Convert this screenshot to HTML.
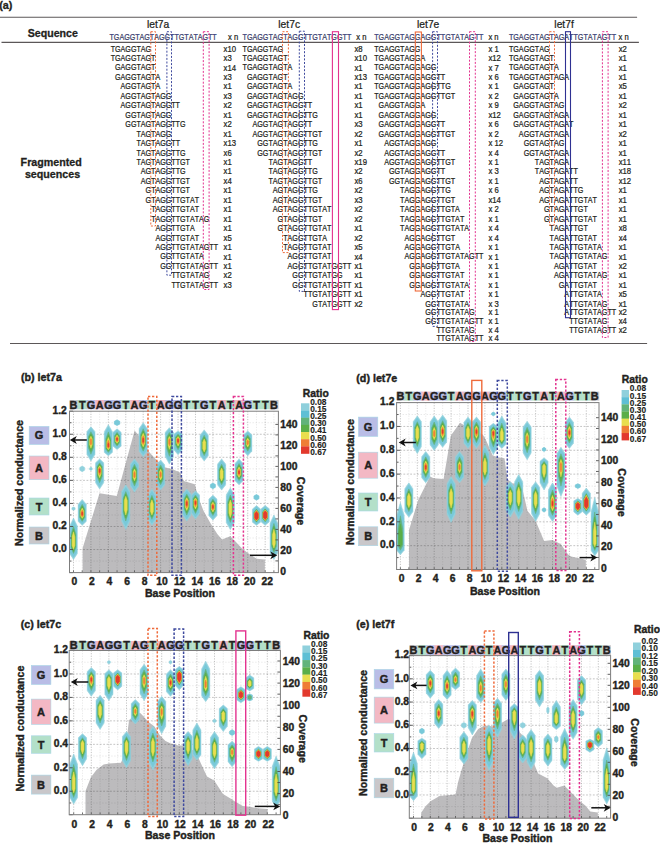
<!DOCTYPE html>
<html><head><meta charset="utf-8"><style>
html,body{margin:0;padding:0;background:#fff;width:660px;height:843px;overflow:hidden}
svg{display:block;font-family:"Liberation Sans",sans-serif;font-kerning:none}
.tb text{stroke:#231f20;stroke-width:0.24px} text[font-weight]{stroke:#231f20;stroke-width:0.4px} .tb text[font-weight]{stroke:#231f20;stroke-width:0.3px} text.cbl{stroke-width:0.15px}
</style></head><body>
<svg width="660" height="843" viewBox="0 0 660 843">
<g class="tb">
<text x="-0.80" y="9.30" font-size="10.8" font-weight="bold" fill="#231f20">(a)</text>
<line x1="0.00" y1="17.30" x2="637.10" y2="17.30" stroke="#5b5758" stroke-width="1.1"/>
<line x1="1.50" y1="42.40" x2="638.90" y2="42.40" stroke="#5b5758" stroke-width="1.1"/>
<line x1="10.00" y1="343.50" x2="647.10" y2="343.50" stroke="#5b5758" stroke-width="1.2"/>
<text x="27.80" y="37.30" font-size="10.6" font-weight="bold" fill="#231f20">Sequence</text>
<text x="51.20" y="165.80" font-size="10.7" font-weight="bold" text-anchor="middle" fill="#231f20">Fragmented</text>
<text x="52.50" y="178.00" font-size="10.7" font-weight="bold" text-anchor="middle" fill="#231f20">sequences</text>
<text x="158.10" y="28.30" font-size="10.3" text-anchor="middle" fill="#231f20">let7a</text>
<g transform="translate(109.50,0) scale(0.8023,1)">
<text x="0.00" y="39.60" font-size="8.9" fill="#4a52a3">TGAGGTAGTAGGTTGTATAGTT</text>
<text x="1.50" y="51.60" font-size="8.9" fill="#231f20">TGAGGTAG</text>
<text x="1.50" y="61.05" font-size="8.9" fill="#231f20">TGAGGTAGT</text>
<text x="6.93" y="70.50" font-size="8.9" fill="#231f20">GAGGTAGT</text>
<text x="6.93" y="79.95" font-size="8.9" fill="#231f20">GAGGTAGTA</text>
<text x="13.85" y="89.40" font-size="8.9" fill="#231f20">AGGTAGTA</text>
<text x="13.85" y="98.85" font-size="8.9" fill="#231f20">AGGTAGTAGG</text>
<text x="13.85" y="108.30" font-size="8.9" fill="#231f20">AGGTAGTAGGTT</text>
<text x="19.79" y="117.75" font-size="8.9" fill="#231f20">GGTAGTAGG</text>
<text x="19.79" y="127.20" font-size="8.9" fill="#231f20">GGTAGTAGGTTG</text>
<text x="33.64" y="136.65" font-size="8.9" fill="#231f20">TAGTAGG</text>
<text x="33.64" y="146.10" font-size="8.9" fill="#231f20">TAGTAGGTT</text>
<text x="33.64" y="155.55" font-size="8.9" fill="#231f20">TAGTAGGTTG</text>
<text x="33.64" y="165.00" font-size="8.9" fill="#231f20">TAGTAGGTTGT</text>
<text x="39.07" y="174.45" font-size="8.9" fill="#231f20">AGTAGGTTG</text>
<text x="39.07" y="183.90" font-size="8.9" fill="#231f20">AGTAGGTTGT</text>
<text x="45.01" y="193.35" font-size="8.9" fill="#231f20">GTAGGTTGT</text>
<text x="45.01" y="202.80" font-size="8.9" fill="#231f20">GTAGGTTGTAT</text>
<text x="51.93" y="212.25" font-size="8.9" fill="#231f20">TAGGTTGTAT</text>
<text x="51.93" y="221.70" font-size="8.9" fill="#231f20">TAGGTTGTATAG</text>
<text x="57.37" y="231.15" font-size="8.9" fill="#231f20">AGGTTGTA</text>
<text x="57.37" y="240.60" font-size="8.9" fill="#231f20">AGGTTGTAT</text>
<text x="57.37" y="250.05" font-size="8.9" fill="#231f20">AGGTTGTATAGTT</text>
<text x="63.30" y="259.50" font-size="8.9" fill="#231f20">GGTTGTATA</text>
<text x="63.30" y="268.95" font-size="8.9" fill="#231f20">GGTTGTATAGTT</text>
<text x="77.15" y="278.40" font-size="8.9" fill="#231f20">TTGTATAG</text>
<text x="77.15" y="287.85" font-size="8.9" fill="#231f20">TTGTATAGTT</text>
</g>
<text transform="translate(228.00,39.6) scale(0.86,1)" font-size="8.9" fill="#231f20">x n</text>
<text transform="translate(223.60,51.60) scale(0.87,1)" font-size="8.9" fill="#231f20" xml:space="preserve">x10</text>
<text transform="translate(223.60,61.05) scale(0.87,1)" font-size="8.9" fill="#231f20" xml:space="preserve">x3</text>
<text transform="translate(223.60,70.50) scale(0.87,1)" font-size="8.9" fill="#231f20" xml:space="preserve">x14</text>
<text transform="translate(223.60,79.95) scale(0.87,1)" font-size="8.9" fill="#231f20" xml:space="preserve">x3</text>
<text transform="translate(223.60,89.40) scale(0.87,1)" font-size="8.9" fill="#231f20" xml:space="preserve">x1</text>
<text transform="translate(223.60,98.85) scale(0.87,1)" font-size="8.9" fill="#231f20" xml:space="preserve">x3</text>
<text transform="translate(223.60,108.30) scale(0.87,1)" font-size="8.9" fill="#231f20" xml:space="preserve">x2</text>
<text transform="translate(223.60,117.75) scale(0.87,1)" font-size="8.9" fill="#231f20" xml:space="preserve">x1</text>
<text transform="translate(223.60,127.20) scale(0.87,1)" font-size="8.9" fill="#231f20" xml:space="preserve">x2</text>
<text transform="translate(223.60,136.65) scale(0.87,1)" font-size="8.9" fill="#231f20" xml:space="preserve">x1</text>
<text transform="translate(223.60,146.10) scale(0.87,1)" font-size="8.9" fill="#231f20" xml:space="preserve">x13</text>
<text transform="translate(223.60,155.55) scale(0.87,1)" font-size="8.9" fill="#231f20" xml:space="preserve">x6</text>
<text transform="translate(223.60,165.00) scale(0.87,1)" font-size="8.9" fill="#231f20" xml:space="preserve">x1</text>
<text transform="translate(223.60,174.45) scale(0.87,1)" font-size="8.9" fill="#231f20" xml:space="preserve">x1</text>
<text transform="translate(223.60,183.90) scale(0.87,1)" font-size="8.9" fill="#231f20" xml:space="preserve">x4</text>
<text transform="translate(223.60,193.35) scale(0.87,1)" font-size="8.9" fill="#231f20" xml:space="preserve">x1</text>
<text transform="translate(223.60,202.80) scale(0.87,1)" font-size="8.9" fill="#231f20" xml:space="preserve">x1</text>
<text transform="translate(223.60,212.25) scale(0.87,1)" font-size="8.9" fill="#231f20" xml:space="preserve">x1</text>
<text transform="translate(223.60,221.70) scale(0.87,1)" font-size="8.9" fill="#231f20" xml:space="preserve">x1</text>
<text transform="translate(223.60,231.15) scale(0.87,1)" font-size="8.9" fill="#231f20" xml:space="preserve">x1</text>
<text transform="translate(223.60,240.60) scale(0.87,1)" font-size="8.9" fill="#231f20" xml:space="preserve">x5</text>
<text transform="translate(223.60,250.05) scale(0.87,1)" font-size="8.9" fill="#231f20" xml:space="preserve">x1</text>
<text transform="translate(223.60,259.50) scale(0.87,1)" font-size="8.9" fill="#231f20" xml:space="preserve">x1</text>
<text transform="translate(223.60,268.95) scale(0.87,1)" font-size="8.9" fill="#231f20" xml:space="preserve">x1</text>
<text transform="translate(223.60,278.40) scale(0.87,1)" font-size="8.9" fill="#231f20" xml:space="preserve">x2</text>
<text transform="translate(223.60,287.85) scale(0.87,1)" font-size="8.9" fill="#231f20" xml:space="preserve">x3</text>
<text x="289.20" y="28.30" font-size="10.3" text-anchor="middle" fill="#231f20">let7c</text>
<g transform="translate(242.50,0) scale(0.8068,1)">
<text x="0.00" y="39.60" font-size="8.9" fill="#4a52a3">TGAGGTAGTAGGTTGTATGGTT</text>
<text x="0.00" y="51.60" font-size="8.9" fill="#231f20">TGAGGTAG</text>
<text x="0.00" y="61.05" font-size="8.9" fill="#231f20">TGAGGTAGT</text>
<text x="0.00" y="70.50" font-size="8.9" fill="#231f20">TGAGGTAGTA</text>
<text x="5.44" y="79.95" font-size="8.9" fill="#231f20">GAGGTAGT</text>
<text x="5.44" y="89.40" font-size="8.9" fill="#231f20">GAGGTAGTA</text>
<text x="5.44" y="98.85" font-size="8.9" fill="#231f20">GAGGTAGTAGG</text>
<text x="5.44" y="108.30" font-size="8.9" fill="#231f20">GAGGTAGTAGGTT</text>
<text x="5.44" y="117.75" font-size="8.9" fill="#231f20">GAGGTAGTAGGTTG</text>
<text x="12.36" y="127.20" font-size="8.9" fill="#231f20">AGGTAGTAGGTT</text>
<text x="12.36" y="136.65" font-size="8.9" fill="#231f20">AGGTAGTAGGTTGT</text>
<text x="18.30" y="146.10" font-size="8.9" fill="#231f20">GGTAGTAGGTTG</text>
<text x="18.30" y="155.55" font-size="8.9" fill="#231f20">GGTAGTAGGTTGT</text>
<text x="32.14" y="165.00" font-size="8.9" fill="#231f20">TAGTAGGTT</text>
<text x="32.14" y="174.45" font-size="8.9" fill="#231f20">TAGTAGGTTG</text>
<text x="32.14" y="183.90" font-size="8.9" fill="#231f20">TAGTAGGTTGT</text>
<text x="37.58" y="193.35" font-size="8.9" fill="#231f20">AGTAGGTTG</text>
<text x="37.58" y="202.80" font-size="8.9" fill="#231f20">AGTAGGTTGT</text>
<text x="37.58" y="212.25" font-size="8.9" fill="#231f20">AGTAGGTTGTAT</text>
<text x="43.51" y="221.70" font-size="8.9" fill="#231f20">GTAGGTTGT</text>
<text x="43.51" y="231.15" font-size="8.9" fill="#231f20">GTAGGTTGTAT</text>
<text x="50.44" y="240.60" font-size="8.9" fill="#231f20">TAGGTTGTA</text>
<text x="50.44" y="250.05" font-size="8.9" fill="#231f20">TAGGTTGTAT</text>
<text x="55.87" y="259.50" font-size="8.9" fill="#231f20">AGGTTGTAT</text>
<text x="55.87" y="268.95" font-size="8.9" fill="#231f20">AGGTTGTATGGTT</text>
<text x="61.81" y="278.40" font-size="8.9" fill="#231f20">GGTTGTATGG</text>
<text x="61.81" y="287.85" font-size="8.9" fill="#231f20">GGTTGTATGGTT</text>
<text x="75.65" y="297.30" font-size="8.9" fill="#231f20">TTGTATGGTT</text>
<text x="86.53" y="306.75" font-size="8.9" fill="#231f20">GTATGGTT</text>
</g>
<text transform="translate(356.20,39.6) scale(0.86,1)" font-size="8.9" fill="#231f20">x n</text>
<text transform="translate(354.50,51.60) scale(0.87,1)" font-size="8.9" fill="#231f20" xml:space="preserve">x8</text>
<text transform="translate(354.50,61.05) scale(0.87,1)" font-size="8.9" fill="#231f20" xml:space="preserve">x10</text>
<text transform="translate(354.50,70.50) scale(0.87,1)" font-size="8.9" fill="#231f20" xml:space="preserve">x1</text>
<text transform="translate(354.50,79.95) scale(0.87,1)" font-size="8.9" fill="#231f20" xml:space="preserve">x13</text>
<text transform="translate(354.50,89.40) scale(0.87,1)" font-size="8.9" fill="#231f20" xml:space="preserve">x1</text>
<text transform="translate(354.50,98.85) scale(0.87,1)" font-size="8.9" fill="#231f20" xml:space="preserve">x1</text>
<text transform="translate(354.50,108.30) scale(0.87,1)" font-size="8.9" fill="#231f20" xml:space="preserve">x1</text>
<text transform="translate(354.50,117.75) scale(0.87,1)" font-size="8.9" fill="#231f20" xml:space="preserve">x1</text>
<text transform="translate(354.50,127.20) scale(0.87,1)" font-size="8.9" fill="#231f20" xml:space="preserve">x3</text>
<text transform="translate(354.50,136.65) scale(0.87,1)" font-size="8.9" fill="#231f20" xml:space="preserve">x2</text>
<text transform="translate(354.50,146.10) scale(0.87,1)" font-size="8.9" fill="#231f20" xml:space="preserve">x1</text>
<text transform="translate(354.50,155.55) scale(0.87,1)" font-size="8.9" fill="#231f20" xml:space="preserve">x2</text>
<text transform="translate(354.50,165.00) scale(0.87,1)" font-size="8.9" fill="#231f20" xml:space="preserve">x19</text>
<text transform="translate(354.50,174.45) scale(0.87,1)" font-size="8.9" fill="#231f20" xml:space="preserve">x2</text>
<text transform="translate(354.50,183.90) scale(0.87,1)" font-size="8.9" fill="#231f20" xml:space="preserve">x6</text>
<text transform="translate(354.50,193.35) scale(0.87,1)" font-size="8.9" fill="#231f20" xml:space="preserve">x2</text>
<text transform="translate(354.50,202.80) scale(0.87,1)" font-size="8.9" fill="#231f20" xml:space="preserve">x3</text>
<text transform="translate(354.50,212.25) scale(0.87,1)" font-size="8.9" fill="#231f20" xml:space="preserve">x2</text>
<text transform="translate(354.50,221.70) scale(0.87,1)" font-size="8.9" fill="#231f20" xml:space="preserve">x2</text>
<text transform="translate(354.50,231.15) scale(0.87,1)" font-size="8.9" fill="#231f20" xml:space="preserve">x1</text>
<text transform="translate(354.50,240.60) scale(0.87,1)" font-size="8.9" fill="#231f20" xml:space="preserve">x2</text>
<text transform="translate(354.50,250.05) scale(0.87,1)" font-size="8.9" fill="#231f20" xml:space="preserve">x5</text>
<text transform="translate(354.50,259.50) scale(0.87,1)" font-size="8.9" fill="#231f20" xml:space="preserve">x4</text>
<text transform="translate(354.50,268.95) scale(0.87,1)" font-size="8.9" fill="#231f20" xml:space="preserve">x1</text>
<text transform="translate(354.50,278.40) scale(0.87,1)" font-size="8.9" fill="#231f20" xml:space="preserve">x1</text>
<text transform="translate(354.50,287.85) scale(0.87,1)" font-size="8.9" fill="#231f20" xml:space="preserve">x1</text>
<text transform="translate(354.50,297.30) scale(0.87,1)" font-size="8.9" fill="#231f20" xml:space="preserve">x1</text>
<text transform="translate(354.50,306.75) scale(0.87,1)" font-size="8.9" fill="#231f20" xml:space="preserve">x2</text>
<text x="428.20" y="28.30" font-size="10.3" text-anchor="middle" fill="#231f20">let7e</text>
<g transform="translate(374.20,0) scale(0.8068,1)">
<text x="0.00" y="39.60" font-size="8.9" fill="#4a52a3">TGAGGTAGGAGGTTGTATAGTT</text>
<text x="0.00" y="51.60" font-size="8.9" fill="#231f20">TGAGGTAGG</text>
<text x="0.00" y="61.05" font-size="8.9" fill="#231f20">TGAGGTAGGA</text>
<text x="0.00" y="70.50" font-size="8.9" fill="#231f20">TGAGGTAGGAGG</text>
<text x="0.00" y="79.95" font-size="8.9" fill="#231f20">TGAGGTAGGAGGTT</text>
<text x="0.00" y="89.40" font-size="8.9" fill="#231f20">TGAGGTAGGAGGTTG</text>
<text x="0.00" y="98.85" font-size="8.9" fill="#231f20">TGAGGTAGGAGGTTGT</text>
<text x="5.44" y="108.30" font-size="8.9" fill="#231f20">GAGGTAGGA</text>
<text x="5.44" y="117.75" font-size="8.9" fill="#231f20">GAGGTAGGAGG</text>
<text x="5.44" y="127.20" font-size="8.9" fill="#231f20">GAGGTAGGAGGTT</text>
<text x="5.44" y="136.65" font-size="8.9" fill="#231f20">GAGGTAGGAGGTTGT</text>
<text x="12.36" y="146.10" font-size="8.9" fill="#231f20">AGGTAGGAGG</text>
<text x="12.36" y="155.55" font-size="8.9" fill="#231f20">AGGTAGGAGGTT</text>
<text x="12.36" y="165.00" font-size="8.9" fill="#231f20">AGGTAGGAGGTTGT</text>
<text x="18.30" y="174.45" font-size="8.9" fill="#231f20">GGTAGGAGGTT</text>
<text x="18.30" y="183.90" font-size="8.9" fill="#231f20">GGTAGGAGGTTGT</text>
<text x="32.14" y="193.35" font-size="8.9" fill="#231f20">TAGGAGGTTG</text>
<text x="32.14" y="202.80" font-size="8.9" fill="#231f20">TAGGAGGTTGT</text>
<text x="32.14" y="212.25" font-size="8.9" fill="#231f20">TAGGAGGTTGTA</text>
<text x="32.14" y="221.70" font-size="8.9" fill="#231f20">TAGGAGGTTGTAT</text>
<text x="32.14" y="231.15" font-size="8.9" fill="#231f20">TAGGAGGTTGTATA</text>
<text x="37.58" y="240.60" font-size="8.9" fill="#231f20">AGGAGGTTGT</text>
<text x="37.58" y="250.05" font-size="8.9" fill="#231f20">AGGAGGTTGTA</text>
<text x="37.58" y="259.50" font-size="8.9" fill="#231f20">AGGAGGTTGTATAGTT</text>
<text x="43.51" y="268.95" font-size="8.9" fill="#231f20">GGAGGTTGTA</text>
<text x="43.51" y="278.40" font-size="8.9" fill="#231f20">GGAGGTTGTAT</text>
<text x="43.51" y="287.85" font-size="8.9" fill="#231f20">GGAGGTTGTATA</text>
<text x="57.36" y="297.30" font-size="8.9" fill="#231f20">AGGTTGTAT</text>
<text x="63.30" y="306.75" font-size="8.9" fill="#231f20">GGTTGTATA</text>
<text x="63.30" y="314.70" font-size="8.9" fill="#231f20">GGTTGTATAG</text>
<text x="63.30" y="324.30" font-size="8.9" fill="#231f20">GGTTGTATAGTT</text>
<text x="77.14" y="333.20" font-size="8.9" fill="#231f20">TTGTATAG</text>
<text x="77.14" y="340.90" font-size="8.9" fill="#231f20">TTGTATAGTT</text>
</g>
<text transform="translate(488.40,39.6) scale(0.86,1)" font-size="8.9" fill="#231f20">x n</text>
<text transform="translate(488.40,51.60) scale(0.87,1)" font-size="8.9" fill="#231f20" xml:space="preserve">x 1</text>
<text transform="translate(488.40,61.05) scale(0.87,1)" font-size="8.9" fill="#231f20" xml:space="preserve">x12</text>
<text transform="translate(488.40,70.50) scale(0.87,1)" font-size="8.9" fill="#231f20" xml:space="preserve">x 7</text>
<text transform="translate(488.40,79.95) scale(0.87,1)" font-size="8.9" fill="#231f20" xml:space="preserve">x 6</text>
<text transform="translate(488.40,89.40) scale(0.87,1)" font-size="8.9" fill="#231f20" xml:space="preserve">x 1</text>
<text transform="translate(488.40,98.85) scale(0.87,1)" font-size="8.9" fill="#231f20" xml:space="preserve">x 2</text>
<text transform="translate(488.40,108.30) scale(0.87,1)" font-size="8.9" fill="#231f20" xml:space="preserve">x 9</text>
<text transform="translate(488.40,117.75) scale(0.87,1)" font-size="8.9" fill="#231f20" xml:space="preserve">x12</text>
<text transform="translate(488.40,127.20) scale(0.87,1)" font-size="8.9" fill="#231f20" xml:space="preserve">x 6</text>
<text transform="translate(488.40,136.65) scale(0.87,1)" font-size="8.9" fill="#231f20" xml:space="preserve">x 2</text>
<text transform="translate(488.40,146.10) scale(0.87,1)" font-size="8.9" fill="#231f20" xml:space="preserve">x 12</text>
<text transform="translate(488.40,155.55) scale(0.87,1)" font-size="8.9" fill="#231f20" xml:space="preserve">x 4</text>
<text transform="translate(488.40,165.00) scale(0.87,1)" font-size="8.9" fill="#231f20" xml:space="preserve">x 1</text>
<text transform="translate(488.40,174.45) scale(0.87,1)" font-size="8.9" fill="#231f20" xml:space="preserve">x 3</text>
<text transform="translate(488.40,183.90) scale(0.87,1)" font-size="8.9" fill="#231f20" xml:space="preserve">x 1</text>
<text transform="translate(488.40,193.35) scale(0.87,1)" font-size="8.9" fill="#231f20" xml:space="preserve">x 6</text>
<text transform="translate(488.40,202.80) scale(0.87,1)" font-size="8.9" fill="#231f20" xml:space="preserve">x14</text>
<text transform="translate(488.40,212.25) scale(0.87,1)" font-size="8.9" fill="#231f20" xml:space="preserve">x 2</text>
<text transform="translate(488.40,221.70) scale(0.87,1)" font-size="8.9" fill="#231f20" xml:space="preserve">x 1</text>
<text transform="translate(488.40,231.15) scale(0.87,1)" font-size="8.9" fill="#231f20" xml:space="preserve">x 4</text>
<text transform="translate(488.40,240.60) scale(0.87,1)" font-size="8.9" fill="#231f20" xml:space="preserve">x 4</text>
<text transform="translate(488.40,250.05) scale(0.87,1)" font-size="8.9" fill="#231f20" xml:space="preserve">x 1</text>
<text transform="translate(488.40,259.50) scale(0.87,1)" font-size="8.9" fill="#231f20" xml:space="preserve">x 1</text>
<text transform="translate(488.40,268.95) scale(0.87,1)" font-size="8.9" fill="#231f20" xml:space="preserve">x 1</text>
<text transform="translate(488.40,278.40) scale(0.87,1)" font-size="8.9" fill="#231f20" xml:space="preserve">x 1</text>
<text transform="translate(488.40,287.85) scale(0.87,1)" font-size="8.9" fill="#231f20" xml:space="preserve">x 1</text>
<text transform="translate(488.40,297.30) scale(0.87,1)" font-size="8.9" fill="#231f20" xml:space="preserve">x 1</text>
<text transform="translate(488.40,306.75) scale(0.87,1)" font-size="8.9" fill="#231f20" xml:space="preserve">x 3</text>
<text transform="translate(488.40,314.70) scale(0.87,1)" font-size="8.9" fill="#231f20" xml:space="preserve">x 1</text>
<text transform="translate(488.40,324.30) scale(0.87,1)" font-size="8.9" fill="#231f20" xml:space="preserve">x 1</text>
<text transform="translate(488.40,333.20) scale(0.87,1)" font-size="8.9" fill="#231f20" xml:space="preserve">x 4</text>
<text transform="translate(488.40,340.90) scale(0.87,1)" font-size="8.9" fill="#231f20" xml:space="preserve">x 4</text>
<text x="564.10" y="28.30" font-size="10.3" text-anchor="middle" fill="#231f20">let7f</text>
<g transform="translate(508.90,0) scale(0.8067,1)">
<text x="0.00" y="39.60" font-size="8.9" fill="#4a52a3">TGAGGTAGTAGATTGTATAGTT</text>
<text x="0.00" y="51.60" font-size="8.9" fill="#231f20">TGAGGTAG</text>
<text x="0.00" y="61.05" font-size="8.9" fill="#231f20">TGAGGTAGT</text>
<text x="0.00" y="70.50" font-size="8.9" fill="#231f20">TGAGGTAGTA</text>
<text x="0.00" y="79.95" font-size="8.9" fill="#231f20">TGAGGTAGTAGA</text>
<text x="5.44" y="89.40" font-size="8.9" fill="#231f20">GAGGTAGT</text>
<text x="5.44" y="98.85" font-size="8.9" fill="#231f20">GAGGTAGTA</text>
<text x="5.44" y="108.30" font-size="8.9" fill="#231f20">GAGGTAGTAG</text>
<text x="5.44" y="117.75" font-size="8.9" fill="#231f20">GAGGTAGTAGA</text>
<text x="5.44" y="127.20" font-size="8.9" fill="#231f20">GAGGTAGTAGAT</text>
<text x="12.36" y="136.65" font-size="8.9" fill="#231f20">AGGTAGTAGA</text>
<text x="18.30" y="146.10" font-size="8.9" fill="#231f20">GGTAGTAG</text>
<text x="18.30" y="155.55" font-size="8.9" fill="#231f20">GGTAGTAGA</text>
<text x="32.14" y="165.00" font-size="8.9" fill="#231f20">TAGTAGA</text>
<text x="32.14" y="174.45" font-size="8.9" fill="#231f20">TAGTAGATT</text>
<text x="37.58" y="183.90" font-size="8.9" fill="#231f20">AGTAGATT</text>
<text x="37.58" y="193.35" font-size="8.9" fill="#231f20">AGTAGATTG</text>
<text x="37.58" y="202.80" font-size="8.9" fill="#231f20">AGTAGATTGTAT</text>
<text x="43.51" y="212.25" font-size="8.9" fill="#231f20">GTAGATTGT</text>
<text x="43.51" y="221.70" font-size="8.9" fill="#231f20">GTAGATTGTAT</text>
<text x="50.44" y="231.15" font-size="8.9" fill="#231f20">TAGATTGT</text>
<text x="50.44" y="240.60" font-size="8.9" fill="#231f20">TAGATTGTAT</text>
<text x="50.44" y="250.05" font-size="8.9" fill="#231f20">TAGATTGTATA</text>
<text x="50.44" y="259.50" font-size="8.9" fill="#231f20">TAGATTGTATAG</text>
<text x="55.87" y="268.95" font-size="8.9" fill="#231f20">AGATTGTAT</text>
<text x="55.87" y="278.40" font-size="8.9" fill="#231f20">AGATTGTATAG</text>
<text x="61.81" y="287.85" font-size="8.9" fill="#231f20">GATTGTAT</text>
<text x="68.73" y="297.30" font-size="8.9" fill="#231f20">ATTGTATA</text>
<text x="68.73" y="306.75" font-size="8.9" fill="#231f20">ATTGTATAG</text>
<text x="68.73" y="314.70" font-size="8.9" fill="#231f20">ATTGTATAGTT</text>
<text x="74.67" y="324.30" font-size="8.9" fill="#231f20">TTGTATAG</text>
<text x="74.67" y="333.20" font-size="8.9" fill="#231f20">TTGTATAGTT</text>
</g>
<text transform="translate(618.60,39.6) scale(0.86,1)" font-size="8.9" fill="#231f20">x n</text>
<text transform="translate(618.70,51.60) scale(0.87,1)" font-size="8.9" fill="#231f20" xml:space="preserve">x2</text>
<text transform="translate(618.70,61.05) scale(0.87,1)" font-size="8.9" fill="#231f20" xml:space="preserve">x1</text>
<text transform="translate(618.70,70.50) scale(0.87,1)" font-size="8.9" fill="#231f20" xml:space="preserve">x1</text>
<text transform="translate(618.70,79.95) scale(0.87,1)" font-size="8.9" fill="#231f20" xml:space="preserve">x1</text>
<text transform="translate(618.70,89.40) scale(0.87,1)" font-size="8.9" fill="#231f20" xml:space="preserve">x5</text>
<text transform="translate(618.70,98.85) scale(0.87,1)" font-size="8.9" fill="#231f20" xml:space="preserve">x1</text>
<text transform="translate(618.70,108.30) scale(0.87,1)" font-size="8.9" fill="#231f20" xml:space="preserve">x2</text>
<text transform="translate(618.70,117.75) scale(0.87,1)" font-size="8.9" fill="#231f20" xml:space="preserve">x1</text>
<text transform="translate(618.70,127.20) scale(0.87,1)" font-size="8.9" fill="#231f20" xml:space="preserve">x1</text>
<text transform="translate(618.70,136.65) scale(0.87,1)" font-size="8.9" fill="#231f20" xml:space="preserve">x2</text>
<text transform="translate(618.70,146.10) scale(0.87,1)" font-size="8.9" fill="#231f20" xml:space="preserve">x1</text>
<text transform="translate(618.70,155.55) scale(0.87,1)" font-size="8.9" fill="#231f20" xml:space="preserve">x1</text>
<text transform="translate(618.70,165.00) scale(0.87,1)" font-size="8.9" fill="#231f20" xml:space="preserve">x11</text>
<text transform="translate(618.70,174.45) scale(0.87,1)" font-size="8.9" fill="#231f20" xml:space="preserve">x18</text>
<text transform="translate(618.70,183.90) scale(0.87,1)" font-size="8.9" fill="#231f20" xml:space="preserve">x12</text>
<text transform="translate(618.70,193.35) scale(0.87,1)" font-size="8.9" fill="#231f20" xml:space="preserve">x1</text>
<text transform="translate(618.70,202.80) scale(0.87,1)" font-size="8.9" fill="#231f20" xml:space="preserve">x1</text>
<text transform="translate(618.70,212.25) scale(0.87,1)" font-size="8.9" fill="#231f20" xml:space="preserve">x1</text>
<text transform="translate(618.70,221.70) scale(0.87,1)" font-size="8.9" fill="#231f20" xml:space="preserve">x1</text>
<text transform="translate(618.70,231.15) scale(0.87,1)" font-size="8.9" fill="#231f20" xml:space="preserve">x8</text>
<text transform="translate(618.70,240.60) scale(0.87,1)" font-size="8.9" fill="#231f20" xml:space="preserve">x4</text>
<text transform="translate(618.70,250.05) scale(0.87,1)" font-size="8.9" fill="#231f20" xml:space="preserve">x1</text>
<text transform="translate(618.70,259.50) scale(0.87,1)" font-size="8.9" fill="#231f20" xml:space="preserve">x1</text>
<text transform="translate(618.70,268.95) scale(0.87,1)" font-size="8.9" fill="#231f20" xml:space="preserve">x2</text>
<text transform="translate(618.70,278.40) scale(0.87,1)" font-size="8.9" fill="#231f20" xml:space="preserve">x1</text>
<text transform="translate(618.70,287.85) scale(0.87,1)" font-size="8.9" fill="#231f20" xml:space="preserve">x1</text>
<text transform="translate(618.70,297.30) scale(0.87,1)" font-size="8.9" fill="#231f20" xml:space="preserve">x5</text>
<text transform="translate(618.70,306.75) scale(0.87,1)" font-size="8.9" fill="#231f20" xml:space="preserve">x1</text>
<text transform="translate(618.70,314.70) scale(0.87,1)" font-size="8.9" fill="#231f20" xml:space="preserve">x2</text>
<text transform="translate(618.70,324.30) scale(0.87,1)" font-size="8.9" fill="#231f20" xml:space="preserve">x4</text>
<text transform="translate(618.70,333.20) scale(0.87,1)" font-size="8.9" fill="#231f20" xml:space="preserve">x2</text>
</g>
<rect x="150.80" y="31.70" width="4.70" height="194.30" fill="none" stroke="#ef6a3a" stroke-width="1" stroke-dasharray="2,1.6"/>
<rect x="166.90" y="31.70" width="4.60" height="243.50" fill="none" stroke="#3f4a9e" stroke-width="1" stroke-dasharray="2,1.6"/>
<rect x="203.30" y="31.70" width="5.80" height="257.80" fill="none" stroke="#e3338f" stroke-width="1" stroke-dasharray="2,1.6"/>
<rect x="282.50" y="31.70" width="5.90" height="220.90" fill="none" stroke="#ef6a3a" stroke-width="1" stroke-dasharray="2,1.6"/>
<rect x="299.30" y="31.20" width="5.20" height="260.20" fill="none" stroke="#3f4a9e" stroke-width="1" stroke-dasharray="2,1.6"/>
<rect x="332.40" y="31.70" width="6.10" height="277.90" fill="none" stroke="#e3338f" stroke-width="1.1"/>
<rect x="415.30" y="32.00" width="6.10" height="259.00" fill="none" stroke="#ef6a3a" stroke-width="1.1"/>
<rect x="432.60" y="31.70" width="4.90" height="294.70" fill="none" stroke="#3f4a9e" stroke-width="1" stroke-dasharray="2,1.6"/>
<rect x="469.50" y="31.70" width="5.80" height="309.80" fill="none" stroke="#e3338f" stroke-width="1" stroke-dasharray="2,1.6"/>
<rect x="549.50" y="31.70" width="5.00" height="193.30" fill="none" stroke="#ef6a3a" stroke-width="1" stroke-dasharray="2,1.6"/>
<rect x="565.50" y="31.70" width="5.00" height="286.00" fill="none" stroke="#2e3192" stroke-width="1.1"/>
<rect x="602.40" y="31.70" width="5.70" height="305.80" fill="none" stroke="#e3338f" stroke-width="1" stroke-dasharray="2,1.6"/>
<text x="20.90" y="380.90" font-size="10.7" font-weight="bold" fill="#231f20">(b) let7a</text>
<rect x="69.50" y="400.00" width="8.66" height="9.30" fill="#c9c7ca"/>
<rect x="77.86" y="400.00" width="9.01" height="9.30" fill="#b3e0c9"/>
<rect x="86.57" y="400.00" width="9.01" height="9.30" fill="#b9bde6"/>
<rect x="95.28" y="400.00" width="9.01" height="9.30" fill="#f3b8c4"/>
<rect x="104.00" y="400.00" width="9.01" height="9.30" fill="#b9bde6"/>
<rect x="112.71" y="400.00" width="9.01" height="9.30" fill="#b9bde6"/>
<rect x="121.42" y="400.00" width="9.01" height="9.30" fill="#b3e0c9"/>
<rect x="130.13" y="400.00" width="9.01" height="9.30" fill="#f3b8c4"/>
<rect x="138.85" y="400.00" width="9.01" height="9.30" fill="#b9bde6"/>
<rect x="147.56" y="400.00" width="9.01" height="9.30" fill="#b3e0c9"/>
<rect x="156.27" y="400.00" width="9.01" height="9.30" fill="#f3b8c4"/>
<rect x="164.99" y="400.00" width="9.01" height="9.30" fill="#b9bde6"/>
<rect x="173.70" y="400.00" width="9.01" height="9.30" fill="#b9bde6"/>
<rect x="182.41" y="400.00" width="9.01" height="9.30" fill="#b3e0c9"/>
<rect x="191.13" y="400.00" width="9.01" height="9.30" fill="#b3e0c9"/>
<rect x="199.84" y="400.00" width="9.01" height="9.30" fill="#b9bde6"/>
<rect x="208.55" y="400.00" width="9.01" height="9.30" fill="#b3e0c9"/>
<rect x="217.26" y="400.00" width="9.01" height="9.30" fill="#f3b8c4"/>
<rect x="225.98" y="400.00" width="9.01" height="9.30" fill="#b3e0c9"/>
<rect x="234.69" y="400.00" width="9.01" height="9.30" fill="#f3b8c4"/>
<rect x="243.40" y="400.00" width="9.01" height="9.30" fill="#b9bde6"/>
<rect x="252.12" y="400.00" width="9.01" height="9.30" fill="#b3e0c9"/>
<rect x="260.83" y="400.00" width="9.01" height="9.30" fill="#b3e0c9"/>
<rect x="269.54" y="400.00" width="9.01" height="9.30" fill="#c9c7ca"/>
<text transform="translate(73.50,408.50) scale(0.97,1)" font-size="11.2" font-weight="bold" text-anchor="middle" fill="#231f20">B</text>
<text transform="translate(82.21,408.50) scale(0.97,1)" font-size="11.2" font-weight="bold" text-anchor="middle" fill="#231f20">T</text>
<text transform="translate(90.93,408.50) scale(0.97,1)" font-size="11.2" font-weight="bold" text-anchor="middle" fill="#231f20">G</text>
<text transform="translate(99.64,408.50) scale(0.97,1)" font-size="11.2" font-weight="bold" text-anchor="middle" fill="#231f20">A</text>
<text transform="translate(108.35,408.50) scale(0.97,1)" font-size="11.2" font-weight="bold" text-anchor="middle" fill="#231f20">G</text>
<text transform="translate(117.06,408.50) scale(0.97,1)" font-size="11.2" font-weight="bold" text-anchor="middle" fill="#231f20">G</text>
<text transform="translate(125.78,408.50) scale(0.97,1)" font-size="11.2" font-weight="bold" text-anchor="middle" fill="#231f20">T</text>
<text transform="translate(134.49,408.50) scale(0.97,1)" font-size="11.2" font-weight="bold" text-anchor="middle" fill="#231f20">A</text>
<text transform="translate(143.20,408.50) scale(0.97,1)" font-size="11.2" font-weight="bold" text-anchor="middle" fill="#231f20">G</text>
<text transform="translate(151.92,408.50) scale(0.97,1)" font-size="11.2" font-weight="bold" text-anchor="middle" fill="#231f20">T</text>
<text transform="translate(160.63,408.50) scale(0.97,1)" font-size="11.2" font-weight="bold" text-anchor="middle" fill="#231f20">A</text>
<text transform="translate(169.34,408.50) scale(0.97,1)" font-size="11.2" font-weight="bold" text-anchor="middle" fill="#231f20">G</text>
<text transform="translate(178.06,408.50) scale(0.97,1)" font-size="11.2" font-weight="bold" text-anchor="middle" fill="#231f20">G</text>
<text transform="translate(186.77,408.50) scale(0.97,1)" font-size="11.2" font-weight="bold" text-anchor="middle" fill="#231f20">T</text>
<text transform="translate(195.48,408.50) scale(0.97,1)" font-size="11.2" font-weight="bold" text-anchor="middle" fill="#231f20">T</text>
<text transform="translate(204.19,408.50) scale(0.97,1)" font-size="11.2" font-weight="bold" text-anchor="middle" fill="#231f20">G</text>
<text transform="translate(212.91,408.50) scale(0.97,1)" font-size="11.2" font-weight="bold" text-anchor="middle" fill="#231f20">T</text>
<text transform="translate(221.62,408.50) scale(0.97,1)" font-size="11.2" font-weight="bold" text-anchor="middle" fill="#231f20">A</text>
<text transform="translate(230.33,408.50) scale(0.97,1)" font-size="11.2" font-weight="bold" text-anchor="middle" fill="#231f20">T</text>
<text transform="translate(239.05,408.50) scale(0.97,1)" font-size="11.2" font-weight="bold" text-anchor="middle" fill="#231f20">A</text>
<text transform="translate(247.76,408.50) scale(0.97,1)" font-size="11.2" font-weight="bold" text-anchor="middle" fill="#231f20">G</text>
<text transform="translate(256.47,408.50) scale(0.97,1)" font-size="11.2" font-weight="bold" text-anchor="middle" fill="#231f20">T</text>
<text transform="translate(265.19,408.50) scale(0.97,1)" font-size="11.2" font-weight="bold" text-anchor="middle" fill="#231f20">T</text>
<text transform="translate(273.90,408.50) scale(0.97,1)" font-size="11.2" font-weight="bold" text-anchor="middle" fill="#231f20">B</text>
<polygon points="82.60,572.60 82.60,548.20 99.50,493.20 116.80,496.00 134.60,430.50 140.00,437.00 148.20,451.00 157.00,460.50 164.60,467.30 172.80,469.30 180.30,472.80 183.70,481.00 194.80,484.30 198.20,497.30 203.60,511.00 210.50,523.20 217.30,534.10 222.00,539.60 230.20,536.20 235.00,541.00 242.50,549.10 250.00,554.60 256.80,558.70 264.80,559.40 264.80,572.60" fill="#bcbbbd"/>
<line x1="73.50" y1="411.20" x2="73.50" y2="572.60" stroke="rgba(50,50,50,0.42)" stroke-width="0.7" stroke-dasharray="1.2,1.4"/>
<line x1="82.21" y1="411.20" x2="82.21" y2="572.60" stroke="rgba(60,60,60,0.16)" stroke-width="0.7" stroke-dasharray="1.2,1.4"/>
<line x1="90.93" y1="411.20" x2="90.93" y2="572.60" stroke="rgba(50,50,50,0.42)" stroke-width="0.7" stroke-dasharray="1.2,1.4"/>
<line x1="99.64" y1="411.20" x2="99.64" y2="572.60" stroke="rgba(60,60,60,0.16)" stroke-width="0.7" stroke-dasharray="1.2,1.4"/>
<line x1="108.35" y1="411.20" x2="108.35" y2="572.60" stroke="rgba(50,50,50,0.42)" stroke-width="0.7" stroke-dasharray="1.2,1.4"/>
<line x1="117.06" y1="411.20" x2="117.06" y2="572.60" stroke="rgba(60,60,60,0.16)" stroke-width="0.7" stroke-dasharray="1.2,1.4"/>
<line x1="125.78" y1="411.20" x2="125.78" y2="572.60" stroke="rgba(50,50,50,0.42)" stroke-width="0.7" stroke-dasharray="1.2,1.4"/>
<line x1="134.49" y1="411.20" x2="134.49" y2="572.60" stroke="rgba(60,60,60,0.16)" stroke-width="0.7" stroke-dasharray="1.2,1.4"/>
<line x1="143.20" y1="411.20" x2="143.20" y2="572.60" stroke="rgba(50,50,50,0.42)" stroke-width="0.7" stroke-dasharray="1.2,1.4"/>
<line x1="151.92" y1="411.20" x2="151.92" y2="572.60" stroke="rgba(60,60,60,0.16)" stroke-width="0.7" stroke-dasharray="1.2,1.4"/>
<line x1="160.63" y1="411.20" x2="160.63" y2="572.60" stroke="rgba(50,50,50,0.42)" stroke-width="0.7" stroke-dasharray="1.2,1.4"/>
<line x1="169.34" y1="411.20" x2="169.34" y2="572.60" stroke="rgba(60,60,60,0.16)" stroke-width="0.7" stroke-dasharray="1.2,1.4"/>
<line x1="178.06" y1="411.20" x2="178.06" y2="572.60" stroke="rgba(50,50,50,0.42)" stroke-width="0.7" stroke-dasharray="1.2,1.4"/>
<line x1="186.77" y1="411.20" x2="186.77" y2="572.60" stroke="rgba(60,60,60,0.16)" stroke-width="0.7" stroke-dasharray="1.2,1.4"/>
<line x1="195.48" y1="411.20" x2="195.48" y2="572.60" stroke="rgba(50,50,50,0.42)" stroke-width="0.7" stroke-dasharray="1.2,1.4"/>
<line x1="204.19" y1="411.20" x2="204.19" y2="572.60" stroke="rgba(60,60,60,0.16)" stroke-width="0.7" stroke-dasharray="1.2,1.4"/>
<line x1="212.91" y1="411.20" x2="212.91" y2="572.60" stroke="rgba(50,50,50,0.42)" stroke-width="0.7" stroke-dasharray="1.2,1.4"/>
<line x1="221.62" y1="411.20" x2="221.62" y2="572.60" stroke="rgba(60,60,60,0.16)" stroke-width="0.7" stroke-dasharray="1.2,1.4"/>
<line x1="230.33" y1="411.20" x2="230.33" y2="572.60" stroke="rgba(50,50,50,0.42)" stroke-width="0.7" stroke-dasharray="1.2,1.4"/>
<line x1="239.05" y1="411.20" x2="239.05" y2="572.60" stroke="rgba(60,60,60,0.16)" stroke-width="0.7" stroke-dasharray="1.2,1.4"/>
<line x1="247.76" y1="411.20" x2="247.76" y2="572.60" stroke="rgba(50,50,50,0.42)" stroke-width="0.7" stroke-dasharray="1.2,1.4"/>
<line x1="256.47" y1="411.20" x2="256.47" y2="572.60" stroke="rgba(60,60,60,0.16)" stroke-width="0.7" stroke-dasharray="1.2,1.4"/>
<line x1="265.19" y1="411.20" x2="265.19" y2="572.60" stroke="rgba(50,50,50,0.42)" stroke-width="0.7" stroke-dasharray="1.2,1.4"/>
<line x1="273.90" y1="411.20" x2="273.90" y2="572.60" stroke="rgba(60,60,60,0.16)" stroke-width="0.7" stroke-dasharray="1.2,1.4"/>
<line x1="69.50" y1="561.07" x2="278.40" y2="561.07" stroke="rgba(60,60,60,0.16)" stroke-width="0.7" stroke-dasharray="1.4,1.6"/>
<line x1="69.50" y1="549.54" x2="278.40" y2="549.54" stroke="rgba(50,50,50,0.42)" stroke-width="0.7" stroke-dasharray="1.8,1.6"/>
<line x1="69.50" y1="538.01" x2="278.40" y2="538.01" stroke="rgba(60,60,60,0.16)" stroke-width="0.7" stroke-dasharray="1.4,1.6"/>
<line x1="69.50" y1="526.49" x2="278.40" y2="526.49" stroke="rgba(50,50,50,0.42)" stroke-width="0.7" stroke-dasharray="1.8,1.6"/>
<line x1="69.50" y1="514.96" x2="278.40" y2="514.96" stroke="rgba(60,60,60,0.16)" stroke-width="0.7" stroke-dasharray="1.4,1.6"/>
<line x1="69.50" y1="503.43" x2="278.40" y2="503.43" stroke="rgba(50,50,50,0.42)" stroke-width="0.7" stroke-dasharray="1.8,1.6"/>
<line x1="69.50" y1="491.90" x2="278.40" y2="491.90" stroke="rgba(60,60,60,0.16)" stroke-width="0.7" stroke-dasharray="1.4,1.6"/>
<line x1="69.50" y1="480.37" x2="278.40" y2="480.37" stroke="rgba(50,50,50,0.42)" stroke-width="0.7" stroke-dasharray="1.8,1.6"/>
<line x1="69.50" y1="468.84" x2="278.40" y2="468.84" stroke="rgba(60,60,60,0.16)" stroke-width="0.7" stroke-dasharray="1.4,1.6"/>
<line x1="69.50" y1="457.31" x2="278.40" y2="457.31" stroke="rgba(50,50,50,0.42)" stroke-width="0.7" stroke-dasharray="1.8,1.6"/>
<line x1="69.50" y1="445.79" x2="278.40" y2="445.79" stroke="rgba(60,60,60,0.16)" stroke-width="0.7" stroke-dasharray="1.4,1.6"/>
<line x1="69.50" y1="434.26" x2="278.40" y2="434.26" stroke="rgba(50,50,50,0.42)" stroke-width="0.7" stroke-dasharray="1.8,1.6"/>
<line x1="69.50" y1="422.73" x2="278.40" y2="422.73" stroke="rgba(60,60,60,0.16)" stroke-width="0.7" stroke-dasharray="1.4,1.6"/>
<path d="M73.50,518.07 L77.30,525.91 L77.30,553.64 L73.50,559.46 L69.70,553.64 L69.70,525.91 Z" fill="#90d1dd" stroke="#90d1dd" stroke-width="0.5" stroke-linejoin="round"/>
<path d="M73.50,520.92 L76.69,527.82 L76.69,552.22 L73.50,557.34 L70.31,552.22 L70.31,527.82 Z" fill="#78c9d9" stroke="#78c9d9" stroke-width="0.5" stroke-linejoin="round"/>
<path d="M73.50,526.14 L75.86,533.98 L75.86,547.64 L73.50,553.46 L71.14,547.64 L71.14,533.98 Z" fill="#63b27c" stroke="#63b27c" stroke-width="0.5" stroke-linejoin="round"/>
<path d="M73.50,528.99 L75.36,535.41 L75.36,546.58 L73.50,551.34 L71.64,546.58 L71.64,535.41 Z" fill="#5aae48" stroke="#5aae48" stroke-width="0.5" stroke-linejoin="round"/>
<path d="M73.50,531.84 L74.87,536.83 L74.87,545.52 L73.50,549.23 L72.13,545.52 L72.13,536.83 Z" fill="#e8de4e" stroke="#e8de4e" stroke-width="0.5" stroke-linejoin="round"/>
<path d="M73.50,506.89 L75.10,507.81 L75.10,509.54 L73.50,510.35 L71.90,509.54 L71.90,507.81 Z" fill="#90d1dd" stroke="#90d1dd" stroke-width="0.5" stroke-linejoin="round"/>
<path d="M82.21,499.39 L86.26,504.15 L86.26,521.53 L82.21,525.33 L78.16,521.53 L78.16,504.15 Z" fill="#90d1dd" stroke="#90d1dd" stroke-width="0.5" stroke-linejoin="round"/>
<path d="M82.21,501.12 L85.61,505.31 L85.61,520.60 L82.21,523.95 L78.81,520.60 L78.81,505.31 Z" fill="#78c9d9" stroke="#78c9d9" stroke-width="0.5" stroke-linejoin="round"/>
<path d="M82.21,504.29 L84.72,509.05 L84.72,517.61 L82.21,521.41 L79.70,517.61 L79.70,509.05 Z" fill="#63b27c" stroke="#63b27c" stroke-width="0.5" stroke-linejoin="round"/>
<path d="M82.21,506.20 L84.22,510.00 L84.22,516.84 L82.21,519.89 L80.21,516.84 L80.21,510.00 Z" fill="#5aae48" stroke="#5aae48" stroke-width="0.5" stroke-linejoin="round"/>
<path d="M82.21,508.11 L83.71,510.96 L83.71,516.08 L82.21,518.36 L80.71,516.08 L80.71,510.96 Z" fill="#e8de4e" stroke="#e8de4e" stroke-width="0.5" stroke-linejoin="round"/>
<path d="M82.21,510.02 L83.21,511.91 L83.21,515.32 L82.21,516.83 L81.22,515.32 L81.22,511.91 Z" fill="#ef7d35" stroke="#ef7d35" stroke-width="0.5" stroke-linejoin="round"/>
<path d="M82.21,511.93 L82.70,512.87 L82.70,514.55 L82.21,515.30 L81.73,514.55 L81.73,512.87 Z" fill="#e2392d" stroke="#e2392d" stroke-width="0.5" stroke-linejoin="round"/>
<path d="M82.21,465.96 L84.61,467.40 L84.61,470.28 L82.21,471.73 L79.81,470.28 L79.81,467.40 Z" fill="#90d1dd" stroke="#90d1dd" stroke-width="0.5" stroke-linejoin="round"/>
<path d="M90.93,426.76 L94.98,431.56 L94.98,454.50 L90.93,461.00 L86.88,454.50 L86.88,431.56 Z" fill="#90d1dd" stroke="#90d1dd" stroke-width="0.5" stroke-linejoin="round"/>
<path d="M90.93,428.51 L94.33,432.73 L94.33,452.91 L90.93,458.64 L87.52,452.91 L87.52,432.73 Z" fill="#78c9d9" stroke="#78c9d9" stroke-width="0.5" stroke-linejoin="round"/>
<path d="M90.93,431.70 L93.44,436.50 L93.44,447.80 L90.93,454.30 L88.42,447.80 L88.42,436.50 Z" fill="#63b27c" stroke="#63b27c" stroke-width="0.5" stroke-linejoin="round"/>
<path d="M90.93,433.93 L92.83,437.61 L92.83,446.28 L90.93,451.28 L89.02,446.28 L89.02,437.61 Z" fill="#5aae48" stroke="#5aae48" stroke-width="0.5" stroke-linejoin="round"/>
<path d="M90.93,436.16 L92.22,438.72 L92.22,444.77 L90.93,448.26 L89.63,444.77 L89.63,438.72 Z" fill="#e8de4e" stroke="#e8de4e" stroke-width="0.5" stroke-linejoin="round"/>
<path d="M90.93,438.38 L91.61,439.84 L91.61,443.26 L90.93,445.23 L90.24,443.26 L90.24,439.84 Z" fill="#ef7d35" stroke="#ef7d35" stroke-width="0.5" stroke-linejoin="round"/>
<path d="M90.93,467.11 L92.23,467.98 L92.23,469.71 L90.93,470.57 L89.63,469.71 L89.63,467.98 Z" fill="#90d1dd" stroke="#90d1dd" stroke-width="0.5" stroke-linejoin="round"/>
<path d="M99.64,458.93 L103.69,462.69 L103.69,482.85 L99.64,489.02 L95.59,482.85 L95.59,462.69 Z" fill="#90d1dd" stroke="#90d1dd" stroke-width="0.5" stroke-linejoin="round"/>
<path d="M99.64,460.30 L103.04,463.61 L103.04,481.35 L99.64,486.78 L96.24,481.35 L96.24,463.61 Z" fill="#78c9d9" stroke="#78c9d9" stroke-width="0.5" stroke-linejoin="round"/>
<path d="M99.64,462.81 L102.15,466.58 L102.15,476.50 L99.64,482.67 L97.13,476.50 L97.13,466.58 Z" fill="#63b27c" stroke="#63b27c" stroke-width="0.5" stroke-linejoin="round"/>
<path d="M99.64,464.32 L101.64,467.33 L101.64,475.27 L99.64,480.19 L97.63,475.27 L97.63,467.33 Z" fill="#5aae48" stroke="#5aae48" stroke-width="0.5" stroke-linejoin="round"/>
<path d="M99.64,465.83 L101.14,468.09 L101.14,474.03 L99.64,477.72 L98.14,474.03 L98.14,468.09 Z" fill="#e8de4e" stroke="#e8de4e" stroke-width="0.5" stroke-linejoin="round"/>
<path d="M99.64,467.35 L100.63,468.84 L100.63,472.79 L99.64,475.24 L98.65,472.79 L98.65,468.84 Z" fill="#ef7d35" stroke="#ef7d35" stroke-width="0.5" stroke-linejoin="round"/>
<path d="M99.64,468.86 L100.12,469.60 L100.12,471.56 L99.64,472.77 L99.15,471.56 L99.15,469.60 Z" fill="#e2392d" stroke="#e2392d" stroke-width="0.5" stroke-linejoin="round"/>
<path d="M108.35,424.69 L112.40,431.65 L112.40,452.51 L108.35,455.82 L104.30,452.51 L104.30,431.65 Z" fill="#90d1dd" stroke="#90d1dd" stroke-width="0.5" stroke-linejoin="round"/>
<path d="M108.35,427.22 L111.75,433.35 L111.75,451.70 L108.35,454.61 L104.95,451.70 L104.95,433.35 Z" fill="#78c9d9" stroke="#78c9d9" stroke-width="0.5" stroke-linejoin="round"/>
<path d="M108.35,431.86 L110.86,438.82 L110.86,449.10 L108.35,452.41 L105.84,449.10 L105.84,438.82 Z" fill="#63b27c" stroke="#63b27c" stroke-width="0.5" stroke-linejoin="round"/>
<path d="M108.35,434.66 L110.36,440.22 L110.36,448.43 L108.35,451.08 L106.35,448.43 L106.35,440.22 Z" fill="#5aae48" stroke="#5aae48" stroke-width="0.5" stroke-linejoin="round"/>
<path d="M108.35,437.45 L109.85,441.62 L109.85,447.77 L108.35,449.75 L106.85,447.77 L106.85,441.62 Z" fill="#e8de4e" stroke="#e8de4e" stroke-width="0.5" stroke-linejoin="round"/>
<path d="M108.35,440.25 L109.34,443.02 L109.34,447.10 L108.35,448.42 L107.36,447.10 L107.36,443.02 Z" fill="#ef7d35" stroke="#ef7d35" stroke-width="0.5" stroke-linejoin="round"/>
<path d="M108.35,443.04 L108.84,444.41 L108.84,446.44 L108.35,447.09 L107.87,446.44 L107.87,444.41 Z" fill="#e2392d" stroke="#e2392d" stroke-width="0.5" stroke-linejoin="round"/>
<path d="M117.06,428.84 L121.11,432.26 L121.11,446.17 L117.06,449.59 L113.02,446.17 L113.02,432.26 Z" fill="#90d1dd" stroke="#90d1dd" stroke-width="0.5" stroke-linejoin="round"/>
<path d="M117.06,430.08 L120.47,433.10 L120.47,445.33 L117.06,448.35 L113.66,445.33 L113.66,433.10 Z" fill="#78c9d9" stroke="#78c9d9" stroke-width="0.5" stroke-linejoin="round"/>
<path d="M117.06,432.37 L119.58,435.79 L119.58,442.64 L117.06,446.06 L114.55,442.64 L114.55,435.79 Z" fill="#63b27c" stroke="#63b27c" stroke-width="0.5" stroke-linejoin="round"/>
<path d="M117.06,433.74 L119.07,436.48 L119.07,441.95 L117.06,444.69 L115.06,441.95 L115.06,436.48 Z" fill="#5aae48" stroke="#5aae48" stroke-width="0.5" stroke-linejoin="round"/>
<path d="M117.06,435.12 L118.56,437.17 L118.56,441.26 L117.06,443.31 L115.57,441.26 L115.57,437.17 Z" fill="#e8de4e" stroke="#e8de4e" stroke-width="0.5" stroke-linejoin="round"/>
<path d="M117.06,436.49 L118.06,437.85 L118.06,440.58 L117.06,441.94 L116.07,440.58 L116.07,437.85 Z" fill="#ef7d35" stroke="#ef7d35" stroke-width="0.5" stroke-linejoin="round"/>
<path d="M117.06,437.87 L117.55,438.54 L117.55,439.89 L117.06,440.56 L116.58,439.89 L116.58,438.54 Z" fill="#e2392d" stroke="#e2392d" stroke-width="0.5" stroke-linejoin="round"/>
<path d="M117.06,419.85 L119.86,421.29 L119.86,424.17 L117.06,425.61 L114.27,424.17 L114.27,421.29 Z" fill="#90d1dd" stroke="#90d1dd" stroke-width="0.5" stroke-linejoin="round"/>
<path d="M117.06,420.19 L119.42,421.46 L119.42,424.00 L117.06,425.26 L114.71,424.00 L114.71,421.46 Z" fill="#78c9d9" stroke="#78c9d9" stroke-width="0.5" stroke-linejoin="round"/>
<path d="M125.78,484.87 L129.83,491.37 L129.83,521.27 L125.78,529.48 L121.73,521.27 L121.73,491.37 Z" fill="#90d1dd" stroke="#90d1dd" stroke-width="0.5" stroke-linejoin="round"/>
<path d="M125.78,487.23 L129.18,492.96 L129.18,519.26 L125.78,526.49 L122.38,519.26 L122.38,492.96 Z" fill="#78c9d9" stroke="#78c9d9" stroke-width="0.5" stroke-linejoin="round"/>
<path d="M125.78,491.57 L128.29,498.08 L128.29,512.80 L125.78,521.02 L123.27,512.80 L123.27,498.08 Z" fill="#63b27c" stroke="#63b27c" stroke-width="0.5" stroke-linejoin="round"/>
<path d="M125.78,493.94 L127.76,499.26 L127.76,511.30 L125.78,518.03 L123.79,511.30 L123.79,499.26 Z" fill="#5aae48" stroke="#5aae48" stroke-width="0.5" stroke-linejoin="round"/>
<path d="M125.78,496.30 L127.24,500.44 L127.24,509.81 L125.78,515.04 L124.32,509.81 L124.32,500.44 Z" fill="#e8de4e" stroke="#e8de4e" stroke-width="0.5" stroke-linejoin="round"/>
<path d="M134.49,458.93 L138.54,464.06 L138.54,486.31 L134.49,492.13 L130.44,486.31 L130.44,464.06 Z" fill="#90d1dd" stroke="#90d1dd" stroke-width="0.5" stroke-linejoin="round"/>
<path d="M134.49,460.80 L137.89,465.32 L137.89,484.89 L134.49,490.01 L131.09,484.89 L131.09,465.32 Z" fill="#78c9d9" stroke="#78c9d9" stroke-width="0.5" stroke-linejoin="round"/>
<path d="M134.49,464.22 L137.00,469.36 L137.00,480.31 L134.49,486.13 L131.98,480.31 L131.98,469.36 Z" fill="#63b27c" stroke="#63b27c" stroke-width="0.5" stroke-linejoin="round"/>
<path d="M134.49,466.61 L136.39,470.55 L136.39,478.96 L134.49,483.43 L132.59,478.96 L132.59,470.55 Z" fill="#5aae48" stroke="#5aae48" stroke-width="0.5" stroke-linejoin="round"/>
<path d="M134.49,468.99 L135.79,471.74 L135.79,477.61 L134.49,480.72 L133.19,477.61 L133.19,471.74 Z" fill="#e8de4e" stroke="#e8de4e" stroke-width="0.5" stroke-linejoin="round"/>
<path d="M134.49,471.38 L135.18,472.94 L135.18,476.26 L134.49,478.02 L133.80,476.26 L133.80,472.94 Z" fill="#ef7d35" stroke="#ef7d35" stroke-width="0.5" stroke-linejoin="round"/>
<path d="M143.20,422.73 L147.25,428.51 L147.25,451.37 L143.20,456.85 L139.15,451.37 L139.15,428.51 Z" fill="#90d1dd" stroke="#90d1dd" stroke-width="0.5" stroke-linejoin="round"/>
<path d="M143.20,424.83 L146.61,429.92 L146.61,450.04 L143.20,454.86 L139.80,450.04 L139.80,429.92 Z" fill="#78c9d9" stroke="#78c9d9" stroke-width="0.5" stroke-linejoin="round"/>
<path d="M143.20,428.69 L145.72,434.47 L145.72,445.73 L143.20,451.21 L140.69,445.73 L140.69,434.47 Z" fill="#63b27c" stroke="#63b27c" stroke-width="0.5" stroke-linejoin="round"/>
<path d="M143.20,431.01 L145.21,435.63 L145.21,444.63 L143.20,449.01 L141.20,444.63 L141.20,435.63 Z" fill="#5aae48" stroke="#5aae48" stroke-width="0.5" stroke-linejoin="round"/>
<path d="M143.20,433.33 L144.70,436.79 L144.70,443.53 L143.20,446.81 L141.71,443.53 L141.71,436.79 Z" fill="#e8de4e" stroke="#e8de4e" stroke-width="0.5" stroke-linejoin="round"/>
<path d="M143.20,435.65 L144.20,437.95 L144.20,442.43 L143.20,444.61 L142.21,442.43 L142.21,437.95 Z" fill="#ef7d35" stroke="#ef7d35" stroke-width="0.5" stroke-linejoin="round"/>
<path d="M143.20,437.97 L143.69,439.11 L143.69,441.33 L143.20,442.41 L142.72,441.33 L142.72,439.11 Z" fill="#e2392d" stroke="#e2392d" stroke-width="0.5" stroke-linejoin="round"/>
<path d="M151.92,489.02 L155.97,495.18 L155.97,519.51 L151.92,525.33 L147.87,519.51 L147.87,495.18 Z" fill="#90d1dd" stroke="#90d1dd" stroke-width="0.5" stroke-linejoin="round"/>
<path d="M151.92,491.26 L155.32,496.68 L155.32,518.09 L151.92,523.22 L148.51,518.09 L148.51,496.68 Z" fill="#78c9d9" stroke="#78c9d9" stroke-width="0.5" stroke-linejoin="round"/>
<path d="M151.92,495.37 L154.43,501.53 L154.43,513.51 L151.92,519.34 L149.41,513.51 L149.41,501.53 Z" fill="#63b27c" stroke="#63b27c" stroke-width="0.5" stroke-linejoin="round"/>
<path d="M151.92,497.61 L153.90,502.65 L153.90,512.46 L151.92,517.22 L149.93,512.46 L149.93,502.65 Z" fill="#5aae48" stroke="#5aae48" stroke-width="0.5" stroke-linejoin="round"/>
<path d="M151.92,499.85 L153.37,503.77 L153.37,511.40 L151.92,515.10 L150.46,511.40 L150.46,503.77 Z" fill="#e8de4e" stroke="#e8de4e" stroke-width="0.5" stroke-linejoin="round"/>
<path d="M160.63,459.97 L164.68,464.76 L164.68,484.92 L160.63,490.06 L156.58,484.92 L156.58,464.76 Z" fill="#90d1dd" stroke="#90d1dd" stroke-width="0.5" stroke-linejoin="round"/>
<path d="M160.63,461.71 L164.03,465.93 L164.03,483.67 L160.63,488.19 L157.23,483.67 L157.23,465.93 Z" fill="#78c9d9" stroke="#78c9d9" stroke-width="0.5" stroke-linejoin="round"/>
<path d="M160.63,464.90 L163.14,469.70 L163.14,479.63 L160.63,484.76 L158.12,479.63 L158.12,469.70 Z" fill="#63b27c" stroke="#63b27c" stroke-width="0.5" stroke-linejoin="round"/>
<path d="M160.63,467.13 L162.53,470.81 L162.53,478.43 L160.63,482.38 L158.73,478.43 L158.73,470.81 Z" fill="#5aae48" stroke="#5aae48" stroke-width="0.5" stroke-linejoin="round"/>
<path d="M160.63,469.36 L161.93,471.93 L161.93,477.24 L160.63,479.99 L159.33,477.24 L159.33,471.93 Z" fill="#e8de4e" stroke="#e8de4e" stroke-width="0.5" stroke-linejoin="round"/>
<path d="M160.63,471.59 L161.32,473.04 L161.32,476.05 L160.63,477.60 L159.94,476.05 L159.94,473.04 Z" fill="#ef7d35" stroke="#ef7d35" stroke-width="0.5" stroke-linejoin="round"/>
<path d="M169.34,427.80 L173.39,432.25 L173.39,456.58 L169.34,464.12 L165.29,456.58 L165.29,432.25 Z" fill="#90d1dd" stroke="#90d1dd" stroke-width="0.5" stroke-linejoin="round"/>
<path d="M169.34,429.42 L172.74,433.34 L172.74,454.75 L169.34,461.38 L165.94,454.75 L165.94,433.34 Z" fill="#78c9d9" stroke="#78c9d9" stroke-width="0.5" stroke-linejoin="round"/>
<path d="M169.34,432.39 L171.85,436.84 L171.85,448.82 L169.34,456.36 L166.83,448.82 L166.83,436.84 Z" fill="#63b27c" stroke="#63b27c" stroke-width="0.5" stroke-linejoin="round"/>
<path d="M169.34,434.46 L171.25,437.87 L171.25,447.07 L169.34,452.86 L167.44,447.07 L167.44,437.87 Z" fill="#5aae48" stroke="#5aae48" stroke-width="0.5" stroke-linejoin="round"/>
<path d="M169.34,436.52 L170.64,438.91 L170.64,445.32 L169.34,449.35 L168.05,445.32 L168.05,438.91 Z" fill="#e8de4e" stroke="#e8de4e" stroke-width="0.5" stroke-linejoin="round"/>
<path d="M169.34,438.59 L170.03,439.94 L170.03,443.57 L169.34,445.85 L168.65,443.57 L168.65,439.94 Z" fill="#ef7d35" stroke="#ef7d35" stroke-width="0.5" stroke-linejoin="round"/>
<path d="M178.06,430.91 L182.11,434.00 L182.11,449.98 L178.06,454.78 L174.01,449.98 L174.01,434.00 Z" fill="#90d1dd" stroke="#90d1dd" stroke-width="0.5" stroke-linejoin="round"/>
<path d="M178.06,432.03 L181.46,434.75 L181.46,448.82 L178.06,453.03 L174.65,448.82 L174.65,434.75 Z" fill="#78c9d9" stroke="#78c9d9" stroke-width="0.5" stroke-linejoin="round"/>
<path d="M178.06,434.09 L180.57,437.17 L180.57,445.05 L178.06,449.84 L175.54,445.05 L175.54,437.17 Z" fill="#63b27c" stroke="#63b27c" stroke-width="0.5" stroke-linejoin="round"/>
<path d="M178.06,435.33 L180.06,437.79 L180.06,444.08 L178.06,447.91 L176.05,444.08 L176.05,437.79 Z" fill="#5aae48" stroke="#5aae48" stroke-width="0.5" stroke-linejoin="round"/>
<path d="M178.06,436.56 L179.55,438.41 L179.55,443.12 L178.06,445.99 L176.56,443.12 L176.56,438.41 Z" fill="#e8de4e" stroke="#e8de4e" stroke-width="0.5" stroke-linejoin="round"/>
<path d="M178.06,437.80 L179.05,439.03 L179.05,442.16 L178.06,444.07 L177.06,442.16 L177.06,439.03 Z" fill="#ef7d35" stroke="#ef7d35" stroke-width="0.5" stroke-linejoin="round"/>
<path d="M178.06,439.04 L178.54,439.65 L178.54,441.20 L178.06,442.14 L177.57,441.20 L177.57,439.65 Z" fill="#e2392d" stroke="#e2392d" stroke-width="0.5" stroke-linejoin="round"/>
<path d="M186.77,489.02 L190.82,493.77 L190.82,515.32 L186.77,521.18 L182.72,515.32 L182.72,493.77 Z" fill="#90d1dd" stroke="#90d1dd" stroke-width="0.5" stroke-linejoin="round"/>
<path d="M186.77,490.75 L190.17,494.93 L190.17,513.90 L186.77,519.05 L183.37,513.90 L183.37,494.93 Z" fill="#78c9d9" stroke="#78c9d9" stroke-width="0.5" stroke-linejoin="round"/>
<path d="M186.77,493.92 L189.28,498.67 L189.28,509.29 L186.77,515.15 L184.26,509.29 L184.26,498.67 Z" fill="#63b27c" stroke="#63b27c" stroke-width="0.5" stroke-linejoin="round"/>
<path d="M186.77,495.83 L188.77,499.63 L188.77,508.11 L186.77,512.79 L184.76,508.11 L184.76,499.63 Z" fill="#5aae48" stroke="#5aae48" stroke-width="0.5" stroke-linejoin="round"/>
<path d="M186.77,497.74 L188.27,500.58 L188.27,506.93 L186.77,510.44 L185.27,506.93 L185.27,500.58 Z" fill="#e8de4e" stroke="#e8de4e" stroke-width="0.5" stroke-linejoin="round"/>
<path d="M186.77,499.65 L187.76,501.54 L187.76,505.76 L186.77,508.09 L185.78,505.76 L185.78,501.54 Z" fill="#ef7d35" stroke="#ef7d35" stroke-width="0.5" stroke-linejoin="round"/>
<path d="M186.77,501.56 L187.25,502.49 L187.25,504.58 L186.77,505.74 L186.28,504.58 L186.28,502.49 Z" fill="#e2392d" stroke="#e2392d" stroke-width="0.5" stroke-linejoin="round"/>
<path d="M195.48,491.09 L199.53,494.86 L199.53,513.63 L195.48,519.11 L191.43,513.63 L191.43,494.86 Z" fill="#90d1dd" stroke="#90d1dd" stroke-width="0.5" stroke-linejoin="round"/>
<path d="M195.48,492.46 L198.88,495.78 L198.88,512.29 L195.48,517.12 L192.08,512.29 L192.08,495.78 Z" fill="#78c9d9" stroke="#78c9d9" stroke-width="0.5" stroke-linejoin="round"/>
<path d="M195.48,494.97 L197.99,498.74 L197.99,507.98 L195.48,513.46 L192.97,507.98 L192.97,498.74 Z" fill="#63b27c" stroke="#63b27c" stroke-width="0.5" stroke-linejoin="round"/>
<path d="M195.48,496.49 L197.49,499.50 L197.49,506.88 L195.48,511.26 L193.48,506.88 L193.48,499.50 Z" fill="#5aae48" stroke="#5aae48" stroke-width="0.5" stroke-linejoin="round"/>
<path d="M195.48,498.00 L196.98,500.25 L196.98,505.79 L195.48,509.06 L193.98,505.79 L193.98,500.25 Z" fill="#e8de4e" stroke="#e8de4e" stroke-width="0.5" stroke-linejoin="round"/>
<path d="M195.48,499.51 L196.47,501.01 L196.47,504.69 L195.48,506.86 L194.49,504.69 L194.49,501.01 Z" fill="#ef7d35" stroke="#ef7d35" stroke-width="0.5" stroke-linejoin="round"/>
<path d="M195.48,501.02 L195.97,501.76 L195.97,503.59 L195.48,504.66 L195.00,503.59 L195.00,501.76 Z" fill="#e2392d" stroke="#e2392d" stroke-width="0.5" stroke-linejoin="round"/>
<path d="M204.19,429.88 L208.25,435.01 L208.25,455.87 L204.19,461.00 L200.14,455.87 L200.14,435.01 Z" fill="#90d1dd" stroke="#90d1dd" stroke-width="0.5" stroke-linejoin="round"/>
<path d="M204.19,431.74 L207.60,436.26 L207.60,454.62 L204.19,459.14 L200.79,454.62 L200.79,436.26 Z" fill="#78c9d9" stroke="#78c9d9" stroke-width="0.5" stroke-linejoin="round"/>
<path d="M204.19,435.17 L206.71,440.30 L206.71,450.58 L204.19,455.71 L201.68,450.58 L201.68,440.30 Z" fill="#63b27c" stroke="#63b27c" stroke-width="0.5" stroke-linejoin="round"/>
<path d="M204.19,437.04 L206.18,441.24 L206.18,449.64 L204.19,453.84 L202.21,449.64 L202.21,441.24 Z" fill="#5aae48" stroke="#5aae48" stroke-width="0.5" stroke-linejoin="round"/>
<path d="M204.19,438.90 L205.65,442.17 L205.65,448.71 L204.19,451.98 L202.74,448.71 L202.74,442.17 Z" fill="#e8de4e" stroke="#e8de4e" stroke-width="0.5" stroke-linejoin="round"/>
<path d="M212.91,495.24 L216.96,499.01 L216.96,515.69 L212.91,520.14 L208.86,515.69 L208.86,499.01 Z" fill="#90d1dd" stroke="#90d1dd" stroke-width="0.5" stroke-linejoin="round"/>
<path d="M212.91,496.61 L216.31,499.93 L216.31,514.61 L212.91,518.53 L209.51,514.61 L209.51,499.93 Z" fill="#78c9d9" stroke="#78c9d9" stroke-width="0.5" stroke-linejoin="round"/>
<path d="M212.91,499.12 L215.42,502.89 L215.42,511.11 L212.91,515.56 L210.40,511.11 L210.40,502.89 Z" fill="#63b27c" stroke="#63b27c" stroke-width="0.5" stroke-linejoin="round"/>
<path d="M212.91,500.64 L214.91,503.65 L214.91,510.21 L212.91,513.77 L210.90,510.21 L210.90,503.65 Z" fill="#5aae48" stroke="#5aae48" stroke-width="0.5" stroke-linejoin="round"/>
<path d="M212.91,502.15 L214.41,504.40 L214.41,509.32 L212.91,511.98 L211.41,509.32 L211.41,504.40 Z" fill="#e8de4e" stroke="#e8de4e" stroke-width="0.5" stroke-linejoin="round"/>
<path d="M212.91,503.66 L213.90,505.16 L213.90,508.43 L212.91,510.20 L211.92,508.43 L211.92,505.16 Z" fill="#ef7d35" stroke="#ef7d35" stroke-width="0.5" stroke-linejoin="round"/>
<path d="M212.91,505.17 L213.39,505.91 L213.39,507.53 L212.91,508.41 L212.42,507.53 L212.42,505.91 Z" fill="#e2392d" stroke="#e2392d" stroke-width="0.5" stroke-linejoin="round"/>
<path d="M212.91,483.02 L215.51,484.46 L215.51,487.35 L212.91,488.79 L210.31,487.35 L210.31,484.46 Z" fill="#90d1dd" stroke="#90d1dd" stroke-width="0.5" stroke-linejoin="round"/>
<path d="M212.91,483.37 L215.09,484.64 L215.09,487.17 L212.91,488.44 L210.72,487.17 L210.72,484.64 Z" fill="#78c9d9" stroke="#78c9d9" stroke-width="0.5" stroke-linejoin="round"/>
<path d="M221.62,458.93 L225.67,464.06 L225.67,484.92 L221.62,490.06 L217.57,484.92 L217.57,464.06 Z" fill="#90d1dd" stroke="#90d1dd" stroke-width="0.5" stroke-linejoin="round"/>
<path d="M221.62,460.80 L225.02,465.32 L225.02,483.67 L221.62,488.19 L218.22,483.67 L218.22,465.32 Z" fill="#78c9d9" stroke="#78c9d9" stroke-width="0.5" stroke-linejoin="round"/>
<path d="M221.62,464.22 L224.13,469.36 L224.13,479.63 L221.62,484.76 L219.11,479.63 L219.11,469.36 Z" fill="#63b27c" stroke="#63b27c" stroke-width="0.5" stroke-linejoin="round"/>
<path d="M221.62,466.09 L223.61,470.29 L223.61,478.69 L221.62,482.90 L219.64,478.69 L219.64,470.29 Z" fill="#5aae48" stroke="#5aae48" stroke-width="0.5" stroke-linejoin="round"/>
<path d="M221.62,467.96 L223.08,471.22 L223.08,477.76 L221.62,481.03 L220.16,477.76 L220.16,471.22 Z" fill="#e8de4e" stroke="#e8de4e" stroke-width="0.5" stroke-linejoin="round"/>
<path d="M230.33,487.98 L234.38,494.83 L234.38,522.64 L230.33,529.48 L226.28,522.64 L226.28,494.83 Z" fill="#90d1dd" stroke="#90d1dd" stroke-width="0.5" stroke-linejoin="round"/>
<path d="M230.33,490.47 L233.74,496.50 L233.74,520.97 L230.33,526.99 L226.93,520.97 L226.93,496.50 Z" fill="#78c9d9" stroke="#78c9d9" stroke-width="0.5" stroke-linejoin="round"/>
<path d="M230.33,495.04 L232.84,501.88 L232.84,515.58 L230.33,522.43 L227.82,515.58 L227.82,501.88 Z" fill="#63b27c" stroke="#63b27c" stroke-width="0.5" stroke-linejoin="round"/>
<path d="M230.33,497.53 L232.32,503.13 L232.32,514.33 L230.33,519.94 L228.35,514.33 L228.35,503.13 Z" fill="#5aae48" stroke="#5aae48" stroke-width="0.5" stroke-linejoin="round"/>
<path d="M230.33,500.02 L231.79,504.37 L231.79,513.09 L230.33,517.45 L228.88,513.09 L228.88,504.37 Z" fill="#e8de4e" stroke="#e8de4e" stroke-width="0.5" stroke-linejoin="round"/>
<path d="M239.05,458.93 L243.10,463.38 L243.10,480.76 L239.05,484.87 L235.00,480.76 L235.00,463.38 Z" fill="#90d1dd" stroke="#90d1dd" stroke-width="0.5" stroke-linejoin="round"/>
<path d="M239.05,460.55 L242.45,464.46 L242.45,479.76 L239.05,483.37 L235.65,479.76 L235.65,464.46 Z" fill="#78c9d9" stroke="#78c9d9" stroke-width="0.5" stroke-linejoin="round"/>
<path d="M239.05,463.51 L241.56,467.97 L241.56,476.53 L239.05,480.63 L236.54,476.53 L236.54,467.97 Z" fill="#63b27c" stroke="#63b27c" stroke-width="0.5" stroke-linejoin="round"/>
<path d="M239.05,465.30 L241.05,468.86 L241.05,475.70 L239.05,478.98 L237.04,475.70 L237.04,468.86 Z" fill="#5aae48" stroke="#5aae48" stroke-width="0.5" stroke-linejoin="round"/>
<path d="M239.05,467.09 L240.55,469.75 L240.55,474.88 L239.05,477.33 L237.55,474.88 L237.55,469.75 Z" fill="#e8de4e" stroke="#e8de4e" stroke-width="0.5" stroke-linejoin="round"/>
<path d="M239.05,468.88 L240.04,470.65 L240.04,474.05 L239.05,475.69 L238.05,474.05 L238.05,470.65 Z" fill="#ef7d35" stroke="#ef7d35" stroke-width="0.5" stroke-linejoin="round"/>
<path d="M239.05,470.66 L239.53,471.54 L239.53,473.23 L239.05,474.04 L238.56,473.23 L238.56,471.54 Z" fill="#e2392d" stroke="#e2392d" stroke-width="0.5" stroke-linejoin="round"/>
<path d="M247.76,430.91 L251.81,434.68 L251.81,451.36 L247.76,455.82 L243.71,451.36 L243.71,434.68 Z" fill="#90d1dd" stroke="#90d1dd" stroke-width="0.5" stroke-linejoin="round"/>
<path d="M247.76,432.28 L251.16,435.60 L251.16,450.28 L247.76,454.20 L244.36,450.28 L244.36,435.60 Z" fill="#78c9d9" stroke="#78c9d9" stroke-width="0.5" stroke-linejoin="round"/>
<path d="M247.76,434.79 L250.27,438.56 L250.27,446.78 L247.76,451.23 L245.25,446.78 L245.25,438.56 Z" fill="#63b27c" stroke="#63b27c" stroke-width="0.5" stroke-linejoin="round"/>
<path d="M247.76,436.54 L249.66,439.44 L249.66,445.74 L247.76,449.16 L245.86,445.74 L245.86,439.44 Z" fill="#5aae48" stroke="#5aae48" stroke-width="0.5" stroke-linejoin="round"/>
<path d="M247.76,438.29 L249.06,440.31 L249.06,444.71 L247.76,447.09 L246.46,444.71 L246.46,440.31 Z" fill="#e8de4e" stroke="#e8de4e" stroke-width="0.5" stroke-linejoin="round"/>
<path d="M247.76,440.04 L248.45,441.19 L248.45,443.68 L247.76,445.02 L247.07,443.68 L247.07,441.19 Z" fill="#ef7d35" stroke="#ef7d35" stroke-width="0.5" stroke-linejoin="round"/>
<path d="M256.47,505.62 L260.52,509.04 L260.52,522.25 L256.47,525.33 L252.42,522.25 L252.42,509.04 Z" fill="#90d1dd" stroke="#90d1dd" stroke-width="0.5" stroke-linejoin="round"/>
<path d="M256.47,506.86 L259.87,509.88 L259.87,521.50 L256.47,524.21 L253.07,521.50 L253.07,509.88 Z" fill="#78c9d9" stroke="#78c9d9" stroke-width="0.5" stroke-linejoin="round"/>
<path d="M256.47,509.15 L258.98,512.57 L258.98,519.08 L256.47,522.16 L253.96,519.08 L253.96,512.57 Z" fill="#63b27c" stroke="#63b27c" stroke-width="0.5" stroke-linejoin="round"/>
<path d="M256.47,509.77 L258.78,512.88 L258.78,518.80 L256.47,521.60 L254.16,518.80 L254.16,512.88 Z" fill="#5aae48" stroke="#5aae48" stroke-width="0.5" stroke-linejoin="round"/>
<path d="M256.47,510.39 L258.58,513.19 L258.58,518.52 L256.47,521.04 L254.37,518.52 L254.37,513.19 Z" fill="#e8de4e" stroke="#e8de4e" stroke-width="0.5" stroke-linejoin="round"/>
<path d="M256.47,511.01 L258.38,513.50 L258.38,518.24 L256.47,520.48 L254.57,518.24 L254.57,513.50 Z" fill="#ef7d35" stroke="#ef7d35" stroke-width="0.5" stroke-linejoin="round"/>
<path d="M256.47,511.64 L258.17,513.82 L258.17,517.96 L256.47,519.92 L254.77,517.96 L254.77,513.82 Z" fill="#e2392d" stroke="#e2392d" stroke-width="0.5" stroke-linejoin="round"/>
<path d="M256.47,494.44 L259.07,495.88 L259.07,498.76 L256.47,500.20 L253.87,498.76 L253.87,495.88 Z" fill="#90d1dd" stroke="#90d1dd" stroke-width="0.5" stroke-linejoin="round"/>
<path d="M256.47,494.78 L258.66,496.05 L258.66,498.59 L256.47,499.85 L254.29,498.59 L254.29,496.05 Z" fill="#78c9d9" stroke="#78c9d9" stroke-width="0.5" stroke-linejoin="round"/>
<path d="M265.19,505.62 L269.24,508.70 L269.24,521.91 L265.19,525.33 L261.14,521.91 L261.14,508.70 Z" fill="#90d1dd" stroke="#90d1dd" stroke-width="0.5" stroke-linejoin="round"/>
<path d="M265.19,506.74 L268.59,509.45 L268.59,521.07 L265.19,524.09 L261.78,521.07 L261.78,509.45 Z" fill="#78c9d9" stroke="#78c9d9" stroke-width="0.5" stroke-linejoin="round"/>
<path d="M265.19,508.79 L267.70,511.88 L267.70,518.38 L265.19,521.81 L262.67,518.38 L262.67,511.88 Z" fill="#63b27c" stroke="#63b27c" stroke-width="0.5" stroke-linejoin="round"/>
<path d="M265.19,509.35 L267.49,512.16 L267.49,518.07 L265.19,521.18 L262.88,518.07 L262.88,512.16 Z" fill="#5aae48" stroke="#5aae48" stroke-width="0.5" stroke-linejoin="round"/>
<path d="M265.19,509.91 L267.29,512.44 L267.29,517.76 L265.19,520.56 L263.08,517.76 L263.08,512.44 Z" fill="#e8de4e" stroke="#e8de4e" stroke-width="0.5" stroke-linejoin="round"/>
<path d="M265.19,510.47 L267.09,512.72 L267.09,517.45 L265.19,519.94 L263.28,517.45 L263.28,512.72 Z" fill="#ef7d35" stroke="#ef7d35" stroke-width="0.5" stroke-linejoin="round"/>
<path d="M265.19,511.04 L266.89,513.00 L266.89,517.14 L265.19,519.31 L263.48,517.14 L263.48,513.00 Z" fill="#e2392d" stroke="#e2392d" stroke-width="0.5" stroke-linejoin="round"/>
<path d="M273.90,514.96 L277.70,523.14 L277.70,552.95 L273.90,559.46 L270.10,552.95 L270.10,523.14 Z" fill="#90d1dd" stroke="#90d1dd" stroke-width="0.5" stroke-linejoin="round"/>
<path d="M273.90,517.93 L277.09,525.13 L277.09,551.37 L273.90,557.09 L270.71,551.37 L270.71,525.13 Z" fill="#78c9d9" stroke="#78c9d9" stroke-width="0.5" stroke-linejoin="round"/>
<path d="M273.90,523.38 L276.25,531.56 L276.25,546.25 L273.90,552.75 L271.54,546.25 L271.54,531.56 Z" fill="#63b27c" stroke="#63b27c" stroke-width="0.5" stroke-linejoin="round"/>
<path d="M273.90,526.36 L275.76,533.05 L275.76,545.07 L273.90,550.39 L272.04,545.07 L272.04,533.05 Z" fill="#5aae48" stroke="#5aae48" stroke-width="0.5" stroke-linejoin="round"/>
<path d="M273.90,529.33 L275.27,534.54 L275.27,543.88 L273.90,548.02 L272.53,543.88 L272.53,534.54 Z" fill="#e8de4e" stroke="#e8de4e" stroke-width="0.5" stroke-linejoin="round"/>
<line x1="73.50" y1="572.60" x2="73.50" y2="570.40" stroke="#4d4d4d" stroke-width="0.8"/>
<line x1="82.21" y1="572.60" x2="82.21" y2="570.40" stroke="#4d4d4d" stroke-width="0.8"/>
<line x1="90.93" y1="572.60" x2="90.93" y2="570.40" stroke="#4d4d4d" stroke-width="0.8"/>
<line x1="99.64" y1="572.60" x2="99.64" y2="570.40" stroke="#4d4d4d" stroke-width="0.8"/>
<line x1="108.35" y1="572.60" x2="108.35" y2="570.40" stroke="#4d4d4d" stroke-width="0.8"/>
<line x1="117.06" y1="572.60" x2="117.06" y2="570.40" stroke="#4d4d4d" stroke-width="0.8"/>
<line x1="125.78" y1="572.60" x2="125.78" y2="570.40" stroke="#4d4d4d" stroke-width="0.8"/>
<line x1="134.49" y1="572.60" x2="134.49" y2="570.40" stroke="#4d4d4d" stroke-width="0.8"/>
<line x1="143.20" y1="572.60" x2="143.20" y2="570.40" stroke="#4d4d4d" stroke-width="0.8"/>
<line x1="151.92" y1="572.60" x2="151.92" y2="570.40" stroke="#4d4d4d" stroke-width="0.8"/>
<line x1="160.63" y1="572.60" x2="160.63" y2="570.40" stroke="#4d4d4d" stroke-width="0.8"/>
<line x1="169.34" y1="572.60" x2="169.34" y2="570.40" stroke="#4d4d4d" stroke-width="0.8"/>
<line x1="178.06" y1="572.60" x2="178.06" y2="570.40" stroke="#4d4d4d" stroke-width="0.8"/>
<line x1="186.77" y1="572.60" x2="186.77" y2="570.40" stroke="#4d4d4d" stroke-width="0.8"/>
<line x1="195.48" y1="572.60" x2="195.48" y2="570.40" stroke="#4d4d4d" stroke-width="0.8"/>
<line x1="204.19" y1="572.60" x2="204.19" y2="570.40" stroke="#4d4d4d" stroke-width="0.8"/>
<line x1="212.91" y1="572.60" x2="212.91" y2="570.40" stroke="#4d4d4d" stroke-width="0.8"/>
<line x1="221.62" y1="572.60" x2="221.62" y2="570.40" stroke="#4d4d4d" stroke-width="0.8"/>
<line x1="230.33" y1="572.60" x2="230.33" y2="570.40" stroke="#4d4d4d" stroke-width="0.8"/>
<line x1="239.05" y1="572.60" x2="239.05" y2="570.40" stroke="#4d4d4d" stroke-width="0.8"/>
<line x1="247.76" y1="572.60" x2="247.76" y2="570.40" stroke="#4d4d4d" stroke-width="0.8"/>
<line x1="256.47" y1="572.60" x2="256.47" y2="570.40" stroke="#4d4d4d" stroke-width="0.8"/>
<line x1="265.19" y1="572.60" x2="265.19" y2="570.40" stroke="#4d4d4d" stroke-width="0.8"/>
<line x1="273.90" y1="572.60" x2="273.90" y2="570.40" stroke="#4d4d4d" stroke-width="0.8"/>
<line x1="69.50" y1="572.60" x2="73.00" y2="572.60" stroke="#4d4d4d" stroke-width="0.9"/>
<line x1="69.50" y1="561.07" x2="71.50" y2="561.07" stroke="#4d4d4d" stroke-width="0.9"/>
<line x1="69.50" y1="549.54" x2="73.00" y2="549.54" stroke="#4d4d4d" stroke-width="0.9"/>
<line x1="69.50" y1="538.01" x2="71.50" y2="538.01" stroke="#4d4d4d" stroke-width="0.9"/>
<line x1="69.50" y1="526.49" x2="73.00" y2="526.49" stroke="#4d4d4d" stroke-width="0.9"/>
<line x1="69.50" y1="514.96" x2="71.50" y2="514.96" stroke="#4d4d4d" stroke-width="0.9"/>
<line x1="69.50" y1="503.43" x2="73.00" y2="503.43" stroke="#4d4d4d" stroke-width="0.9"/>
<line x1="69.50" y1="491.90" x2="71.50" y2="491.90" stroke="#4d4d4d" stroke-width="0.9"/>
<line x1="69.50" y1="480.37" x2="73.00" y2="480.37" stroke="#4d4d4d" stroke-width="0.9"/>
<line x1="69.50" y1="468.84" x2="71.50" y2="468.84" stroke="#4d4d4d" stroke-width="0.9"/>
<line x1="69.50" y1="457.31" x2="73.00" y2="457.31" stroke="#4d4d4d" stroke-width="0.9"/>
<line x1="69.50" y1="445.79" x2="71.50" y2="445.79" stroke="#4d4d4d" stroke-width="0.9"/>
<line x1="69.50" y1="434.26" x2="73.00" y2="434.26" stroke="#4d4d4d" stroke-width="0.9"/>
<line x1="69.50" y1="422.73" x2="71.50" y2="422.73" stroke="#4d4d4d" stroke-width="0.9"/>
<line x1="69.50" y1="411.20" x2="73.00" y2="411.20" stroke="#4d4d4d" stroke-width="0.9"/>
<line x1="278.40" y1="424.40" x2="275.40" y2="424.40" stroke="#4d4d4d" stroke-width="0.9"/>
<line x1="278.40" y1="445.40" x2="275.40" y2="445.40" stroke="#4d4d4d" stroke-width="0.9"/>
<line x1="278.40" y1="466.40" x2="275.40" y2="466.40" stroke="#4d4d4d" stroke-width="0.9"/>
<line x1="278.40" y1="487.40" x2="275.40" y2="487.40" stroke="#4d4d4d" stroke-width="0.9"/>
<line x1="278.40" y1="508.40" x2="275.40" y2="508.40" stroke="#4d4d4d" stroke-width="0.9"/>
<line x1="278.40" y1="529.40" x2="275.40" y2="529.40" stroke="#4d4d4d" stroke-width="0.9"/>
<line x1="278.40" y1="550.40" x2="275.40" y2="550.40" stroke="#4d4d4d" stroke-width="0.9"/>
<line x1="278.40" y1="434.90" x2="275.40" y2="434.90" stroke="#4d4d4d" stroke-width="0.9"/>
<line x1="278.40" y1="455.90" x2="275.40" y2="455.90" stroke="#4d4d4d" stroke-width="0.9"/>
<line x1="278.40" y1="476.90" x2="275.40" y2="476.90" stroke="#4d4d4d" stroke-width="0.9"/>
<line x1="278.40" y1="497.90" x2="275.40" y2="497.90" stroke="#4d4d4d" stroke-width="0.9"/>
<line x1="278.40" y1="518.90" x2="275.40" y2="518.90" stroke="#4d4d4d" stroke-width="0.9"/>
<line x1="278.40" y1="539.90" x2="275.40" y2="539.90" stroke="#4d4d4d" stroke-width="0.9"/>
<line x1="278.40" y1="560.90" x2="275.40" y2="560.90" stroke="#4d4d4d" stroke-width="0.9"/>
<rect x="69.50" y="411.20" width="208.90" height="161.40" fill="none" stroke="#7d7d7d" stroke-width="1.0"/>
<rect x="148.00" y="396.50" width="8.80" height="178.80" fill="none" stroke="#ef6a3a" stroke-width="1.5" stroke-dasharray="2.3,1.7"/>
<rect x="172.00" y="396.50" width="9.40" height="178.80" fill="none" stroke="#3f4a9e" stroke-width="1.5" stroke-dasharray="2.3,1.7"/>
<rect x="233.40" y="396.40" width="10.00" height="178.90" fill="none" stroke="#e3338f" stroke-width="1.5" stroke-dasharray="2.3,1.7"/>
<text x="66.80" y="552.34" font-size="10.3" font-weight="bold" text-anchor="end" fill="#231f20">0.0</text>
<text x="66.80" y="529.29" font-size="10.3" font-weight="bold" text-anchor="end" fill="#231f20">0.2</text>
<text x="66.80" y="506.23" font-size="10.3" font-weight="bold" text-anchor="end" fill="#231f20">0.4</text>
<text x="66.80" y="483.17" font-size="10.3" font-weight="bold" text-anchor="end" fill="#231f20">0.6</text>
<text x="66.80" y="460.11" font-size="10.3" font-weight="bold" text-anchor="end" fill="#231f20">0.8</text>
<text x="66.80" y="437.06" font-size="10.3" font-weight="bold" text-anchor="end" fill="#231f20">1.0</text>
<text x="66.80" y="414.00" font-size="10.3" font-weight="bold" text-anchor="end" fill="#231f20">1.2</text>
<rect x="29.20" y="426.40" width="19.80" height="18.10" fill="#b9bde6" stroke="#a9d6e6" stroke-width="0.6"/>
<text x="39.10" y="439.45" font-size="11" font-weight="bold" text-anchor="middle" fill="#231f20">G</text>
<rect x="29.20" y="456.00" width="19.80" height="23.70" fill="#f3b8c4" stroke="#a9d6e6" stroke-width="0.6"/>
<text x="39.10" y="471.85" font-size="11" font-weight="bold" text-anchor="middle" fill="#231f20">A</text>
<rect x="29.20" y="498.00" width="19.80" height="17.00" fill="#b3e0c9" stroke="#a9d6e6" stroke-width="0.6"/>
<text x="39.10" y="510.50" font-size="11" font-weight="bold" text-anchor="middle" fill="#231f20">T</text>
<rect x="29.20" y="527.00" width="19.80" height="17.00" fill="#c9c7ca" stroke="#a9d6e6" stroke-width="0.6"/>
<text x="39.10" y="539.50" font-size="11" font-weight="bold" text-anchor="middle" fill="#231f20">B</text>
<text transform="translate(22.80,483.00) rotate(-90)" font-size="10.65" font-weight="bold" text-anchor="middle" fill="#231f20">Normalized conductance</text>
<text x="280.30" y="428.10" font-size="10.3" font-weight="bold" fill="#231f20">140</text>
<text x="280.30" y="449.10" font-size="10.3" font-weight="bold" fill="#231f20">120</text>
<text x="280.30" y="470.10" font-size="10.3" font-weight="bold" fill="#231f20">100</text>
<text x="280.30" y="491.10" font-size="10.3" font-weight="bold" fill="#231f20">80</text>
<text x="280.30" y="512.10" font-size="10.3" font-weight="bold" fill="#231f20">60</text>
<text x="280.30" y="533.10" font-size="10.3" font-weight="bold" fill="#231f20">40</text>
<text x="280.30" y="554.10" font-size="10.3" font-weight="bold" fill="#231f20">20</text>
<text x="280.30" y="575.10" font-size="10.3" font-weight="bold" fill="#231f20">0</text>
<text transform="translate(296.60,501.00) rotate(90)" font-size="10.6" font-weight="bold" text-anchor="middle" fill="#231f20">Coverage</text>
<text x="74.40" y="584.60" font-size="10.3" font-weight="bold" text-anchor="middle" fill="#231f20">0</text>
<text x="91.94" y="584.60" font-size="10.3" font-weight="bold" text-anchor="middle" fill="#231f20">2</text>
<text x="109.48" y="584.60" font-size="10.3" font-weight="bold" text-anchor="middle" fill="#231f20">4</text>
<text x="127.02" y="584.60" font-size="10.3" font-weight="bold" text-anchor="middle" fill="#231f20">6</text>
<text x="144.56" y="584.60" font-size="10.3" font-weight="bold" text-anchor="middle" fill="#231f20">8</text>
<text x="162.10" y="584.60" font-size="10.3" font-weight="bold" text-anchor="middle" fill="#231f20">10</text>
<text x="179.64" y="584.60" font-size="10.3" font-weight="bold" text-anchor="middle" fill="#231f20">12</text>
<text x="197.18" y="584.60" font-size="10.3" font-weight="bold" text-anchor="middle" fill="#231f20">14</text>
<text x="214.72" y="584.60" font-size="10.3" font-weight="bold" text-anchor="middle" fill="#231f20">16</text>
<text x="232.26" y="584.60" font-size="10.3" font-weight="bold" text-anchor="middle" fill="#231f20">18</text>
<text x="249.80" y="584.60" font-size="10.3" font-weight="bold" text-anchor="middle" fill="#231f20">20</text>
<text x="267.34" y="584.60" font-size="10.3" font-weight="bold" text-anchor="middle" fill="#231f20">22</text>
<text x="180.00" y="597.30" font-size="10.6" font-weight="bold" text-anchor="middle" fill="#231f20">Base Position</text>
<text x="302.80" y="396.60" font-size="10.4" font-weight="bold" fill="#231f20">Ratio</text>
<rect x="301.00" y="403.30" width="8.40" height="7.39" fill="#8fd0dc"/>
<rect x="301.00" y="410.49" width="8.40" height="7.39" fill="#5ebfd5"/>
<rect x="301.00" y="417.67" width="8.40" height="7.39" fill="#62b37a"/>
<rect x="301.00" y="424.86" width="8.40" height="7.39" fill="#5aae48"/>
<rect x="301.00" y="432.04" width="8.40" height="7.39" fill="#e8de4e"/>
<rect x="301.00" y="439.23" width="8.40" height="7.39" fill="#ef7d35"/>
<rect x="301.00" y="446.41" width="8.40" height="7.39" fill="#e2392d"/>
<text transform="translate(310.20,404.70) scale(0.96,1)" font-size="8.7" font-weight="bold" fill="#231f20" class="cbl">0.08</text>
<text transform="translate(310.20,411.89) scale(0.96,1)" font-size="8.7" font-weight="bold" fill="#231f20" class="cbl">0.15</text>
<text transform="translate(310.20,419.07) scale(0.96,1)" font-size="8.7" font-weight="bold" fill="#231f20" class="cbl">0.25</text>
<text transform="translate(310.20,426.26) scale(0.96,1)" font-size="8.7" font-weight="bold" fill="#231f20" class="cbl">0.30</text>
<text transform="translate(310.20,433.44) scale(0.96,1)" font-size="8.7" font-weight="bold" fill="#231f20" class="cbl">0.41</text>
<text transform="translate(310.20,440.63) scale(0.96,1)" font-size="8.7" font-weight="bold" fill="#231f20" class="cbl">0.50</text>
<text transform="translate(310.20,447.81) scale(0.96,1)" font-size="8.7" font-weight="bold" fill="#231f20" class="cbl">0.60</text>
<text transform="translate(310.20,455.00) scale(0.96,1)" font-size="8.7" font-weight="bold" fill="#231f20" class="cbl">0.67</text>
<line x1="73.80" y1="440.00" x2="86.80" y2="440.00" stroke="#111" stroke-width="1.5"/>
<path d="M69.80,440.00 L76.80,436.10 L74.80,440.00 L76.80,443.90 Z" fill="#111"/>
<line x1="250.00" y1="555.30" x2="273.30" y2="555.30" stroke="#111" stroke-width="1.5"/>
<path d="M277.30,555.30 L270.30,551.40 L272.30,555.30 L270.30,559.20 Z" fill="#111"/>
<text x="20.80" y="628.00" font-size="10.7" font-weight="bold" fill="#231f20">(c) let7c</text>
<rect x="69.30" y="641.00" width="9.10" height="9.20" fill="#c9c7ca"/>
<rect x="78.10" y="641.00" width="9.10" height="9.20" fill="#b3e0c9"/>
<rect x="86.90" y="641.00" width="9.10" height="9.20" fill="#b9bde6"/>
<rect x="95.70" y="641.00" width="9.10" height="9.20" fill="#f3b8c4"/>
<rect x="104.50" y="641.00" width="9.10" height="9.20" fill="#b9bde6"/>
<rect x="113.30" y="641.00" width="9.10" height="9.20" fill="#b9bde6"/>
<rect x="122.10" y="641.00" width="9.10" height="9.20" fill="#b3e0c9"/>
<rect x="130.90" y="641.00" width="9.10" height="9.20" fill="#f3b8c4"/>
<rect x="139.70" y="641.00" width="9.10" height="9.20" fill="#b9bde6"/>
<rect x="148.50" y="641.00" width="9.10" height="9.20" fill="#b3e0c9"/>
<rect x="157.30" y="641.00" width="9.10" height="9.20" fill="#f3b8c4"/>
<rect x="166.10" y="641.00" width="9.10" height="9.20" fill="#b9bde6"/>
<rect x="174.90" y="641.00" width="9.10" height="9.20" fill="#b9bde6"/>
<rect x="183.70" y="641.00" width="9.10" height="9.20" fill="#b3e0c9"/>
<rect x="192.50" y="641.00" width="9.10" height="9.20" fill="#b3e0c9"/>
<rect x="201.30" y="641.00" width="9.10" height="9.20" fill="#b9bde6"/>
<rect x="210.10" y="641.00" width="9.10" height="9.20" fill="#b3e0c9"/>
<rect x="218.90" y="641.00" width="9.10" height="9.20" fill="#f3b8c4"/>
<rect x="227.70" y="641.00" width="9.10" height="9.20" fill="#b3e0c9"/>
<rect x="236.50" y="641.00" width="9.10" height="9.20" fill="#b9bde6"/>
<rect x="245.30" y="641.00" width="9.10" height="9.20" fill="#b9bde6"/>
<rect x="254.10" y="641.00" width="9.10" height="9.20" fill="#b3e0c9"/>
<rect x="262.90" y="641.00" width="9.10" height="9.20" fill="#b3e0c9"/>
<rect x="271.70" y="641.00" width="9.00" height="9.20" fill="#c9c7ca"/>
<text transform="translate(73.70,649.40) scale(0.97,1)" font-size="11.2" font-weight="bold" text-anchor="middle" fill="#231f20">B</text>
<text transform="translate(82.50,649.40) scale(0.97,1)" font-size="11.2" font-weight="bold" text-anchor="middle" fill="#231f20">T</text>
<text transform="translate(91.30,649.40) scale(0.97,1)" font-size="11.2" font-weight="bold" text-anchor="middle" fill="#231f20">G</text>
<text transform="translate(100.10,649.40) scale(0.97,1)" font-size="11.2" font-weight="bold" text-anchor="middle" fill="#231f20">A</text>
<text transform="translate(108.90,649.40) scale(0.97,1)" font-size="11.2" font-weight="bold" text-anchor="middle" fill="#231f20">G</text>
<text transform="translate(117.70,649.40) scale(0.97,1)" font-size="11.2" font-weight="bold" text-anchor="middle" fill="#231f20">G</text>
<text transform="translate(126.50,649.40) scale(0.97,1)" font-size="11.2" font-weight="bold" text-anchor="middle" fill="#231f20">T</text>
<text transform="translate(135.30,649.40) scale(0.97,1)" font-size="11.2" font-weight="bold" text-anchor="middle" fill="#231f20">A</text>
<text transform="translate(144.10,649.40) scale(0.97,1)" font-size="11.2" font-weight="bold" text-anchor="middle" fill="#231f20">G</text>
<text transform="translate(152.90,649.40) scale(0.97,1)" font-size="11.2" font-weight="bold" text-anchor="middle" fill="#231f20">T</text>
<text transform="translate(161.70,649.40) scale(0.97,1)" font-size="11.2" font-weight="bold" text-anchor="middle" fill="#231f20">A</text>
<text transform="translate(170.50,649.40) scale(0.97,1)" font-size="11.2" font-weight="bold" text-anchor="middle" fill="#231f20">G</text>
<text transform="translate(179.30,649.40) scale(0.97,1)" font-size="11.2" font-weight="bold" text-anchor="middle" fill="#231f20">G</text>
<text transform="translate(188.10,649.40) scale(0.97,1)" font-size="11.2" font-weight="bold" text-anchor="middle" fill="#231f20">T</text>
<text transform="translate(196.90,649.40) scale(0.97,1)" font-size="11.2" font-weight="bold" text-anchor="middle" fill="#231f20">T</text>
<text transform="translate(205.70,649.40) scale(0.97,1)" font-size="11.2" font-weight="bold" text-anchor="middle" fill="#231f20">G</text>
<text transform="translate(214.50,649.40) scale(0.97,1)" font-size="11.2" font-weight="bold" text-anchor="middle" fill="#231f20">T</text>
<text transform="translate(223.30,649.40) scale(0.97,1)" font-size="11.2" font-weight="bold" text-anchor="middle" fill="#231f20">A</text>
<text transform="translate(232.10,649.40) scale(0.97,1)" font-size="11.2" font-weight="bold" text-anchor="middle" fill="#231f20">T</text>
<text transform="translate(240.90,649.40) scale(0.97,1)" font-size="11.2" font-weight="bold" text-anchor="middle" fill="#231f20">G</text>
<text transform="translate(249.70,649.40) scale(0.97,1)" font-size="11.2" font-weight="bold" text-anchor="middle" fill="#231f20">G</text>
<text transform="translate(258.50,649.40) scale(0.97,1)" font-size="11.2" font-weight="bold" text-anchor="middle" fill="#231f20">T</text>
<text transform="translate(267.30,649.40) scale(0.97,1)" font-size="11.2" font-weight="bold" text-anchor="middle" fill="#231f20">T</text>
<text transform="translate(276.10,649.40) scale(0.97,1)" font-size="11.2" font-weight="bold" text-anchor="middle" fill="#231f20">B</text>
<polygon points="85.50,814.70 85.50,790.90 90.90,777.30 96.40,770.00 103.60,764.50 109.10,763.60 120.90,762.70 124.50,755.00 129.10,720.00 134.50,715.50 140.00,712.70 142.70,715.50 148.20,721.80 154.50,726.40 160.00,735.50 165.50,740.90 170.90,743.60 178.20,745.50 183.20,745.50 195.90,751.80 200.70,763.00 207.00,776.50 214.20,780.50 223.00,794.00 230.90,798.70 235.70,802.00 242.80,805.90 250.00,806.70 258.00,808.30 267.50,809.00 267.50,814.70" fill="#bcbbbd"/>
<line x1="73.70" y1="650.50" x2="73.70" y2="814.70" stroke="rgba(50,50,50,0.42)" stroke-width="0.7" stroke-dasharray="1.2,1.4"/>
<line x1="82.50" y1="650.50" x2="82.50" y2="814.70" stroke="rgba(60,60,60,0.16)" stroke-width="0.7" stroke-dasharray="1.2,1.4"/>
<line x1="91.30" y1="650.50" x2="91.30" y2="814.70" stroke="rgba(50,50,50,0.42)" stroke-width="0.7" stroke-dasharray="1.2,1.4"/>
<line x1="100.10" y1="650.50" x2="100.10" y2="814.70" stroke="rgba(60,60,60,0.16)" stroke-width="0.7" stroke-dasharray="1.2,1.4"/>
<line x1="108.90" y1="650.50" x2="108.90" y2="814.70" stroke="rgba(50,50,50,0.42)" stroke-width="0.7" stroke-dasharray="1.2,1.4"/>
<line x1="117.70" y1="650.50" x2="117.70" y2="814.70" stroke="rgba(60,60,60,0.16)" stroke-width="0.7" stroke-dasharray="1.2,1.4"/>
<line x1="126.50" y1="650.50" x2="126.50" y2="814.70" stroke="rgba(50,50,50,0.42)" stroke-width="0.7" stroke-dasharray="1.2,1.4"/>
<line x1="135.30" y1="650.50" x2="135.30" y2="814.70" stroke="rgba(60,60,60,0.16)" stroke-width="0.7" stroke-dasharray="1.2,1.4"/>
<line x1="144.10" y1="650.50" x2="144.10" y2="814.70" stroke="rgba(50,50,50,0.42)" stroke-width="0.7" stroke-dasharray="1.2,1.4"/>
<line x1="152.90" y1="650.50" x2="152.90" y2="814.70" stroke="rgba(60,60,60,0.16)" stroke-width="0.7" stroke-dasharray="1.2,1.4"/>
<line x1="161.70" y1="650.50" x2="161.70" y2="814.70" stroke="rgba(50,50,50,0.42)" stroke-width="0.7" stroke-dasharray="1.2,1.4"/>
<line x1="170.50" y1="650.50" x2="170.50" y2="814.70" stroke="rgba(60,60,60,0.16)" stroke-width="0.7" stroke-dasharray="1.2,1.4"/>
<line x1="179.30" y1="650.50" x2="179.30" y2="814.70" stroke="rgba(50,50,50,0.42)" stroke-width="0.7" stroke-dasharray="1.2,1.4"/>
<line x1="188.10" y1="650.50" x2="188.10" y2="814.70" stroke="rgba(60,60,60,0.16)" stroke-width="0.7" stroke-dasharray="1.2,1.4"/>
<line x1="196.90" y1="650.50" x2="196.90" y2="814.70" stroke="rgba(50,50,50,0.42)" stroke-width="0.7" stroke-dasharray="1.2,1.4"/>
<line x1="205.70" y1="650.50" x2="205.70" y2="814.70" stroke="rgba(60,60,60,0.16)" stroke-width="0.7" stroke-dasharray="1.2,1.4"/>
<line x1="214.50" y1="650.50" x2="214.50" y2="814.70" stroke="rgba(50,50,50,0.42)" stroke-width="0.7" stroke-dasharray="1.2,1.4"/>
<line x1="223.30" y1="650.50" x2="223.30" y2="814.70" stroke="rgba(60,60,60,0.16)" stroke-width="0.7" stroke-dasharray="1.2,1.4"/>
<line x1="232.10" y1="650.50" x2="232.10" y2="814.70" stroke="rgba(50,50,50,0.42)" stroke-width="0.7" stroke-dasharray="1.2,1.4"/>
<line x1="240.90" y1="650.50" x2="240.90" y2="814.70" stroke="rgba(60,60,60,0.16)" stroke-width="0.7" stroke-dasharray="1.2,1.4"/>
<line x1="249.70" y1="650.50" x2="249.70" y2="814.70" stroke="rgba(50,50,50,0.42)" stroke-width="0.7" stroke-dasharray="1.2,1.4"/>
<line x1="258.50" y1="650.50" x2="258.50" y2="814.70" stroke="rgba(60,60,60,0.16)" stroke-width="0.7" stroke-dasharray="1.2,1.4"/>
<line x1="267.30" y1="650.50" x2="267.30" y2="814.70" stroke="rgba(50,50,50,0.42)" stroke-width="0.7" stroke-dasharray="1.2,1.4"/>
<line x1="276.10" y1="650.50" x2="276.10" y2="814.70" stroke="rgba(60,60,60,0.16)" stroke-width="0.7" stroke-dasharray="1.2,1.4"/>
<line x1="69.20" y1="802.97" x2="280.40" y2="802.97" stroke="rgba(60,60,60,0.16)" stroke-width="0.7" stroke-dasharray="1.4,1.6"/>
<line x1="69.20" y1="791.24" x2="280.40" y2="791.24" stroke="rgba(50,50,50,0.42)" stroke-width="0.7" stroke-dasharray="1.8,1.6"/>
<line x1="69.20" y1="779.51" x2="280.40" y2="779.51" stroke="rgba(60,60,60,0.16)" stroke-width="0.7" stroke-dasharray="1.4,1.6"/>
<line x1="69.20" y1="767.79" x2="280.40" y2="767.79" stroke="rgba(50,50,50,0.42)" stroke-width="0.7" stroke-dasharray="1.8,1.6"/>
<line x1="69.20" y1="756.06" x2="280.40" y2="756.06" stroke="rgba(60,60,60,0.16)" stroke-width="0.7" stroke-dasharray="1.4,1.6"/>
<line x1="69.20" y1="744.33" x2="280.40" y2="744.33" stroke="rgba(50,50,50,0.42)" stroke-width="0.7" stroke-dasharray="1.8,1.6"/>
<line x1="69.20" y1="732.60" x2="280.40" y2="732.60" stroke="rgba(60,60,60,0.16)" stroke-width="0.7" stroke-dasharray="1.4,1.6"/>
<line x1="69.20" y1="720.87" x2="280.40" y2="720.87" stroke="rgba(50,50,50,0.42)" stroke-width="0.7" stroke-dasharray="1.8,1.6"/>
<line x1="69.20" y1="709.14" x2="280.40" y2="709.14" stroke="rgba(60,60,60,0.16)" stroke-width="0.7" stroke-dasharray="1.4,1.6"/>
<line x1="69.20" y1="697.41" x2="280.40" y2="697.41" stroke="rgba(50,50,50,0.42)" stroke-width="0.7" stroke-dasharray="1.8,1.6"/>
<line x1="69.20" y1="685.69" x2="280.40" y2="685.69" stroke="rgba(60,60,60,0.16)" stroke-width="0.7" stroke-dasharray="1.4,1.6"/>
<line x1="69.20" y1="673.96" x2="280.40" y2="673.96" stroke="rgba(50,50,50,0.42)" stroke-width="0.7" stroke-dasharray="1.8,1.6"/>
<line x1="69.20" y1="662.23" x2="280.40" y2="662.23" stroke="rgba(60,60,60,0.16)" stroke-width="0.7" stroke-dasharray="1.4,1.6"/>
<path d="M73.70,753.95 L77.50,764.13 L77.50,797.68 L73.70,804.03 L69.90,797.68 L69.90,764.13 Z" fill="#90d1dd" stroke="#90d1dd" stroke-width="0.5" stroke-linejoin="round"/>
<path d="M73.70,757.65 L76.89,766.61 L76.89,796.13 L73.70,801.72 L70.51,796.13 L70.51,766.61 Z" fill="#78c9d9" stroke="#78c9d9" stroke-width="0.5" stroke-linejoin="round"/>
<path d="M73.70,764.43 L76.06,774.61 L76.06,791.14 L73.70,797.49 L71.34,791.14 L71.34,774.61 Z" fill="#63b27c" stroke="#63b27c" stroke-width="0.5" stroke-linejoin="round"/>
<path d="M73.70,768.14 L75.56,776.46 L75.56,789.99 L73.70,795.18 L71.84,789.99 L71.84,776.46 Z" fill="#5aae48" stroke="#5aae48" stroke-width="0.5" stroke-linejoin="round"/>
<path d="M73.70,771.84 L75.07,778.31 L75.07,788.83 L73.70,792.87 L72.33,788.83 L72.33,778.31 Z" fill="#e8de4e" stroke="#e8de4e" stroke-width="0.5" stroke-linejoin="round"/>
<path d="M82.50,733.66 L86.55,737.53 L86.55,758.98 L82.50,765.67 L78.45,758.98 L78.45,737.53 Z" fill="#90d1dd" stroke="#90d1dd" stroke-width="0.5" stroke-linejoin="round"/>
<path d="M82.50,735.06 L85.90,738.47 L85.90,757.35 L82.50,763.24 L79.10,757.35 L79.10,738.47 Z" fill="#78c9d9" stroke="#78c9d9" stroke-width="0.5" stroke-linejoin="round"/>
<path d="M82.50,737.64 L85.01,741.51 L85.01,752.08 L82.50,758.78 L79.99,752.08 L79.99,741.51 Z" fill="#63b27c" stroke="#63b27c" stroke-width="0.5" stroke-linejoin="round"/>
<path d="M82.50,739.05 L84.48,742.22 L84.48,750.86 L82.50,756.34 L80.52,750.86 L80.52,742.22 Z" fill="#5aae48" stroke="#5aae48" stroke-width="0.5" stroke-linejoin="round"/>
<path d="M82.50,740.46 L83.96,742.92 L83.96,749.65 L82.50,753.91 L81.04,749.65 L81.04,742.92 Z" fill="#e8de4e" stroke="#e8de4e" stroke-width="0.5" stroke-linejoin="round"/>
<path d="M91.30,667.51 L95.35,671.38 L95.35,690.71 L91.30,696.36 L87.25,690.71 L87.25,671.38 Z" fill="#90d1dd" stroke="#90d1dd" stroke-width="0.5" stroke-linejoin="round"/>
<path d="M91.30,668.91 L94.70,672.32 L94.70,689.33 L91.30,694.30 L87.90,689.33 L87.90,672.32 Z" fill="#78c9d9" stroke="#78c9d9" stroke-width="0.5" stroke-linejoin="round"/>
<path d="M91.30,671.49 L93.81,675.36 L93.81,684.89 L91.30,690.54 L88.79,684.89 L88.79,675.36 Z" fill="#63b27c" stroke="#63b27c" stroke-width="0.5" stroke-linejoin="round"/>
<path d="M91.30,673.05 L93.30,676.14 L93.30,683.75 L91.30,688.27 L89.30,683.75 L89.30,676.14 Z" fill="#5aae48" stroke="#5aae48" stroke-width="0.5" stroke-linejoin="round"/>
<path d="M91.30,674.60 L92.80,676.92 L92.80,682.62 L91.30,686.00 L89.80,682.62 L89.80,676.92 Z" fill="#e8de4e" stroke="#e8de4e" stroke-width="0.5" stroke-linejoin="round"/>
<path d="M91.30,676.16 L92.29,677.70 L92.29,681.48 L91.30,683.73 L90.31,681.48 L90.31,677.70 Z" fill="#ef7d35" stroke="#ef7d35" stroke-width="0.5" stroke-linejoin="round"/>
<path d="M91.30,677.71 L91.79,678.47 L91.79,680.35 L91.30,681.46 L90.81,680.35 L90.81,678.47 Z" fill="#e2392d" stroke="#e2392d" stroke-width="0.5" stroke-linejoin="round"/>
<path d="M100.10,695.30 L104.15,700.22 L104.15,723.09 L100.10,729.43 L96.05,723.09 L96.05,700.22 Z" fill="#90d1dd" stroke="#90d1dd" stroke-width="0.5" stroke-linejoin="round"/>
<path d="M100.10,697.09 L103.50,701.42 L103.50,721.54 L100.10,727.13 L96.70,721.54 L96.70,701.42 Z" fill="#78c9d9" stroke="#78c9d9" stroke-width="0.5" stroke-linejoin="round"/>
<path d="M100.10,700.37 L102.61,705.28 L102.61,716.55 L100.10,722.89 L97.59,716.55 L97.59,705.28 Z" fill="#63b27c" stroke="#63b27c" stroke-width="0.5" stroke-linejoin="round"/>
<path d="M100.10,702.15 L102.08,706.18 L102.08,715.39 L100.10,720.59 L98.12,715.39 L98.12,706.18 Z" fill="#5aae48" stroke="#5aae48" stroke-width="0.5" stroke-linejoin="round"/>
<path d="M100.10,703.94 L101.56,707.07 L101.56,714.24 L100.10,718.28 L98.64,714.24 L98.64,707.07 Z" fill="#e8de4e" stroke="#e8de4e" stroke-width="0.5" stroke-linejoin="round"/>
<path d="M108.90,669.73 L112.95,673.61 L112.95,694.27 L108.90,700.58 L104.85,694.27 L104.85,673.61 Z" fill="#90d1dd" stroke="#90d1dd" stroke-width="0.5" stroke-linejoin="round"/>
<path d="M108.90,671.14 L112.30,674.55 L112.30,692.74 L108.90,698.29 L105.50,692.74 L105.50,674.55 Z" fill="#78c9d9" stroke="#78c9d9" stroke-width="0.5" stroke-linejoin="round"/>
<path d="M108.90,673.72 L111.41,677.59 L111.41,687.77 L108.90,694.08 L106.39,687.77 L106.39,677.59 Z" fill="#63b27c" stroke="#63b27c" stroke-width="0.5" stroke-linejoin="round"/>
<path d="M108.90,675.13 L110.88,678.30 L110.88,686.63 L108.90,691.79 L106.92,686.63 L106.92,678.30 Z" fill="#5aae48" stroke="#5aae48" stroke-width="0.5" stroke-linejoin="round"/>
<path d="M108.90,676.54 L110.36,679.00 L110.36,685.48 L108.90,689.49 L107.44,685.48 L107.44,679.00 Z" fill="#e8de4e" stroke="#e8de4e" stroke-width="0.5" stroke-linejoin="round"/>
<path d="M108.90,660.47 L110.30,661.35 L110.30,663.11 L108.90,663.99 L107.50,663.11 L107.50,661.35 Z" fill="#90d1dd" stroke="#90d1dd" stroke-width="0.5" stroke-linejoin="round"/>
<path d="M117.70,669.73 L121.75,672.87 L121.75,686.39 L117.70,689.91 L113.65,686.39 L113.65,672.87 Z" fill="#90d1dd" stroke="#90d1dd" stroke-width="0.5" stroke-linejoin="round"/>
<path d="M117.70,670.87 L121.10,673.63 L121.10,685.53 L117.70,688.63 L114.30,685.53 L114.30,673.63 Z" fill="#78c9d9" stroke="#78c9d9" stroke-width="0.5" stroke-linejoin="round"/>
<path d="M117.70,672.96 L120.21,676.10 L120.21,682.76 L117.70,686.28 L115.19,682.76 L115.19,676.10 Z" fill="#63b27c" stroke="#63b27c" stroke-width="0.5" stroke-linejoin="round"/>
<path d="M117.70,673.53 L120.01,676.38 L120.01,682.44 L117.70,685.64 L115.39,682.44 L115.39,676.38 Z" fill="#5aae48" stroke="#5aae48" stroke-width="0.5" stroke-linejoin="round"/>
<path d="M117.70,674.10 L119.81,676.67 L119.81,682.12 L117.70,685.00 L115.59,682.12 L115.59,676.67 Z" fill="#e8de4e" stroke="#e8de4e" stroke-width="0.5" stroke-linejoin="round"/>
<path d="M117.70,674.67 L119.60,676.95 L119.60,681.80 L117.70,684.36 L115.80,681.80 L115.80,676.95 Z" fill="#ef7d35" stroke="#ef7d35" stroke-width="0.5" stroke-linejoin="round"/>
<path d="M117.70,675.24 L119.40,677.24 L119.40,681.48 L117.70,683.72 L116.00,681.48 L116.00,677.24 Z" fill="#e2392d" stroke="#e2392d" stroke-width="0.5" stroke-linejoin="round"/>
<path d="M126.50,731.54 L130.55,736.46 L130.55,760.74 L126.50,767.79 L122.45,760.74 L122.45,736.46 Z" fill="#90d1dd" stroke="#90d1dd" stroke-width="0.5" stroke-linejoin="round"/>
<path d="M126.50,733.33 L129.90,737.66 L129.90,759.03 L126.50,765.22 L123.10,759.03 L123.10,737.66 Z" fill="#78c9d9" stroke="#78c9d9" stroke-width="0.5" stroke-linejoin="round"/>
<path d="M126.50,736.61 L129.01,741.52 L129.01,753.48 L126.50,760.53 L123.99,753.48 L123.99,741.52 Z" fill="#63b27c" stroke="#63b27c" stroke-width="0.5" stroke-linejoin="round"/>
<path d="M126.50,738.40 L128.48,742.42 L128.48,752.20 L126.50,757.97 L124.52,752.20 L124.52,742.42 Z" fill="#5aae48" stroke="#5aae48" stroke-width="0.5" stroke-linejoin="round"/>
<path d="M126.50,740.18 L127.96,743.31 L127.96,750.92 L126.50,755.41 L125.04,750.92 L125.04,743.31 Z" fill="#e8de4e" stroke="#e8de4e" stroke-width="0.5" stroke-linejoin="round"/>
<path d="M135.30,699.53 L139.35,703.40 L139.35,719.82 L135.30,724.04 L131.25,719.82 L131.25,703.40 Z" fill="#90d1dd" stroke="#90d1dd" stroke-width="0.5" stroke-linejoin="round"/>
<path d="M135.30,700.93 L138.70,704.34 L138.70,718.79 L135.30,722.50 L131.90,718.79 L131.90,704.34 Z" fill="#78c9d9" stroke="#78c9d9" stroke-width="0.5" stroke-linejoin="round"/>
<path d="M135.30,703.51 L137.81,707.38 L137.81,715.47 L135.30,719.69 L132.79,715.47 L132.79,707.38 Z" fill="#63b27c" stroke="#63b27c" stroke-width="0.5" stroke-linejoin="round"/>
<path d="M135.30,705.31 L137.20,708.28 L137.20,714.49 L135.30,717.73 L133.40,714.49 L133.40,708.28 Z" fill="#5aae48" stroke="#5aae48" stroke-width="0.5" stroke-linejoin="round"/>
<path d="M135.30,707.11 L136.60,709.18 L136.60,713.51 L135.30,715.77 L134.00,713.51 L134.00,709.18 Z" fill="#e8de4e" stroke="#e8de4e" stroke-width="0.5" stroke-linejoin="round"/>
<path d="M135.30,708.91 L135.99,710.08 L135.99,712.53 L135.30,713.81 L134.61,712.53 L134.61,710.08 Z" fill="#ef7d35" stroke="#ef7d35" stroke-width="0.5" stroke-linejoin="round"/>
<path d="M144.10,664.34 L148.15,669.64 L148.15,693.92 L144.10,700.58 L140.05,693.92 L140.05,669.64 Z" fill="#90d1dd" stroke="#90d1dd" stroke-width="0.5" stroke-linejoin="round"/>
<path d="M144.10,666.27 L147.50,670.93 L147.50,692.30 L144.10,698.16 L140.70,692.30 L140.70,670.93 Z" fill="#78c9d9" stroke="#78c9d9" stroke-width="0.5" stroke-linejoin="round"/>
<path d="M144.10,669.80 L146.61,675.11 L146.61,687.06 L144.10,693.72 L141.59,687.06 L141.59,675.11 Z" fill="#63b27c" stroke="#63b27c" stroke-width="0.5" stroke-linejoin="round"/>
<path d="M144.10,672.27 L146.00,676.34 L146.00,685.52 L144.10,690.63 L142.20,685.52 L142.20,676.34 Z" fill="#5aae48" stroke="#5aae48" stroke-width="0.5" stroke-linejoin="round"/>
<path d="M144.10,674.73 L145.40,677.57 L145.40,683.97 L144.10,687.54 L142.80,683.97 L142.80,677.57 Z" fill="#e8de4e" stroke="#e8de4e" stroke-width="0.5" stroke-linejoin="round"/>
<path d="M144.10,677.19 L144.79,678.80 L144.79,682.43 L144.10,684.44 L143.41,682.43 L143.41,678.80 Z" fill="#ef7d35" stroke="#ef7d35" stroke-width="0.5" stroke-linejoin="round"/>
<path d="M152.90,726.15 L156.95,732.85 L156.95,762.16 L152.90,769.90 L148.85,762.16 L148.85,732.85 Z" fill="#90d1dd" stroke="#90d1dd" stroke-width="0.5" stroke-linejoin="round"/>
<path d="M152.90,728.58 L156.30,734.48 L156.30,760.27 L152.90,767.08 L149.50,760.27 L149.50,734.48 Z" fill="#78c9d9" stroke="#78c9d9" stroke-width="0.5" stroke-linejoin="round"/>
<path d="M152.90,733.05 L155.41,739.74 L155.41,754.18 L152.90,761.92 L150.39,754.18 L150.39,739.74 Z" fill="#63b27c" stroke="#63b27c" stroke-width="0.5" stroke-linejoin="round"/>
<path d="M152.90,735.48 L154.88,740.96 L154.88,752.77 L152.90,759.11 L150.92,752.77 L150.92,740.96 Z" fill="#5aae48" stroke="#5aae48" stroke-width="0.5" stroke-linejoin="round"/>
<path d="M152.90,737.92 L154.36,742.18 L154.36,751.37 L152.90,756.29 L151.44,751.37 L151.44,742.18 Z" fill="#e8de4e" stroke="#e8de4e" stroke-width="0.5" stroke-linejoin="round"/>
<path d="M161.70,696.36 L165.75,701.27 L165.75,726.26 L161.70,733.66 L157.65,726.26 L157.65,701.27 Z" fill="#90d1dd" stroke="#90d1dd" stroke-width="0.5" stroke-linejoin="round"/>
<path d="M161.70,698.15 L165.10,702.47 L165.10,724.46 L161.70,730.97 L158.30,724.46 L158.30,702.47 Z" fill="#78c9d9" stroke="#78c9d9" stroke-width="0.5" stroke-linejoin="round"/>
<path d="M161.70,701.42 L164.21,706.34 L164.21,718.65 L161.70,726.04 L159.19,718.65 L159.19,706.34 Z" fill="#63b27c" stroke="#63b27c" stroke-width="0.5" stroke-linejoin="round"/>
<path d="M161.70,703.71 L163.60,707.48 L163.60,716.93 L161.70,722.60 L159.80,716.93 L159.80,707.48 Z" fill="#5aae48" stroke="#5aae48" stroke-width="0.5" stroke-linejoin="round"/>
<path d="M161.70,705.99 L163.00,708.62 L163.00,715.21 L161.70,719.17 L160.40,715.21 L160.40,708.62 Z" fill="#e8de4e" stroke="#e8de4e" stroke-width="0.5" stroke-linejoin="round"/>
<path d="M161.70,708.27 L162.39,709.76 L162.39,713.49 L161.70,715.73 L161.01,713.49 L161.01,709.76 Z" fill="#ef7d35" stroke="#ef7d35" stroke-width="0.5" stroke-linejoin="round"/>
<path d="M170.50,669.73 L174.55,673.95 L174.55,691.79 L170.50,696.36 L166.45,691.79 L166.45,673.95 Z" fill="#90d1dd" stroke="#90d1dd" stroke-width="0.5" stroke-linejoin="round"/>
<path d="M170.50,671.27 L173.90,674.98 L173.90,690.68 L170.50,694.70 L167.10,690.68 L167.10,674.98 Z" fill="#78c9d9" stroke="#78c9d9" stroke-width="0.5" stroke-linejoin="round"/>
<path d="M170.50,674.08 L173.01,678.30 L173.01,687.09 L170.50,691.65 L167.99,687.09 L167.99,678.30 Z" fill="#63b27c" stroke="#63b27c" stroke-width="0.5" stroke-linejoin="round"/>
<path d="M170.50,675.78 L172.50,679.15 L172.50,686.17 L170.50,689.82 L168.50,686.17 L168.50,679.15 Z" fill="#5aae48" stroke="#5aae48" stroke-width="0.5" stroke-linejoin="round"/>
<path d="M170.50,677.47 L172.00,679.99 L172.00,685.25 L170.50,687.99 L169.00,685.25 L169.00,679.99 Z" fill="#e8de4e" stroke="#e8de4e" stroke-width="0.5" stroke-linejoin="round"/>
<path d="M170.50,679.16 L171.49,680.84 L171.49,684.34 L170.50,686.15 L169.51,684.34 L169.51,680.84 Z" fill="#ef7d35" stroke="#ef7d35" stroke-width="0.5" stroke-linejoin="round"/>
<path d="M170.50,680.86 L170.99,681.69 L170.99,683.42 L170.50,684.32 L170.01,683.42 L170.01,681.69 Z" fill="#e2392d" stroke="#e2392d" stroke-width="0.5" stroke-linejoin="round"/>
<path d="M170.50,660.47 L171.90,661.35 L171.90,663.11 L170.50,663.99 L169.10,663.11 L169.10,661.35 Z" fill="#90d1dd" stroke="#90d1dd" stroke-width="0.5" stroke-linejoin="round"/>
<path d="M179.30,666.45 L183.35,669.62 L183.35,685.34 L179.30,689.91 L175.25,685.34 L175.25,669.62 Z" fill="#90d1dd" stroke="#90d1dd" stroke-width="0.5" stroke-linejoin="round"/>
<path d="M179.30,667.60 L182.70,670.40 L182.70,684.23 L179.30,688.25 L175.90,684.23 L175.90,670.40 Z" fill="#78c9d9" stroke="#78c9d9" stroke-width="0.5" stroke-linejoin="round"/>
<path d="M179.30,669.72 L181.81,672.89 L181.81,680.64 L179.30,685.20 L176.79,680.64 L176.79,672.89 Z" fill="#63b27c" stroke="#63b27c" stroke-width="0.5" stroke-linejoin="round"/>
<path d="M179.30,670.30 L181.61,673.18 L181.61,680.22 L179.30,684.37 L176.99,680.22 L176.99,673.18 Z" fill="#5aae48" stroke="#5aae48" stroke-width="0.5" stroke-linejoin="round"/>
<path d="M179.30,670.87 L181.41,673.47 L181.41,679.81 L179.30,683.54 L177.19,679.81 L177.19,673.47 Z" fill="#e8de4e" stroke="#e8de4e" stroke-width="0.5" stroke-linejoin="round"/>
<path d="M179.30,671.45 L181.20,673.76 L181.20,679.39 L179.30,682.71 L177.40,679.39 L177.40,673.76 Z" fill="#ef7d35" stroke="#ef7d35" stroke-width="0.5" stroke-linejoin="round"/>
<path d="M179.30,672.03 L181.00,674.05 L181.00,678.97 L179.30,681.88 L177.60,678.97 L177.60,674.05 Z" fill="#e2392d" stroke="#e2392d" stroke-width="0.5" stroke-linejoin="round"/>
<path d="M188.10,731.54 L192.15,736.11 L192.15,758.98 L188.10,765.67 L184.05,758.98 L184.05,736.11 Z" fill="#90d1dd" stroke="#90d1dd" stroke-width="0.5" stroke-linejoin="round"/>
<path d="M188.10,733.21 L191.50,737.22 L191.50,757.35 L188.10,763.24 L184.70,757.35 L184.70,737.22 Z" fill="#78c9d9" stroke="#78c9d9" stroke-width="0.5" stroke-linejoin="round"/>
<path d="M188.10,736.25 L190.61,740.82 L190.61,752.08 L188.10,758.78 L185.59,752.08 L185.59,740.82 Z" fill="#63b27c" stroke="#63b27c" stroke-width="0.5" stroke-linejoin="round"/>
<path d="M188.10,737.91 L190.08,741.65 L190.08,750.86 L188.10,756.34 L186.12,750.86 L186.12,741.65 Z" fill="#5aae48" stroke="#5aae48" stroke-width="0.5" stroke-linejoin="round"/>
<path d="M188.10,739.57 L189.56,742.48 L189.56,749.65 L188.10,753.91 L186.64,749.65 L186.64,742.48 Z" fill="#e8de4e" stroke="#e8de4e" stroke-width="0.5" stroke-linejoin="round"/>
<path d="M196.90,722.98 L200.95,730.03 L200.95,755.02 L196.90,760.28 L192.85,755.02 L192.85,730.03 Z" fill="#90d1dd" stroke="#90d1dd" stroke-width="0.5" stroke-linejoin="round"/>
<path d="M196.90,725.54 L200.30,731.74 L200.30,753.73 L196.90,758.37 L193.50,753.73 L193.50,731.74 Z" fill="#78c9d9" stroke="#78c9d9" stroke-width="0.5" stroke-linejoin="round"/>
<path d="M196.90,730.24 L199.41,737.28 L199.41,749.59 L196.90,754.86 L194.39,749.59 L194.39,737.28 Z" fill="#63b27c" stroke="#63b27c" stroke-width="0.5" stroke-linejoin="round"/>
<path d="M196.90,732.80 L198.88,738.57 L198.88,748.64 L196.90,752.94 L194.92,748.64 L194.92,738.57 Z" fill="#5aae48" stroke="#5aae48" stroke-width="0.5" stroke-linejoin="round"/>
<path d="M196.90,735.36 L198.36,739.85 L198.36,747.68 L196.90,751.03 L195.44,747.68 L195.44,739.85 Z" fill="#e8de4e" stroke="#e8de4e" stroke-width="0.5" stroke-linejoin="round"/>
<path d="M205.70,661.17 L209.75,668.91 L209.75,696.02 L205.70,701.64 L201.65,696.02 L201.65,668.91 Z" fill="#90d1dd" stroke="#90d1dd" stroke-width="0.5" stroke-linejoin="round"/>
<path d="M205.70,663.99 L209.10,670.80 L209.10,694.66 L205.70,699.60 L202.30,694.66 L202.30,670.80 Z" fill="#78c9d9" stroke="#78c9d9" stroke-width="0.5" stroke-linejoin="round"/>
<path d="M205.70,669.15 L208.21,676.89 L208.21,690.24 L205.70,695.85 L203.19,690.24 L203.19,676.89 Z" fill="#63b27c" stroke="#63b27c" stroke-width="0.5" stroke-linejoin="round"/>
<path d="M205.70,672.75 L207.60,678.69 L207.60,688.94 L205.70,693.25 L203.80,688.94 L203.80,678.69 Z" fill="#5aae48" stroke="#5aae48" stroke-width="0.5" stroke-linejoin="round"/>
<path d="M205.70,676.34 L207.00,680.49 L207.00,687.63 L205.70,690.64 L204.40,687.63 L204.40,680.49 Z" fill="#e8de4e" stroke="#e8de4e" stroke-width="0.5" stroke-linejoin="round"/>
<path d="M205.70,679.94 L206.39,682.28 L206.39,686.33 L205.70,688.03 L205.01,686.33 L205.01,682.28 Z" fill="#ef7d35" stroke="#ef7d35" stroke-width="0.5" stroke-linejoin="round"/>
<path d="M214.50,731.54 L218.55,737.50 L218.55,762.49 L214.50,768.84 L210.45,762.49 L210.45,737.50 Z" fill="#90d1dd" stroke="#90d1dd" stroke-width="0.5" stroke-linejoin="round"/>
<path d="M214.50,733.71 L217.90,738.96 L217.90,760.95 L214.50,766.53 L211.10,760.95 L211.10,738.96 Z" fill="#78c9d9" stroke="#78c9d9" stroke-width="0.5" stroke-linejoin="round"/>
<path d="M214.50,737.69 L217.01,743.65 L217.01,755.95 L214.50,762.30 L211.99,755.95 L211.99,743.65 Z" fill="#63b27c" stroke="#63b27c" stroke-width="0.5" stroke-linejoin="round"/>
<path d="M214.50,739.85 L216.48,744.73 L216.48,754.80 L214.50,759.99 L212.52,754.80 L212.52,744.73 Z" fill="#5aae48" stroke="#5aae48" stroke-width="0.5" stroke-linejoin="round"/>
<path d="M214.50,742.02 L215.96,745.81 L215.96,753.65 L214.50,757.69 L213.04,753.65 L213.04,745.81 Z" fill="#e8de4e" stroke="#e8de4e" stroke-width="0.5" stroke-linejoin="round"/>
<path d="M214.50,719.11 L216.10,719.99 L216.10,721.75 L214.50,722.63 L212.90,721.75 L212.90,719.99 Z" fill="#90d1dd" stroke="#90d1dd" stroke-width="0.5" stroke-linejoin="round"/>
<path d="M223.30,704.92 L227.35,708.44 L227.35,726.28 L223.30,731.54 L219.25,726.28 L219.25,708.44 Z" fill="#90d1dd" stroke="#90d1dd" stroke-width="0.5" stroke-linejoin="round"/>
<path d="M223.30,706.20 L226.70,709.30 L226.70,725.00 L223.30,729.63 L219.90,725.00 L219.90,709.30 Z" fill="#78c9d9" stroke="#78c9d9" stroke-width="0.5" stroke-linejoin="round"/>
<path d="M223.30,708.55 L225.81,712.07 L225.81,720.86 L223.30,726.12 L220.79,720.86 L220.79,712.07 Z" fill="#63b27c" stroke="#63b27c" stroke-width="0.5" stroke-linejoin="round"/>
<path d="M223.30,709.83 L225.28,712.71 L225.28,719.90 L223.30,724.21 L221.32,719.90 L221.32,712.71 Z" fill="#5aae48" stroke="#5aae48" stroke-width="0.5" stroke-linejoin="round"/>
<path d="M223.30,711.11 L224.76,713.35 L224.76,718.94 L223.30,722.29 L221.84,718.94 L221.84,713.35 Z" fill="#e8de4e" stroke="#e8de4e" stroke-width="0.5" stroke-linejoin="round"/>
<path d="M232.10,741.16 L236.15,744.68 L236.15,761.81 L232.10,766.73 L228.05,761.81 L228.05,744.68 Z" fill="#90d1dd" stroke="#90d1dd" stroke-width="0.5" stroke-linejoin="round"/>
<path d="M232.10,742.44 L235.50,745.54 L235.50,760.62 L232.10,764.94 L228.70,760.62 L228.70,745.54 Z" fill="#78c9d9" stroke="#78c9d9" stroke-width="0.5" stroke-linejoin="round"/>
<path d="M232.10,744.79 L234.61,748.31 L234.61,756.75 L232.10,761.67 L229.59,756.75 L229.59,748.31 Z" fill="#63b27c" stroke="#63b27c" stroke-width="0.5" stroke-linejoin="round"/>
<path d="M232.10,746.43 L234.00,749.13 L234.00,755.61 L232.10,759.38 L230.20,755.61 L230.20,749.13 Z" fill="#5aae48" stroke="#5aae48" stroke-width="0.5" stroke-linejoin="round"/>
<path d="M232.10,748.06 L233.40,749.95 L233.40,754.47 L232.10,757.10 L230.80,754.47 L230.80,749.95 Z" fill="#e8de4e" stroke="#e8de4e" stroke-width="0.5" stroke-linejoin="round"/>
<path d="M232.10,749.70 L232.79,750.77 L232.79,753.32 L232.10,754.81 L231.41,753.32 L231.41,750.77 Z" fill="#ef7d35" stroke="#ef7d35" stroke-width="0.5" stroke-linejoin="round"/>
<path d="M232.10,729.67 L234.70,731.13 L234.70,734.07 L232.10,735.53 L229.50,734.07 L229.50,731.13 Z" fill="#90d1dd" stroke="#90d1dd" stroke-width="0.5" stroke-linejoin="round"/>
<path d="M232.10,730.02 L234.28,731.31 L234.28,733.89 L232.10,735.18 L229.92,733.89 L229.92,731.31 Z" fill="#78c9d9" stroke="#78c9d9" stroke-width="0.5" stroke-linejoin="round"/>
<path d="M240.90,686.74 L244.95,689.41 L244.95,700.10 L240.90,702.69 L236.85,700.10 L236.85,689.41 Z" fill="#90d1dd" stroke="#90d1dd" stroke-width="0.5" stroke-linejoin="round"/>
<path d="M240.90,687.71 L244.30,690.06 L244.30,699.47 L240.90,701.75 L237.50,699.47 L237.50,690.06 Z" fill="#78c9d9" stroke="#78c9d9" stroke-width="0.5" stroke-linejoin="round"/>
<path d="M240.90,689.49 L243.41,692.16 L243.41,697.43 L240.90,700.02 L238.39,697.43 L238.39,692.16 Z" fill="#63b27c" stroke="#63b27c" stroke-width="0.5" stroke-linejoin="round"/>
<path d="M240.90,689.98 L243.21,692.41 L243.21,697.19 L240.90,699.55 L238.59,697.19 L238.59,692.41 Z" fill="#5aae48" stroke="#5aae48" stroke-width="0.5" stroke-linejoin="round"/>
<path d="M240.90,690.46 L243.01,692.65 L243.01,696.96 L240.90,699.08 L238.79,696.96 L238.79,692.65 Z" fill="#e8de4e" stroke="#e8de4e" stroke-width="0.5" stroke-linejoin="round"/>
<path d="M240.90,690.95 L242.80,692.89 L242.80,696.72 L240.90,698.61 L239.00,696.72 L239.00,692.89 Z" fill="#ef7d35" stroke="#ef7d35" stroke-width="0.5" stroke-linejoin="round"/>
<path d="M240.90,691.44 L242.60,693.13 L242.60,696.48 L240.90,698.13 L239.20,696.48 L239.20,693.13 Z" fill="#e2392d" stroke="#e2392d" stroke-width="0.5" stroke-linejoin="round"/>
<path d="M249.70,675.01 L253.75,677.84 L253.75,688.53 L249.70,690.96 L245.65,688.53 L245.65,677.84 Z" fill="#90d1dd" stroke="#90d1dd" stroke-width="0.5" stroke-linejoin="round"/>
<path d="M249.70,676.04 L253.10,678.53 L253.10,687.93 L249.70,690.08 L246.30,687.93 L246.30,678.53 Z" fill="#78c9d9" stroke="#78c9d9" stroke-width="0.5" stroke-linejoin="round"/>
<path d="M249.70,677.92 L252.21,680.75 L252.21,686.01 L249.70,688.45 L247.19,686.01 L247.19,680.75 Z" fill="#63b27c" stroke="#63b27c" stroke-width="0.5" stroke-linejoin="round"/>
<path d="M249.70,678.95 L251.68,681.26 L251.68,685.57 L249.70,687.56 L247.72,685.57 L247.72,681.26 Z" fill="#5aae48" stroke="#5aae48" stroke-width="0.5" stroke-linejoin="round"/>
<path d="M249.70,679.98 L251.16,681.78 L251.16,685.13 L249.70,686.68 L248.24,685.13 L248.24,681.78 Z" fill="#e8de4e" stroke="#e8de4e" stroke-width="0.5" stroke-linejoin="round"/>
<path d="M249.70,693.90 L252.50,695.06 L252.50,699.77 L249.70,700.93 L246.90,699.77 L246.90,695.06 Z" fill="#90d1dd" stroke="#90d1dd" stroke-width="0.5" stroke-linejoin="round"/>
<path d="M249.70,694.32 L252.05,695.34 L252.05,699.49 L249.70,700.51 L247.35,699.49 L247.35,695.34 Z" fill="#78c9d9" stroke="#78c9d9" stroke-width="0.5" stroke-linejoin="round"/>
<path d="M249.70,695.09 L251.44,696.25 L251.44,698.58 L249.70,699.74 L247.96,698.58 L247.96,696.25 Z" fill="#63b27c" stroke="#63b27c" stroke-width="0.5" stroke-linejoin="round"/>
<path d="M258.50,746.44 L262.55,748.92 L262.55,758.90 L258.50,761.34 L254.45,758.90 L254.45,748.92 Z" fill="#90d1dd" stroke="#90d1dd" stroke-width="0.5" stroke-linejoin="round"/>
<path d="M258.50,747.34 L261.90,749.52 L261.90,758.30 L258.50,760.45 L255.10,758.30 L255.10,749.52 Z" fill="#78c9d9" stroke="#78c9d9" stroke-width="0.5" stroke-linejoin="round"/>
<path d="M258.50,748.99 L261.01,751.47 L261.01,756.38 L258.50,758.82 L255.99,756.38 L255.99,751.47 Z" fill="#63b27c" stroke="#63b27c" stroke-width="0.5" stroke-linejoin="round"/>
<path d="M258.50,749.44 L260.81,751.69 L260.81,756.16 L258.50,758.38 L256.19,756.16 L256.19,751.69 Z" fill="#5aae48" stroke="#5aae48" stroke-width="0.5" stroke-linejoin="round"/>
<path d="M258.50,749.89 L260.61,751.92 L260.61,755.94 L258.50,757.94 L256.39,755.94 L256.39,751.92 Z" fill="#e8de4e" stroke="#e8de4e" stroke-width="0.5" stroke-linejoin="round"/>
<path d="M258.50,750.34 L260.40,752.14 L260.40,755.72 L258.50,757.49 L256.60,755.72 L256.60,752.14 Z" fill="#ef7d35" stroke="#ef7d35" stroke-width="0.5" stroke-linejoin="round"/>
<path d="M258.50,750.79 L260.20,752.37 L260.20,755.50 L258.50,757.05 L256.80,755.50 L256.80,752.37 Z" fill="#e2392d" stroke="#e2392d" stroke-width="0.5" stroke-linejoin="round"/>
<path d="M267.30,746.44 L271.35,748.92 L271.35,758.90 L267.30,761.34 L263.25,758.90 L263.25,748.92 Z" fill="#90d1dd" stroke="#90d1dd" stroke-width="0.5" stroke-linejoin="round"/>
<path d="M267.30,747.34 L270.70,749.52 L270.70,758.30 L267.30,760.45 L263.90,758.30 L263.90,749.52 Z" fill="#78c9d9" stroke="#78c9d9" stroke-width="0.5" stroke-linejoin="round"/>
<path d="M267.30,748.99 L269.81,751.47 L269.81,756.38 L267.30,758.82 L264.79,756.38 L264.79,751.47 Z" fill="#63b27c" stroke="#63b27c" stroke-width="0.5" stroke-linejoin="round"/>
<path d="M267.30,749.44 L269.61,751.69 L269.61,756.16 L267.30,758.38 L264.99,756.16 L264.99,751.69 Z" fill="#5aae48" stroke="#5aae48" stroke-width="0.5" stroke-linejoin="round"/>
<path d="M267.30,749.89 L269.41,751.92 L269.41,755.94 L267.30,757.94 L265.19,755.94 L265.19,751.92 Z" fill="#e8de4e" stroke="#e8de4e" stroke-width="0.5" stroke-linejoin="round"/>
<path d="M267.30,750.34 L269.20,752.14 L269.20,755.72 L267.30,757.49 L265.40,755.72 L265.40,752.14 Z" fill="#ef7d35" stroke="#ef7d35" stroke-width="0.5" stroke-linejoin="round"/>
<path d="M267.30,750.79 L269.00,752.37 L269.00,755.50 L267.30,757.05 L265.60,755.50 L265.60,752.37 Z" fill="#e2392d" stroke="#e2392d" stroke-width="0.5" stroke-linejoin="round"/>
<path d="M276.10,756.06 L279.90,766.28 L279.90,801.24 L276.10,808.25 L272.30,801.24 L272.30,766.28 Z" fill="#90d1dd" stroke="#90d1dd" stroke-width="0.5" stroke-linejoin="round"/>
<path d="M276.10,759.77 L279.29,768.76 L279.29,799.54 L276.10,805.70 L272.91,799.54 L272.91,768.76 Z" fill="#78c9d9" stroke="#78c9d9" stroke-width="0.5" stroke-linejoin="round"/>
<path d="M276.10,766.58 L278.46,776.80 L278.46,794.03 L276.10,801.03 L273.74,794.03 L273.74,776.80 Z" fill="#63b27c" stroke="#63b27c" stroke-width="0.5" stroke-linejoin="round"/>
<path d="M276.10,770.30 L277.96,778.66 L277.96,792.75 L276.10,798.48 L274.24,792.75 L274.24,778.66 Z" fill="#5aae48" stroke="#5aae48" stroke-width="0.5" stroke-linejoin="round"/>
<path d="M276.10,774.02 L277.47,780.52 L277.47,791.48 L276.10,795.94 L274.73,791.48 L274.73,780.52 Z" fill="#e8de4e" stroke="#e8de4e" stroke-width="0.5" stroke-linejoin="round"/>
<line x1="73.70" y1="814.70" x2="73.70" y2="812.50" stroke="#4d4d4d" stroke-width="0.8"/>
<line x1="82.50" y1="814.70" x2="82.50" y2="812.50" stroke="#4d4d4d" stroke-width="0.8"/>
<line x1="91.30" y1="814.70" x2="91.30" y2="812.50" stroke="#4d4d4d" stroke-width="0.8"/>
<line x1="100.10" y1="814.70" x2="100.10" y2="812.50" stroke="#4d4d4d" stroke-width="0.8"/>
<line x1="108.90" y1="814.70" x2="108.90" y2="812.50" stroke="#4d4d4d" stroke-width="0.8"/>
<line x1="117.70" y1="814.70" x2="117.70" y2="812.50" stroke="#4d4d4d" stroke-width="0.8"/>
<line x1="126.50" y1="814.70" x2="126.50" y2="812.50" stroke="#4d4d4d" stroke-width="0.8"/>
<line x1="135.30" y1="814.70" x2="135.30" y2="812.50" stroke="#4d4d4d" stroke-width="0.8"/>
<line x1="144.10" y1="814.70" x2="144.10" y2="812.50" stroke="#4d4d4d" stroke-width="0.8"/>
<line x1="152.90" y1="814.70" x2="152.90" y2="812.50" stroke="#4d4d4d" stroke-width="0.8"/>
<line x1="161.70" y1="814.70" x2="161.70" y2="812.50" stroke="#4d4d4d" stroke-width="0.8"/>
<line x1="170.50" y1="814.70" x2="170.50" y2="812.50" stroke="#4d4d4d" stroke-width="0.8"/>
<line x1="179.30" y1="814.70" x2="179.30" y2="812.50" stroke="#4d4d4d" stroke-width="0.8"/>
<line x1="188.10" y1="814.70" x2="188.10" y2="812.50" stroke="#4d4d4d" stroke-width="0.8"/>
<line x1="196.90" y1="814.70" x2="196.90" y2="812.50" stroke="#4d4d4d" stroke-width="0.8"/>
<line x1="205.70" y1="814.70" x2="205.70" y2="812.50" stroke="#4d4d4d" stroke-width="0.8"/>
<line x1="214.50" y1="814.70" x2="214.50" y2="812.50" stroke="#4d4d4d" stroke-width="0.8"/>
<line x1="223.30" y1="814.70" x2="223.30" y2="812.50" stroke="#4d4d4d" stroke-width="0.8"/>
<line x1="232.10" y1="814.70" x2="232.10" y2="812.50" stroke="#4d4d4d" stroke-width="0.8"/>
<line x1="240.90" y1="814.70" x2="240.90" y2="812.50" stroke="#4d4d4d" stroke-width="0.8"/>
<line x1="249.70" y1="814.70" x2="249.70" y2="812.50" stroke="#4d4d4d" stroke-width="0.8"/>
<line x1="258.50" y1="814.70" x2="258.50" y2="812.50" stroke="#4d4d4d" stroke-width="0.8"/>
<line x1="267.30" y1="814.70" x2="267.30" y2="812.50" stroke="#4d4d4d" stroke-width="0.8"/>
<line x1="276.10" y1="814.70" x2="276.10" y2="812.50" stroke="#4d4d4d" stroke-width="0.8"/>
<line x1="69.20" y1="814.70" x2="72.70" y2="814.70" stroke="#4d4d4d" stroke-width="0.9"/>
<line x1="69.20" y1="802.97" x2="71.20" y2="802.97" stroke="#4d4d4d" stroke-width="0.9"/>
<line x1="69.20" y1="791.24" x2="72.70" y2="791.24" stroke="#4d4d4d" stroke-width="0.9"/>
<line x1="69.20" y1="779.51" x2="71.20" y2="779.51" stroke="#4d4d4d" stroke-width="0.9"/>
<line x1="69.20" y1="767.79" x2="72.70" y2="767.79" stroke="#4d4d4d" stroke-width="0.9"/>
<line x1="69.20" y1="756.06" x2="71.20" y2="756.06" stroke="#4d4d4d" stroke-width="0.9"/>
<line x1="69.20" y1="744.33" x2="72.70" y2="744.33" stroke="#4d4d4d" stroke-width="0.9"/>
<line x1="69.20" y1="732.60" x2="71.20" y2="732.60" stroke="#4d4d4d" stroke-width="0.9"/>
<line x1="69.20" y1="720.87" x2="72.70" y2="720.87" stroke="#4d4d4d" stroke-width="0.9"/>
<line x1="69.20" y1="709.14" x2="71.20" y2="709.14" stroke="#4d4d4d" stroke-width="0.9"/>
<line x1="69.20" y1="697.41" x2="72.70" y2="697.41" stroke="#4d4d4d" stroke-width="0.9"/>
<line x1="69.20" y1="685.69" x2="71.20" y2="685.69" stroke="#4d4d4d" stroke-width="0.9"/>
<line x1="69.20" y1="673.96" x2="72.70" y2="673.96" stroke="#4d4d4d" stroke-width="0.9"/>
<line x1="69.20" y1="662.23" x2="71.20" y2="662.23" stroke="#4d4d4d" stroke-width="0.9"/>
<line x1="69.20" y1="650.50" x2="72.70" y2="650.50" stroke="#4d4d4d" stroke-width="0.9"/>
<line x1="280.40" y1="661.00" x2="277.40" y2="661.00" stroke="#4d4d4d" stroke-width="0.9"/>
<line x1="280.40" y1="683.10" x2="277.40" y2="683.10" stroke="#4d4d4d" stroke-width="0.9"/>
<line x1="280.40" y1="705.20" x2="277.40" y2="705.20" stroke="#4d4d4d" stroke-width="0.9"/>
<line x1="280.40" y1="727.30" x2="277.40" y2="727.30" stroke="#4d4d4d" stroke-width="0.9"/>
<line x1="280.40" y1="749.40" x2="277.40" y2="749.40" stroke="#4d4d4d" stroke-width="0.9"/>
<line x1="280.40" y1="771.50" x2="277.40" y2="771.50" stroke="#4d4d4d" stroke-width="0.9"/>
<line x1="280.40" y1="793.60" x2="277.40" y2="793.60" stroke="#4d4d4d" stroke-width="0.9"/>
<line x1="280.40" y1="672.05" x2="277.40" y2="672.05" stroke="#4d4d4d" stroke-width="0.9"/>
<line x1="280.40" y1="694.15" x2="277.40" y2="694.15" stroke="#4d4d4d" stroke-width="0.9"/>
<line x1="280.40" y1="716.25" x2="277.40" y2="716.25" stroke="#4d4d4d" stroke-width="0.9"/>
<line x1="280.40" y1="738.35" x2="277.40" y2="738.35" stroke="#4d4d4d" stroke-width="0.9"/>
<line x1="280.40" y1="760.45" x2="277.40" y2="760.45" stroke="#4d4d4d" stroke-width="0.9"/>
<line x1="280.40" y1="782.55" x2="277.40" y2="782.55" stroke="#4d4d4d" stroke-width="0.9"/>
<line x1="280.40" y1="804.65" x2="277.40" y2="804.65" stroke="#4d4d4d" stroke-width="0.9"/>
<rect x="69.20" y="650.50" width="211.20" height="164.20" fill="none" stroke="#7d7d7d" stroke-width="1.0"/>
<rect x="148.00" y="628.60" width="9.30" height="187.90" fill="none" stroke="#ef6a3a" stroke-width="1.5" stroke-dasharray="2.3,1.7"/>
<rect x="174.10" y="629.10" width="9.50" height="187.40" fill="none" stroke="#3f4a9e" stroke-width="1.5" stroke-dasharray="2.3,1.7"/>
<rect x="235.90" y="630.90" width="9.80" height="184.30" fill="none" stroke="#e3338f" stroke-width="1.4"/>
<text x="68.00" y="794.04" font-size="10.3" font-weight="bold" text-anchor="end" fill="#231f20">0.0</text>
<text x="68.00" y="770.59" font-size="10.3" font-weight="bold" text-anchor="end" fill="#231f20">0.2</text>
<text x="68.00" y="747.13" font-size="10.3" font-weight="bold" text-anchor="end" fill="#231f20">0.4</text>
<text x="68.00" y="723.67" font-size="10.3" font-weight="bold" text-anchor="end" fill="#231f20">0.6</text>
<text x="68.00" y="700.21" font-size="10.3" font-weight="bold" text-anchor="end" fill="#231f20">0.8</text>
<text x="68.00" y="676.76" font-size="10.3" font-weight="bold" text-anchor="end" fill="#231f20">1.0</text>
<text x="68.00" y="653.30" font-size="10.3" font-weight="bold" text-anchor="end" fill="#231f20">1.2</text>
<rect x="31.30" y="665.50" width="19.60" height="19.00" fill="#b9bde6" stroke="#a9d6e6" stroke-width="0.6"/>
<text x="41.10" y="679.00" font-size="11" font-weight="bold" text-anchor="middle" fill="#231f20">G</text>
<rect x="31.30" y="699.10" width="19.60" height="25.30" fill="#f3b8c4" stroke="#a9d6e6" stroke-width="0.6"/>
<text x="41.10" y="715.75" font-size="11" font-weight="bold" text-anchor="middle" fill="#231f20">A</text>
<rect x="31.30" y="735.80" width="19.60" height="17.50" fill="#b3e0c9" stroke="#a9d6e6" stroke-width="0.6"/>
<text x="41.10" y="748.55" font-size="11" font-weight="bold" text-anchor="middle" fill="#231f20">T</text>
<rect x="31.30" y="775.10" width="19.60" height="19.00" fill="#c9c7ca" stroke="#a9d6e6" stroke-width="0.6"/>
<text x="41.10" y="788.60" font-size="11" font-weight="bold" text-anchor="middle" fill="#231f20">B</text>
<text transform="translate(24.20,728.60) rotate(-90)" font-size="10.65" font-weight="bold" text-anchor="middle" fill="#231f20">Normalized conductance</text>
<text x="282.70" y="664.70" font-size="10.3" font-weight="bold" fill="#231f20">140</text>
<text x="282.70" y="686.80" font-size="10.3" font-weight="bold" fill="#231f20">120</text>
<text x="282.70" y="708.90" font-size="10.3" font-weight="bold" fill="#231f20">100</text>
<text x="282.70" y="731.00" font-size="10.3" font-weight="bold" fill="#231f20">80</text>
<text x="282.70" y="753.10" font-size="10.3" font-weight="bold" fill="#231f20">60</text>
<text x="282.70" y="775.20" font-size="10.3" font-weight="bold" fill="#231f20">40</text>
<text x="282.70" y="797.30" font-size="10.3" font-weight="bold" fill="#231f20">20</text>
<text x="282.70" y="819.40" font-size="10.3" font-weight="bold" fill="#231f20">0</text>
<text transform="translate(299.30,738.70) rotate(90)" font-size="10.6" font-weight="bold" text-anchor="middle" fill="#231f20">Coverage</text>
<text x="74.40" y="827.90" font-size="10.3" font-weight="bold" text-anchor="middle" fill="#231f20">0</text>
<text x="92.02" y="827.90" font-size="10.3" font-weight="bold" text-anchor="middle" fill="#231f20">2</text>
<text x="109.64" y="827.90" font-size="10.3" font-weight="bold" text-anchor="middle" fill="#231f20">4</text>
<text x="127.26" y="827.90" font-size="10.3" font-weight="bold" text-anchor="middle" fill="#231f20">6</text>
<text x="144.88" y="827.90" font-size="10.3" font-weight="bold" text-anchor="middle" fill="#231f20">8</text>
<text x="162.50" y="827.90" font-size="10.3" font-weight="bold" text-anchor="middle" fill="#231f20">10</text>
<text x="180.12" y="827.90" font-size="10.3" font-weight="bold" text-anchor="middle" fill="#231f20">12</text>
<text x="197.74" y="827.90" font-size="10.3" font-weight="bold" text-anchor="middle" fill="#231f20">14</text>
<text x="215.36" y="827.90" font-size="10.3" font-weight="bold" text-anchor="middle" fill="#231f20">16</text>
<text x="232.98" y="827.90" font-size="10.3" font-weight="bold" text-anchor="middle" fill="#231f20">18</text>
<text x="250.60" y="827.90" font-size="10.3" font-weight="bold" text-anchor="middle" fill="#231f20">20</text>
<text x="268.22" y="827.90" font-size="10.3" font-weight="bold" text-anchor="middle" fill="#231f20">22</text>
<text x="180.00" y="839.40" font-size="10.6" font-weight="bold" text-anchor="middle" fill="#231f20">Base Position</text>
<text x="303.40" y="638.80" font-size="10.4" font-weight="bold" fill="#231f20">Ratio</text>
<rect x="302.40" y="645.50" width="7.90" height="7.49" fill="#8fd0dc"/>
<rect x="302.40" y="652.79" width="7.90" height="7.49" fill="#5ebfd5"/>
<rect x="302.40" y="660.07" width="7.90" height="7.49" fill="#62b37a"/>
<rect x="302.40" y="667.36" width="7.90" height="7.49" fill="#5aae48"/>
<rect x="302.40" y="674.64" width="7.90" height="7.49" fill="#e8de4e"/>
<rect x="302.40" y="681.93" width="7.90" height="7.49" fill="#ef7d35"/>
<rect x="302.40" y="689.21" width="7.90" height="7.49" fill="#e2392d"/>
<text transform="translate(311.10,646.90) scale(0.96,1)" font-size="8.7" font-weight="bold" fill="#231f20" class="cbl">0.08</text>
<text transform="translate(311.10,654.19) scale(0.96,1)" font-size="8.7" font-weight="bold" fill="#231f20" class="cbl">0.15</text>
<text transform="translate(311.10,661.47) scale(0.96,1)" font-size="8.7" font-weight="bold" fill="#231f20" class="cbl">0.25</text>
<text transform="translate(311.10,668.76) scale(0.96,1)" font-size="8.7" font-weight="bold" fill="#231f20" class="cbl">0.30</text>
<text transform="translate(311.10,676.04) scale(0.96,1)" font-size="8.7" font-weight="bold" fill="#231f20" class="cbl">0.41</text>
<text transform="translate(311.10,683.33) scale(0.96,1)" font-size="8.7" font-weight="bold" fill="#231f20" class="cbl">0.50</text>
<text transform="translate(311.10,690.61) scale(0.96,1)" font-size="8.7" font-weight="bold" fill="#231f20" class="cbl">0.60</text>
<text transform="translate(311.10,697.90) scale(0.96,1)" font-size="8.7" font-weight="bold" fill="#231f20" class="cbl">0.67</text>
<line x1="74.80" y1="682.00" x2="88.30" y2="682.00" stroke="#111" stroke-width="1.5"/>
<path d="M70.80,682.00 L77.80,678.10 L75.80,682.00 L77.80,685.90 Z" fill="#111"/>
<line x1="254.80" y1="806.40" x2="276.20" y2="806.40" stroke="#111" stroke-width="1.5"/>
<path d="M280.20,806.40 L273.20,802.50 L275.20,806.40 L273.20,810.30 Z" fill="#111"/>
<text x="356.30" y="381.70" font-size="10.7" font-weight="bold" fill="#231f20">(d) let7e</text>
<rect x="396.60" y="391.60" width="8.32" height="9.00" fill="#c9c7ca"/>
<rect x="404.62" y="391.60" width="8.75" height="9.00" fill="#b3e0c9"/>
<rect x="413.07" y="391.60" width="8.75" height="9.00" fill="#b9bde6"/>
<rect x="421.52" y="391.60" width="8.75" height="9.00" fill="#f3b8c4"/>
<rect x="429.97" y="391.60" width="8.75" height="9.00" fill="#b9bde6"/>
<rect x="438.42" y="391.60" width="8.75" height="9.00" fill="#b9bde6"/>
<rect x="446.87" y="391.60" width="8.75" height="9.00" fill="#b3e0c9"/>
<rect x="455.32" y="391.60" width="8.75" height="9.00" fill="#f3b8c4"/>
<rect x="463.77" y="391.60" width="8.75" height="9.00" fill="#b9bde6"/>
<rect x="472.22" y="391.60" width="8.75" height="9.00" fill="#b9bde6"/>
<rect x="480.67" y="391.60" width="8.75" height="9.00" fill="#f3b8c4"/>
<rect x="489.12" y="391.60" width="8.75" height="9.00" fill="#b9bde6"/>
<rect x="497.57" y="391.60" width="8.75" height="9.00" fill="#b9bde6"/>
<rect x="506.02" y="391.60" width="8.75" height="9.00" fill="#b3e0c9"/>
<rect x="514.47" y="391.60" width="8.75" height="9.00" fill="#b3e0c9"/>
<rect x="522.92" y="391.60" width="8.75" height="9.00" fill="#b9bde6"/>
<rect x="531.37" y="391.60" width="8.75" height="9.00" fill="#b3e0c9"/>
<rect x="539.82" y="391.60" width="8.75" height="9.00" fill="#f3b8c4"/>
<rect x="548.27" y="391.60" width="8.75" height="9.00" fill="#b3e0c9"/>
<rect x="556.72" y="391.60" width="8.75" height="9.00" fill="#f3b8c4"/>
<rect x="565.17" y="391.60" width="8.75" height="9.00" fill="#b9bde6"/>
<rect x="573.62" y="391.60" width="8.75" height="9.00" fill="#b3e0c9"/>
<rect x="582.07" y="391.60" width="8.75" height="9.00" fill="#b3e0c9"/>
<rect x="590.52" y="391.60" width="8.75" height="9.00" fill="#c9c7ca"/>
<text transform="translate(400.40,399.80) scale(0.97,1)" font-size="11.2" font-weight="bold" text-anchor="middle" fill="#231f20">B</text>
<text transform="translate(408.85,399.80) scale(0.97,1)" font-size="11.2" font-weight="bold" text-anchor="middle" fill="#231f20">T</text>
<text transform="translate(417.30,399.80) scale(0.97,1)" font-size="11.2" font-weight="bold" text-anchor="middle" fill="#231f20">G</text>
<text transform="translate(425.75,399.80) scale(0.97,1)" font-size="11.2" font-weight="bold" text-anchor="middle" fill="#231f20">A</text>
<text transform="translate(434.20,399.80) scale(0.97,1)" font-size="11.2" font-weight="bold" text-anchor="middle" fill="#231f20">G</text>
<text transform="translate(442.65,399.80) scale(0.97,1)" font-size="11.2" font-weight="bold" text-anchor="middle" fill="#231f20">G</text>
<text transform="translate(451.10,399.80) scale(0.97,1)" font-size="11.2" font-weight="bold" text-anchor="middle" fill="#231f20">T</text>
<text transform="translate(459.55,399.80) scale(0.97,1)" font-size="11.2" font-weight="bold" text-anchor="middle" fill="#231f20">A</text>
<text transform="translate(468.00,399.80) scale(0.97,1)" font-size="11.2" font-weight="bold" text-anchor="middle" fill="#231f20">G</text>
<text transform="translate(476.45,399.80) scale(0.97,1)" font-size="11.2" font-weight="bold" text-anchor="middle" fill="#231f20">G</text>
<text transform="translate(484.90,399.80) scale(0.97,1)" font-size="11.2" font-weight="bold" text-anchor="middle" fill="#231f20">A</text>
<text transform="translate(493.35,399.80) scale(0.97,1)" font-size="11.2" font-weight="bold" text-anchor="middle" fill="#231f20">G</text>
<text transform="translate(501.80,399.80) scale(0.97,1)" font-size="11.2" font-weight="bold" text-anchor="middle" fill="#231f20">G</text>
<text transform="translate(510.25,399.80) scale(0.97,1)" font-size="11.2" font-weight="bold" text-anchor="middle" fill="#231f20">T</text>
<text transform="translate(518.70,399.80) scale(0.97,1)" font-size="11.2" font-weight="bold" text-anchor="middle" fill="#231f20">T</text>
<text transform="translate(527.15,399.80) scale(0.97,1)" font-size="11.2" font-weight="bold" text-anchor="middle" fill="#231f20">G</text>
<text transform="translate(535.60,399.80) scale(0.97,1)" font-size="11.2" font-weight="bold" text-anchor="middle" fill="#231f20">T</text>
<text transform="translate(544.05,399.80) scale(0.97,1)" font-size="11.2" font-weight="bold" text-anchor="middle" fill="#231f20">A</text>
<text transform="translate(552.50,399.80) scale(0.97,1)" font-size="11.2" font-weight="bold" text-anchor="middle" fill="#231f20">T</text>
<text transform="translate(560.95,399.80) scale(0.97,1)" font-size="11.2" font-weight="bold" text-anchor="middle" fill="#231f20">A</text>
<text transform="translate(569.40,399.80) scale(0.97,1)" font-size="11.2" font-weight="bold" text-anchor="middle" fill="#231f20">G</text>
<text transform="translate(577.85,399.80) scale(0.97,1)" font-size="11.2" font-weight="bold" text-anchor="middle" fill="#231f20">T</text>
<text transform="translate(586.30,399.80) scale(0.97,1)" font-size="11.2" font-weight="bold" text-anchor="middle" fill="#231f20">T</text>
<text transform="translate(594.75,399.80) scale(0.97,1)" font-size="11.2" font-weight="bold" text-anchor="middle" fill="#231f20">B</text>
<polygon points="409.00,569.50 409.00,530.00 418.20,500.00 430.00,476.40 433.60,478.20 443.60,479.10 450.90,435.50 460.00,422.70 464.50,425.50 482.70,434.50 485.50,439.00 492.70,455.50 498.20,457.30 504.50,458.20 507.30,479.10 512.70,483.60 521.10,483.00 527.40,510.70 535.70,521.10 544.10,540.90 552.40,539.90 560.80,544.10 568.10,554.50 571.20,556.60 585.80,559.70 585.80,569.50" fill="#bcbbbd"/>
<line x1="400.40" y1="402.60" x2="400.40" y2="569.50" stroke="rgba(50,50,50,0.42)" stroke-width="0.7" stroke-dasharray="1.2,1.4"/>
<line x1="408.85" y1="402.60" x2="408.85" y2="569.50" stroke="rgba(60,60,60,0.16)" stroke-width="0.7" stroke-dasharray="1.2,1.4"/>
<line x1="417.30" y1="402.60" x2="417.30" y2="569.50" stroke="rgba(50,50,50,0.42)" stroke-width="0.7" stroke-dasharray="1.2,1.4"/>
<line x1="425.75" y1="402.60" x2="425.75" y2="569.50" stroke="rgba(60,60,60,0.16)" stroke-width="0.7" stroke-dasharray="1.2,1.4"/>
<line x1="434.20" y1="402.60" x2="434.20" y2="569.50" stroke="rgba(50,50,50,0.42)" stroke-width="0.7" stroke-dasharray="1.2,1.4"/>
<line x1="442.65" y1="402.60" x2="442.65" y2="569.50" stroke="rgba(60,60,60,0.16)" stroke-width="0.7" stroke-dasharray="1.2,1.4"/>
<line x1="451.10" y1="402.60" x2="451.10" y2="569.50" stroke="rgba(50,50,50,0.42)" stroke-width="0.7" stroke-dasharray="1.2,1.4"/>
<line x1="459.55" y1="402.60" x2="459.55" y2="569.50" stroke="rgba(60,60,60,0.16)" stroke-width="0.7" stroke-dasharray="1.2,1.4"/>
<line x1="468.00" y1="402.60" x2="468.00" y2="569.50" stroke="rgba(50,50,50,0.42)" stroke-width="0.7" stroke-dasharray="1.2,1.4"/>
<line x1="476.45" y1="402.60" x2="476.45" y2="569.50" stroke="rgba(60,60,60,0.16)" stroke-width="0.7" stroke-dasharray="1.2,1.4"/>
<line x1="484.90" y1="402.60" x2="484.90" y2="569.50" stroke="rgba(50,50,50,0.42)" stroke-width="0.7" stroke-dasharray="1.2,1.4"/>
<line x1="493.35" y1="402.60" x2="493.35" y2="569.50" stroke="rgba(60,60,60,0.16)" stroke-width="0.7" stroke-dasharray="1.2,1.4"/>
<line x1="501.80" y1="402.60" x2="501.80" y2="569.50" stroke="rgba(50,50,50,0.42)" stroke-width="0.7" stroke-dasharray="1.2,1.4"/>
<line x1="510.25" y1="402.60" x2="510.25" y2="569.50" stroke="rgba(60,60,60,0.16)" stroke-width="0.7" stroke-dasharray="1.2,1.4"/>
<line x1="518.70" y1="402.60" x2="518.70" y2="569.50" stroke="rgba(50,50,50,0.42)" stroke-width="0.7" stroke-dasharray="1.2,1.4"/>
<line x1="527.15" y1="402.60" x2="527.15" y2="569.50" stroke="rgba(60,60,60,0.16)" stroke-width="0.7" stroke-dasharray="1.2,1.4"/>
<line x1="535.60" y1="402.60" x2="535.60" y2="569.50" stroke="rgba(50,50,50,0.42)" stroke-width="0.7" stroke-dasharray="1.2,1.4"/>
<line x1="544.05" y1="402.60" x2="544.05" y2="569.50" stroke="rgba(60,60,60,0.16)" stroke-width="0.7" stroke-dasharray="1.2,1.4"/>
<line x1="552.50" y1="402.60" x2="552.50" y2="569.50" stroke="rgba(50,50,50,0.42)" stroke-width="0.7" stroke-dasharray="1.2,1.4"/>
<line x1="560.95" y1="402.60" x2="560.95" y2="569.50" stroke="rgba(60,60,60,0.16)" stroke-width="0.7" stroke-dasharray="1.2,1.4"/>
<line x1="569.40" y1="402.60" x2="569.40" y2="569.50" stroke="rgba(50,50,50,0.42)" stroke-width="0.7" stroke-dasharray="1.2,1.4"/>
<line x1="577.85" y1="402.60" x2="577.85" y2="569.50" stroke="rgba(60,60,60,0.16)" stroke-width="0.7" stroke-dasharray="1.2,1.4"/>
<line x1="586.30" y1="402.60" x2="586.30" y2="569.50" stroke="rgba(50,50,50,0.42)" stroke-width="0.7" stroke-dasharray="1.2,1.4"/>
<line x1="594.75" y1="402.60" x2="594.75" y2="569.50" stroke="rgba(60,60,60,0.16)" stroke-width="0.7" stroke-dasharray="1.2,1.4"/>
<line x1="396.60" y1="557.58" x2="599.00" y2="557.58" stroke="rgba(60,60,60,0.16)" stroke-width="0.7" stroke-dasharray="1.4,1.6"/>
<line x1="396.60" y1="545.66" x2="599.00" y2="545.66" stroke="rgba(50,50,50,0.42)" stroke-width="0.7" stroke-dasharray="1.8,1.6"/>
<line x1="396.60" y1="533.74" x2="599.00" y2="533.74" stroke="rgba(60,60,60,0.16)" stroke-width="0.7" stroke-dasharray="1.4,1.6"/>
<line x1="396.60" y1="521.81" x2="599.00" y2="521.81" stroke="rgba(50,50,50,0.42)" stroke-width="0.7" stroke-dasharray="1.8,1.6"/>
<line x1="396.60" y1="509.89" x2="599.00" y2="509.89" stroke="rgba(60,60,60,0.16)" stroke-width="0.7" stroke-dasharray="1.4,1.6"/>
<line x1="396.60" y1="497.97" x2="599.00" y2="497.97" stroke="rgba(50,50,50,0.42)" stroke-width="0.7" stroke-dasharray="1.8,1.6"/>
<line x1="396.60" y1="486.05" x2="599.00" y2="486.05" stroke="rgba(60,60,60,0.16)" stroke-width="0.7" stroke-dasharray="1.4,1.6"/>
<line x1="396.60" y1="474.13" x2="599.00" y2="474.13" stroke="rgba(50,50,50,0.42)" stroke-width="0.7" stroke-dasharray="1.8,1.6"/>
<line x1="396.60" y1="462.21" x2="599.00" y2="462.21" stroke="rgba(60,60,60,0.16)" stroke-width="0.7" stroke-dasharray="1.4,1.6"/>
<line x1="396.60" y1="450.29" x2="599.00" y2="450.29" stroke="rgba(50,50,50,0.42)" stroke-width="0.7" stroke-dasharray="1.8,1.6"/>
<line x1="396.60" y1="438.36" x2="599.00" y2="438.36" stroke="rgba(60,60,60,0.16)" stroke-width="0.7" stroke-dasharray="1.4,1.6"/>
<line x1="396.60" y1="426.44" x2="599.00" y2="426.44" stroke="rgba(50,50,50,0.42)" stroke-width="0.7" stroke-dasharray="1.8,1.6"/>
<line x1="396.60" y1="414.52" x2="599.00" y2="414.52" stroke="rgba(60,60,60,0.16)" stroke-width="0.7" stroke-dasharray="1.4,1.6"/>
<path d="M400.40,502.62 L404.20,515.37 L404.20,550.35 L400.40,554.84 L396.60,550.35 L396.60,515.37 Z" fill="#90d1dd" stroke="#90d1dd" stroke-width="0.5" stroke-linejoin="round"/>
<path d="M400.40,507.26 L403.59,518.47 L403.59,549.26 L400.40,553.21 L397.21,549.26 L397.21,518.47 Z" fill="#78c9d9" stroke="#78c9d9" stroke-width="0.5" stroke-linejoin="round"/>
<path d="M400.40,515.75 L402.76,528.50 L402.76,545.73 L400.40,550.22 L398.04,545.73 L398.04,528.50 Z" fill="#63b27c" stroke="#63b27c" stroke-width="0.5" stroke-linejoin="round"/>
<path d="M400.40,523.86 L402.11,532.56 L402.11,544.30 L400.40,547.36 L398.69,544.30 L398.69,532.56 Z" fill="#5aae48" stroke="#5aae48" stroke-width="0.5" stroke-linejoin="round"/>
<path d="M408.85,482.83 L412.90,488.69 L412.90,511.78 L408.85,517.28 L404.80,511.78 L404.80,488.69 Z" fill="#90d1dd" stroke="#90d1dd" stroke-width="0.5" stroke-linejoin="round"/>
<path d="M408.85,484.96 L412.25,490.12 L412.25,510.43 L408.85,515.28 L405.45,510.43 L405.45,490.12 Z" fill="#78c9d9" stroke="#78c9d9" stroke-width="0.5" stroke-linejoin="round"/>
<path d="M408.85,488.87 L411.36,494.73 L411.36,506.10 L408.85,511.61 L406.34,506.10 L406.34,494.73 Z" fill="#63b27c" stroke="#63b27c" stroke-width="0.5" stroke-linejoin="round"/>
<path d="M408.85,491.00 L410.83,495.80 L410.83,505.10 L408.85,509.61 L406.87,505.10 L406.87,495.80 Z" fill="#5aae48" stroke="#5aae48" stroke-width="0.5" stroke-linejoin="round"/>
<path d="M408.85,493.13 L410.31,496.86 L410.31,504.10 L408.85,507.60 L407.39,504.10 L407.39,496.86 Z" fill="#e8de4e" stroke="#e8de4e" stroke-width="0.5" stroke-linejoin="round"/>
<path d="M417.30,415.95 L421.35,421.50 L421.35,446.74 L417.30,453.62 L413.25,446.74 L413.25,421.50 Z" fill="#90d1dd" stroke="#90d1dd" stroke-width="0.5" stroke-linejoin="round"/>
<path d="M417.30,417.97 L420.70,422.85 L420.70,445.06 L417.30,451.12 L413.90,445.06 L413.90,422.85 Z" fill="#78c9d9" stroke="#78c9d9" stroke-width="0.5" stroke-linejoin="round"/>
<path d="M417.30,421.67 L419.81,427.21 L419.81,439.65 L417.30,446.53 L414.79,439.65 L414.79,427.21 Z" fill="#63b27c" stroke="#63b27c" stroke-width="0.5" stroke-linejoin="round"/>
<path d="M417.30,423.68 L419.28,428.22 L419.28,438.39 L417.30,444.03 L415.32,438.39 L415.32,428.22 Z" fill="#5aae48" stroke="#5aae48" stroke-width="0.5" stroke-linejoin="round"/>
<path d="M417.30,425.70 L418.76,429.23 L418.76,437.14 L417.30,441.52 L415.84,437.14 L415.84,429.23 Z" fill="#e8de4e" stroke="#e8de4e" stroke-width="0.5" stroke-linejoin="round"/>
<path d="M425.75,451.48 L429.80,456.67 L429.80,477.68 L425.75,482.83 L421.70,477.68 L421.70,456.67 Z" fill="#90d1dd" stroke="#90d1dd" stroke-width="0.5" stroke-linejoin="round"/>
<path d="M425.75,453.37 L429.15,457.94 L429.15,476.42 L425.75,480.96 L422.35,476.42 L422.35,457.94 Z" fill="#78c9d9" stroke="#78c9d9" stroke-width="0.5" stroke-linejoin="round"/>
<path d="M425.75,456.83 L428.26,462.02 L428.26,472.37 L425.75,477.52 L423.24,472.37 L423.24,462.02 Z" fill="#63b27c" stroke="#63b27c" stroke-width="0.5" stroke-linejoin="round"/>
<path d="M425.75,458.91 L427.75,463.06 L427.75,471.33 L425.75,475.45 L423.75,471.33 L423.75,463.06 Z" fill="#5aae48" stroke="#5aae48" stroke-width="0.5" stroke-linejoin="round"/>
<path d="M425.75,461.00 L427.25,464.11 L427.25,470.30 L425.75,473.38 L424.25,470.30 L424.25,464.11 Z" fill="#e8de4e" stroke="#e8de4e" stroke-width="0.5" stroke-linejoin="round"/>
<path d="M425.75,463.08 L426.74,465.15 L426.74,469.26 L425.75,471.31 L424.76,469.26 L424.76,465.15 Z" fill="#ef7d35" stroke="#ef7d35" stroke-width="0.5" stroke-linejoin="round"/>
<path d="M425.75,465.17 L426.24,466.19 L426.24,468.23 L425.75,469.24 L425.26,468.23 L425.26,466.19 Z" fill="#e2392d" stroke="#e2392d" stroke-width="0.5" stroke-linejoin="round"/>
<path d="M434.20,415.95 L438.25,421.81 L438.25,444.90 L434.20,450.40 L430.15,444.90 L430.15,421.81 Z" fill="#90d1dd" stroke="#90d1dd" stroke-width="0.5" stroke-linejoin="round"/>
<path d="M434.20,418.08 L437.60,423.24 L437.60,443.56 L434.20,448.40 L430.80,443.56 L430.80,423.24 Z" fill="#78c9d9" stroke="#78c9d9" stroke-width="0.5" stroke-linejoin="round"/>
<path d="M434.20,421.99 L436.71,427.85 L436.71,439.22 L434.20,444.73 L431.69,439.22 L431.69,427.85 Z" fill="#63b27c" stroke="#63b27c" stroke-width="0.5" stroke-linejoin="round"/>
<path d="M434.20,424.72 L436.10,429.21 L436.10,437.94 L434.20,442.17 L432.30,437.94 L432.30,429.21 Z" fill="#5aae48" stroke="#5aae48" stroke-width="0.5" stroke-linejoin="round"/>
<path d="M434.20,427.44 L435.50,430.58 L435.50,436.66 L434.20,439.61 L432.90,436.66 L432.90,430.58 Z" fill="#e8de4e" stroke="#e8de4e" stroke-width="0.5" stroke-linejoin="round"/>
<path d="M434.20,430.16 L434.89,431.94 L434.89,435.38 L434.20,437.05 L433.51,435.38 L433.51,431.94 Z" fill="#ef7d35" stroke="#ef7d35" stroke-width="0.5" stroke-linejoin="round"/>
<path d="M442.65,415.00 L446.70,420.51 L446.70,442.15 L442.65,447.31 L438.60,442.15 L438.60,420.51 Z" fill="#90d1dd" stroke="#90d1dd" stroke-width="0.5" stroke-linejoin="round"/>
<path d="M442.65,417.00 L446.05,421.85 L446.05,440.90 L442.65,445.43 L439.25,440.90 L439.25,421.85 Z" fill="#78c9d9" stroke="#78c9d9" stroke-width="0.5" stroke-linejoin="round"/>
<path d="M442.65,420.67 L445.16,426.18 L445.16,436.84 L442.65,442.00 L440.14,436.84 L440.14,426.18 Z" fill="#63b27c" stroke="#63b27c" stroke-width="0.5" stroke-linejoin="round"/>
<path d="M442.65,422.88 L444.65,427.29 L444.65,435.81 L442.65,439.93 L440.65,435.81 L440.65,427.29 Z" fill="#5aae48" stroke="#5aae48" stroke-width="0.5" stroke-linejoin="round"/>
<path d="M442.65,425.10 L444.15,428.39 L444.15,434.77 L442.65,437.86 L441.15,434.77 L441.15,428.39 Z" fill="#e8de4e" stroke="#e8de4e" stroke-width="0.5" stroke-linejoin="round"/>
<path d="M442.65,427.31 L443.64,429.50 L443.64,433.74 L442.65,435.79 L441.66,433.74 L441.66,429.50 Z" fill="#ef7d35" stroke="#ef7d35" stroke-width="0.5" stroke-linejoin="round"/>
<path d="M442.65,429.52 L443.14,430.60 L443.14,432.70 L442.65,433.72 L442.16,432.70 L442.16,430.60 Z" fill="#e2392d" stroke="#e2392d" stroke-width="0.5" stroke-linejoin="round"/>
<path d="M451.10,476.51 L455.15,483.40 L455.15,514.23 L451.10,522.53 L447.05,514.23 L447.05,483.40 Z" fill="#90d1dd" stroke="#90d1dd" stroke-width="0.5" stroke-linejoin="round"/>
<path d="M451.10,479.02 L454.50,485.07 L454.50,512.21 L451.10,519.51 L447.70,512.21 L447.70,485.07 Z" fill="#78c9d9" stroke="#78c9d9" stroke-width="0.5" stroke-linejoin="round"/>
<path d="M451.10,483.61 L453.61,490.49 L453.61,505.68 L451.10,513.98 L448.59,505.68 L448.59,490.49 Z" fill="#63b27c" stroke="#63b27c" stroke-width="0.5" stroke-linejoin="round"/>
<path d="M451.10,486.11 L453.08,491.74 L453.08,504.17 L451.10,510.96 L449.12,504.17 L449.12,491.74 Z" fill="#5aae48" stroke="#5aae48" stroke-width="0.5" stroke-linejoin="round"/>
<path d="M451.10,488.61 L452.56,492.99 L452.56,502.66 L451.10,507.94 L449.64,502.66 L449.64,492.99 Z" fill="#e8de4e" stroke="#e8de4e" stroke-width="0.5" stroke-linejoin="round"/>
<path d="M459.55,451.48 L463.60,456.67 L463.60,477.68 L459.55,482.83 L455.50,477.68 L455.50,456.67 Z" fill="#90d1dd" stroke="#90d1dd" stroke-width="0.5" stroke-linejoin="round"/>
<path d="M459.55,453.37 L462.95,457.94 L462.95,476.42 L459.55,480.96 L456.15,476.42 L456.15,457.94 Z" fill="#78c9d9" stroke="#78c9d9" stroke-width="0.5" stroke-linejoin="round"/>
<path d="M459.55,456.83 L462.06,462.02 L462.06,472.37 L459.55,477.52 L457.04,472.37 L457.04,462.02 Z" fill="#63b27c" stroke="#63b27c" stroke-width="0.5" stroke-linejoin="round"/>
<path d="M459.55,459.24 L461.45,463.23 L461.45,471.17 L459.55,475.13 L457.65,471.17 L457.65,463.23 Z" fill="#5aae48" stroke="#5aae48" stroke-width="0.5" stroke-linejoin="round"/>
<path d="M459.55,461.65 L460.85,464.43 L460.85,469.97 L459.55,472.73 L458.25,469.97 L458.25,464.43 Z" fill="#e8de4e" stroke="#e8de4e" stroke-width="0.5" stroke-linejoin="round"/>
<path d="M459.55,464.07 L460.24,465.64 L460.24,468.78 L459.55,470.34 L458.86,468.78 L458.86,465.64 Z" fill="#ef7d35" stroke="#ef7d35" stroke-width="0.5" stroke-linejoin="round"/>
<path d="M468.00,417.02 L472.05,422.22 L472.05,443.22 L468.00,448.38 L463.95,443.22 L463.95,422.22 Z" fill="#90d1dd" stroke="#90d1dd" stroke-width="0.5" stroke-linejoin="round"/>
<path d="M468.00,418.91 L471.40,423.48 L471.40,441.97 L468.00,446.50 L464.60,441.97 L464.60,423.48 Z" fill="#78c9d9" stroke="#78c9d9" stroke-width="0.5" stroke-linejoin="round"/>
<path d="M468.00,422.38 L470.51,427.57 L470.51,437.91 L468.00,443.07 L465.49,437.91 L465.49,427.57 Z" fill="#63b27c" stroke="#63b27c" stroke-width="0.5" stroke-linejoin="round"/>
<path d="M468.00,424.26 L469.98,428.51 L469.98,436.98 L468.00,441.19 L466.02,436.98 L466.02,428.51 Z" fill="#5aae48" stroke="#5aae48" stroke-width="0.5" stroke-linejoin="round"/>
<path d="M468.00,426.15 L469.46,429.46 L469.46,436.04 L468.00,439.32 L466.54,436.04 L466.54,429.46 Z" fill="#e8de4e" stroke="#e8de4e" stroke-width="0.5" stroke-linejoin="round"/>
<path d="M476.45,417.02 L480.50,421.86 L480.50,442.87 L476.45,448.38 L472.40,442.87 L472.40,421.86 Z" fill="#90d1dd" stroke="#90d1dd" stroke-width="0.5" stroke-linejoin="round"/>
<path d="M476.45,418.78 L479.85,423.04 L479.85,441.53 L476.45,446.38 L473.05,441.53 L473.05,423.04 Z" fill="#78c9d9" stroke="#78c9d9" stroke-width="0.5" stroke-linejoin="round"/>
<path d="M476.45,422.01 L478.96,426.85 L478.96,437.20 L476.45,442.70 L473.94,437.20 L473.94,426.85 Z" fill="#63b27c" stroke="#63b27c" stroke-width="0.5" stroke-linejoin="round"/>
<path d="M476.45,423.95 L478.45,427.82 L478.45,436.09 L476.45,440.49 L474.45,436.09 L474.45,427.82 Z" fill="#5aae48" stroke="#5aae48" stroke-width="0.5" stroke-linejoin="round"/>
<path d="M476.45,425.90 L477.95,428.79 L477.95,434.98 L476.45,438.28 L474.95,434.98 L474.95,428.79 Z" fill="#e8de4e" stroke="#e8de4e" stroke-width="0.5" stroke-linejoin="round"/>
<path d="M476.45,427.84 L477.44,429.76 L477.44,433.88 L476.45,436.07 L475.46,433.88 L475.46,429.76 Z" fill="#ef7d35" stroke="#ef7d35" stroke-width="0.5" stroke-linejoin="round"/>
<path d="M476.45,429.78 L476.94,430.74 L476.94,432.77 L476.45,433.86 L475.96,432.77 L475.96,430.74 Z" fill="#e2392d" stroke="#e2392d" stroke-width="0.5" stroke-linejoin="round"/>
<path d="M484.90,445.28 L488.95,452.52 L488.95,479.75 L484.90,485.93 L480.85,479.75 L480.85,452.52 Z" fill="#90d1dd" stroke="#90d1dd" stroke-width="0.5" stroke-linejoin="round"/>
<path d="M484.90,447.91 L488.30,454.28 L488.30,478.25 L484.90,483.68 L481.50,478.25 L481.50,454.28 Z" fill="#78c9d9" stroke="#78c9d9" stroke-width="0.5" stroke-linejoin="round"/>
<path d="M484.90,452.74 L487.41,459.98 L487.41,473.39 L484.90,479.57 L482.39,473.39 L482.39,459.98 Z" fill="#63b27c" stroke="#63b27c" stroke-width="0.5" stroke-linejoin="round"/>
<path d="M484.90,455.37 L486.88,461.29 L486.88,472.27 L484.90,477.32 L482.92,472.27 L482.92,461.29 Z" fill="#5aae48" stroke="#5aae48" stroke-width="0.5" stroke-linejoin="round"/>
<path d="M484.90,458.00 L486.36,462.61 L486.36,471.14 L484.90,475.08 L483.44,471.14 L483.44,462.61 Z" fill="#e8de4e" stroke="#e8de4e" stroke-width="0.5" stroke-linejoin="round"/>
<path d="M493.35,423.34 L497.40,426.45 L497.40,447.38 L493.35,454.58 L489.30,447.38 L489.30,426.45 Z" fill="#90d1dd" stroke="#90d1dd" stroke-width="0.5" stroke-linejoin="round"/>
<path d="M493.35,424.47 L496.75,427.21 L496.75,445.62 L493.35,451.96 L489.95,445.62 L489.95,427.21 Z" fill="#78c9d9" stroke="#78c9d9" stroke-width="0.5" stroke-linejoin="round"/>
<path d="M493.35,426.55 L495.86,429.65 L495.86,439.96 L493.35,447.16 L490.84,439.96 L490.84,429.65 Z" fill="#63b27c" stroke="#63b27c" stroke-width="0.5" stroke-linejoin="round"/>
<path d="M493.35,427.79 L495.35,430.28 L495.35,438.52 L493.35,444.27 L491.35,438.52 L491.35,430.28 Z" fill="#5aae48" stroke="#5aae48" stroke-width="0.5" stroke-linejoin="round"/>
<path d="M493.35,429.04 L494.85,430.90 L494.85,437.07 L493.35,441.38 L491.85,437.07 L491.85,430.90 Z" fill="#e8de4e" stroke="#e8de4e" stroke-width="0.5" stroke-linejoin="round"/>
<path d="M493.35,430.29 L494.34,431.53 L494.34,435.62 L493.35,438.49 L492.36,435.62 L492.36,431.53 Z" fill="#ef7d35" stroke="#ef7d35" stroke-width="0.5" stroke-linejoin="round"/>
<path d="M493.35,431.54 L493.84,432.15 L493.84,434.18 L493.35,435.60 L492.86,434.18 L492.86,432.15 Z" fill="#e2392d" stroke="#e2392d" stroke-width="0.5" stroke-linejoin="round"/>
<path d="M493.35,412.14 L495.15,413.03 L495.15,414.82 L493.35,415.71 L491.55,414.82 L491.55,413.03 Z" fill="#90d1dd" stroke="#90d1dd" stroke-width="0.5" stroke-linejoin="round"/>
<path d="M493.35,412.35 L494.86,413.14 L494.86,414.71 L493.35,415.50 L491.84,414.71 L491.84,413.14 Z" fill="#78c9d9" stroke="#78c9d9" stroke-width="0.5" stroke-linejoin="round"/>
<path d="M501.80,415.95 L505.85,422.88 L505.85,444.60 L501.80,448.38 L497.75,444.60 L497.75,422.88 Z" fill="#90d1dd" stroke="#90d1dd" stroke-width="0.5" stroke-linejoin="round"/>
<path d="M501.80,418.47 L505.20,424.56 L505.20,443.68 L501.80,447.00 L498.40,443.68 L498.40,424.56 Z" fill="#78c9d9" stroke="#78c9d9" stroke-width="0.5" stroke-linejoin="round"/>
<path d="M501.80,423.09 L504.31,430.01 L504.31,440.71 L501.80,444.49 L499.29,440.71 L499.29,430.01 Z" fill="#63b27c" stroke="#63b27c" stroke-width="0.5" stroke-linejoin="round"/>
<path d="M501.80,425.60 L503.78,431.27 L503.78,440.02 L501.80,443.11 L499.82,440.02 L499.82,431.27 Z" fill="#5aae48" stroke="#5aae48" stroke-width="0.5" stroke-linejoin="round"/>
<path d="M501.80,428.12 L503.26,432.53 L503.26,439.34 L501.80,441.74 L500.34,439.34 L500.34,432.53 Z" fill="#e8de4e" stroke="#e8de4e" stroke-width="0.5" stroke-linejoin="round"/>
<path d="M510.25,481.76 L514.30,486.60 L514.30,510.40 L510.25,517.28 L506.20,510.40 L506.20,486.60 Z" fill="#90d1dd" stroke="#90d1dd" stroke-width="0.5" stroke-linejoin="round"/>
<path d="M510.25,483.52 L513.65,487.78 L513.65,508.72 L510.25,514.78 L506.85,508.72 L506.85,487.78 Z" fill="#78c9d9" stroke="#78c9d9" stroke-width="0.5" stroke-linejoin="round"/>
<path d="M510.25,486.74 L512.76,491.58 L512.76,503.31 L510.25,510.19 L507.74,503.31 L507.74,491.58 Z" fill="#63b27c" stroke="#63b27c" stroke-width="0.5" stroke-linejoin="round"/>
<path d="M510.25,488.50 L512.23,492.46 L512.23,502.05 L510.25,507.69 L508.27,502.05 L508.27,492.46 Z" fill="#5aae48" stroke="#5aae48" stroke-width="0.5" stroke-linejoin="round"/>
<path d="M510.25,490.26 L511.71,493.34 L511.71,500.80 L510.25,505.18 L508.79,500.80 L508.79,493.34 Z" fill="#e8de4e" stroke="#e8de4e" stroke-width="0.5" stroke-linejoin="round"/>
<path d="M518.70,474.49 L522.75,481.72 L522.75,511.76 L518.70,519.31 L514.65,511.76 L514.65,481.72 Z" fill="#90d1dd" stroke="#90d1dd" stroke-width="0.5" stroke-linejoin="round"/>
<path d="M518.70,477.12 L522.10,483.49 L522.10,509.92 L518.70,516.56 L515.30,509.92 L515.30,483.49 Z" fill="#78c9d9" stroke="#78c9d9" stroke-width="0.5" stroke-linejoin="round"/>
<path d="M518.70,481.94 L521.21,489.18 L521.21,503.98 L518.70,511.53 L516.19,503.98 L516.19,489.18 Z" fill="#63b27c" stroke="#63b27c" stroke-width="0.5" stroke-linejoin="round"/>
<path d="M518.70,484.58 L520.68,490.50 L520.68,502.60 L518.70,508.78 L516.72,502.60 L516.72,490.50 Z" fill="#5aae48" stroke="#5aae48" stroke-width="0.5" stroke-linejoin="round"/>
<path d="M518.70,487.21 L520.16,491.82 L520.16,501.23 L518.70,506.04 L517.24,501.23 L517.24,491.82 Z" fill="#e8de4e" stroke="#e8de4e" stroke-width="0.5" stroke-linejoin="round"/>
<path d="M527.15,421.20 L531.20,427.06 L531.20,452.94 L527.15,459.82 L523.10,452.94 L523.10,427.06 Z" fill="#90d1dd" stroke="#90d1dd" stroke-width="0.5" stroke-linejoin="round"/>
<path d="M527.15,423.33 L530.55,428.49 L530.55,451.26 L527.15,457.32 L523.75,451.26 L523.75,428.49 Z" fill="#78c9d9" stroke="#78c9d9" stroke-width="0.5" stroke-linejoin="round"/>
<path d="M527.15,427.24 L529.66,433.10 L529.66,445.84 L527.15,452.73 L524.64,445.84 L524.64,433.10 Z" fill="#63b27c" stroke="#63b27c" stroke-width="0.5" stroke-linejoin="round"/>
<path d="M527.15,429.96 L529.05,434.46 L529.05,444.25 L527.15,449.53 L525.25,444.25 L525.25,434.46 Z" fill="#5aae48" stroke="#5aae48" stroke-width="0.5" stroke-linejoin="round"/>
<path d="M527.15,432.68 L528.45,435.82 L528.45,442.65 L527.15,446.33 L525.85,442.65 L525.85,435.82 Z" fill="#e8de4e" stroke="#e8de4e" stroke-width="0.5" stroke-linejoin="round"/>
<path d="M527.15,435.41 L527.84,437.18 L527.84,441.05 L527.15,443.13 L526.46,441.05 L526.46,437.18 Z" fill="#ef7d35" stroke="#ef7d35" stroke-width="0.5" stroke-linejoin="round"/>
<path d="M535.60,481.76 L539.65,487.27 L539.65,513.86 L535.60,521.46 L531.55,513.86 L531.55,487.27 Z" fill="#90d1dd" stroke="#90d1dd" stroke-width="0.5" stroke-linejoin="round"/>
<path d="M535.60,483.76 L539.00,488.61 L539.00,512.01 L535.60,518.70 L532.20,512.01 L532.20,488.61 Z" fill="#78c9d9" stroke="#78c9d9" stroke-width="0.5" stroke-linejoin="round"/>
<path d="M535.60,487.43 L538.11,492.94 L538.11,506.04 L535.60,513.63 L533.09,506.04 L533.09,492.94 Z" fill="#63b27c" stroke="#63b27c" stroke-width="0.5" stroke-linejoin="round"/>
<path d="M535.60,489.44 L537.58,493.94 L537.58,504.66 L535.60,510.87 L533.62,504.66 L533.62,493.94 Z" fill="#5aae48" stroke="#5aae48" stroke-width="0.5" stroke-linejoin="round"/>
<path d="M535.60,491.44 L537.06,494.94 L537.06,503.28 L535.60,508.11 L534.14,503.28 L534.14,494.94 Z" fill="#e8de4e" stroke="#e8de4e" stroke-width="0.5" stroke-linejoin="round"/>
<path d="M544.05,457.80 L548.10,461.22 L548.10,482.86 L544.05,490.10 L540.00,482.86 L540.00,461.22 Z" fill="#90d1dd" stroke="#90d1dd" stroke-width="0.5" stroke-linejoin="round"/>
<path d="M544.05,459.04 L547.45,462.05 L547.45,481.10 L544.05,487.47 L540.65,481.10 L540.65,462.05 Z" fill="#78c9d9" stroke="#78c9d9" stroke-width="0.5" stroke-linejoin="round"/>
<path d="M544.05,461.32 L546.56,464.75 L546.56,475.41 L544.05,482.65 L541.54,475.41 L541.54,464.75 Z" fill="#63b27c" stroke="#63b27c" stroke-width="0.5" stroke-linejoin="round"/>
<path d="M544.05,462.57 L546.03,465.37 L546.03,474.09 L544.05,480.01 L542.07,474.09 L542.07,465.37 Z" fill="#5aae48" stroke="#5aae48" stroke-width="0.5" stroke-linejoin="round"/>
<path d="M544.05,463.81 L545.51,465.99 L545.51,472.77 L544.05,477.38 L542.59,472.77 L542.59,465.99 Z" fill="#e8de4e" stroke="#e8de4e" stroke-width="0.5" stroke-linejoin="round"/>
<path d="M544.05,447.31 L545.85,448.38 L545.85,450.46 L544.05,451.48 L542.25,450.46 L542.25,448.38 Z" fill="#90d1dd" stroke="#90d1dd" stroke-width="0.5" stroke-linejoin="round"/>
<path d="M544.05,447.56 L545.56,448.51 L545.56,450.34 L544.05,451.23 L542.54,450.34 L542.54,448.51 Z" fill="#78c9d9" stroke="#78c9d9" stroke-width="0.5" stroke-linejoin="round"/>
<path d="M544.05,507.75 L545.85,508.82 L545.85,510.97 L544.05,512.04 L542.25,510.97 L542.25,508.82 Z" fill="#90d1dd" stroke="#90d1dd" stroke-width="0.5" stroke-linejoin="round"/>
<path d="M544.05,508.00 L545.56,508.95 L545.56,510.84 L544.05,511.78 L542.54,510.84 L542.54,508.95 Z" fill="#78c9d9" stroke="#78c9d9" stroke-width="0.5" stroke-linejoin="round"/>
<path d="M552.50,482.83 L556.55,489.72 L556.55,515.59 L552.50,521.46 L548.45,515.59 L548.45,489.72 Z" fill="#90d1dd" stroke="#90d1dd" stroke-width="0.5" stroke-linejoin="round"/>
<path d="M552.50,485.33 L555.90,491.39 L555.90,514.17 L552.50,519.33 L549.10,514.17 L549.10,491.39 Z" fill="#78c9d9" stroke="#78c9d9" stroke-width="0.5" stroke-linejoin="round"/>
<path d="M552.50,489.92 L555.01,496.81 L555.01,509.56 L552.50,515.42 L549.99,509.56 L549.99,496.81 Z" fill="#63b27c" stroke="#63b27c" stroke-width="0.5" stroke-linejoin="round"/>
<path d="M552.50,492.69 L554.50,498.19 L554.50,508.38 L552.50,513.06 L550.50,508.38 L550.50,498.19 Z" fill="#5aae48" stroke="#5aae48" stroke-width="0.5" stroke-linejoin="round"/>
<path d="M552.50,495.45 L554.00,499.57 L554.00,507.20 L552.50,510.71 L551.00,507.20 L551.00,499.57 Z" fill="#e8de4e" stroke="#e8de4e" stroke-width="0.5" stroke-linejoin="round"/>
<path d="M552.50,498.22 L553.49,500.96 L553.49,506.03 L552.50,508.36 L551.51,506.03 L551.51,500.96 Z" fill="#ef7d35" stroke="#ef7d35" stroke-width="0.5" stroke-linejoin="round"/>
<path d="M552.50,500.98 L552.99,502.34 L552.99,504.85 L552.50,506.00 L552.01,504.85 L552.01,502.34 Z" fill="#e2392d" stroke="#e2392d" stroke-width="0.5" stroke-linejoin="round"/>
<path d="M560.95,447.31 L565.00,453.52 L565.00,486.43 L560.95,496.42 L556.90,486.43 L556.90,453.52 Z" fill="#90d1dd" stroke="#90d1dd" stroke-width="0.5" stroke-linejoin="round"/>
<path d="M560.95,449.57 L564.35,455.04 L564.35,483.99 L560.95,492.79 L557.55,483.99 L557.55,455.04 Z" fill="#78c9d9" stroke="#78c9d9" stroke-width="0.5" stroke-linejoin="round"/>
<path d="M560.95,453.71 L563.46,459.93 L563.46,476.13 L560.95,486.13 L558.44,476.13 L558.44,459.93 Z" fill="#63b27c" stroke="#63b27c" stroke-width="0.5" stroke-linejoin="round"/>
<path d="M560.95,456.60 L562.85,461.37 L562.85,473.81 L560.95,481.48 L559.05,473.81 L559.05,461.37 Z" fill="#5aae48" stroke="#5aae48" stroke-width="0.5" stroke-linejoin="round"/>
<path d="M560.95,459.49 L562.25,462.81 L562.25,471.49 L560.95,476.84 L559.65,471.49 L559.65,462.81 Z" fill="#e8de4e" stroke="#e8de4e" stroke-width="0.5" stroke-linejoin="round"/>
<path d="M560.95,462.37 L561.64,464.26 L561.64,469.17 L560.95,472.20 L560.26,469.17 L560.26,464.26 Z" fill="#ef7d35" stroke="#ef7d35" stroke-width="0.5" stroke-linejoin="round"/>
<path d="M569.40,417.02 L573.45,422.22 L573.45,443.22 L569.40,448.38 L565.35,443.22 L565.35,422.22 Z" fill="#90d1dd" stroke="#90d1dd" stroke-width="0.5" stroke-linejoin="round"/>
<path d="M569.40,418.91 L572.80,423.48 L572.80,441.97 L569.40,446.50 L566.00,441.97 L566.00,423.48 Z" fill="#78c9d9" stroke="#78c9d9" stroke-width="0.5" stroke-linejoin="round"/>
<path d="M569.40,422.38 L571.91,427.57 L571.91,437.91 L569.40,443.07 L566.89,437.91 L566.89,427.57 Z" fill="#63b27c" stroke="#63b27c" stroke-width="0.5" stroke-linejoin="round"/>
<path d="M569.40,424.46 L571.40,428.61 L571.40,436.88 L569.40,441.00 L567.40,436.88 L567.40,428.61 Z" fill="#5aae48" stroke="#5aae48" stroke-width="0.5" stroke-linejoin="round"/>
<path d="M569.40,426.55 L570.90,429.65 L570.90,435.85 L569.40,438.93 L567.90,435.85 L567.90,429.65 Z" fill="#e8de4e" stroke="#e8de4e" stroke-width="0.5" stroke-linejoin="round"/>
<path d="M569.40,428.63 L570.39,430.70 L570.39,434.81 L569.40,436.86 L568.41,434.81 L568.41,430.70 Z" fill="#ef7d35" stroke="#ef7d35" stroke-width="0.5" stroke-linejoin="round"/>
<path d="M569.40,430.72 L569.89,431.74 L569.89,433.78 L569.40,434.79 L568.91,433.78 L568.91,431.74 Z" fill="#e2392d" stroke="#e2392d" stroke-width="0.5" stroke-linejoin="round"/>
<path d="M577.85,498.45 L581.90,500.85 L581.90,512.03 L577.85,515.14 L573.80,512.03 L573.80,500.85 Z" fill="#90d1dd" stroke="#90d1dd" stroke-width="0.5" stroke-linejoin="round"/>
<path d="M577.85,499.32 L581.25,501.43 L581.25,511.27 L577.85,514.01 L574.45,511.27 L574.45,501.43 Z" fill="#78c9d9" stroke="#78c9d9" stroke-width="0.5" stroke-linejoin="round"/>
<path d="M577.85,500.92 L580.36,503.32 L580.36,508.83 L577.85,511.94 L575.34,508.83 L575.34,503.32 Z" fill="#63b27c" stroke="#63b27c" stroke-width="0.5" stroke-linejoin="round"/>
<path d="M577.85,501.36 L580.16,503.54 L580.16,508.55 L577.85,511.37 L575.54,508.55 L575.54,503.54 Z" fill="#5aae48" stroke="#5aae48" stroke-width="0.5" stroke-linejoin="round"/>
<path d="M577.85,501.79 L579.96,503.76 L579.96,508.26 L577.85,510.81 L575.74,508.26 L575.74,503.76 Z" fill="#e8de4e" stroke="#e8de4e" stroke-width="0.5" stroke-linejoin="round"/>
<path d="M577.85,502.23 L579.75,503.98 L579.75,507.98 L577.85,510.24 L575.95,507.98 L575.95,503.98 Z" fill="#ef7d35" stroke="#ef7d35" stroke-width="0.5" stroke-linejoin="round"/>
<path d="M577.85,502.67 L579.55,504.19 L579.55,507.70 L577.85,509.68 L576.15,507.70 L576.15,504.19 Z" fill="#e2392d" stroke="#e2392d" stroke-width="0.5" stroke-linejoin="round"/>
<path d="M577.85,483.67 L580.45,484.86 L580.45,487.24 L577.85,488.43 L575.25,487.24 L575.25,484.86 Z" fill="#90d1dd" stroke="#90d1dd" stroke-width="0.5" stroke-linejoin="round"/>
<path d="M577.85,483.95 L580.03,485.00 L580.03,487.10 L577.85,488.15 L575.67,487.10 L575.67,485.00 Z" fill="#78c9d9" stroke="#78c9d9" stroke-width="0.5" stroke-linejoin="round"/>
<path d="M586.30,488.08 L590.35,493.23 L590.35,511.36 L586.30,515.14 L582.25,511.36 L582.25,493.23 Z" fill="#90d1dd" stroke="#90d1dd" stroke-width="0.5" stroke-linejoin="round"/>
<path d="M586.30,489.95 L589.70,494.49 L589.70,510.44 L586.30,513.76 L582.90,510.44 L582.90,494.49 Z" fill="#78c9d9" stroke="#78c9d9" stroke-width="0.5" stroke-linejoin="round"/>
<path d="M586.30,493.39 L588.81,498.54 L588.81,507.47 L586.30,511.25 L583.79,507.47 L583.79,498.54 Z" fill="#63b27c" stroke="#63b27c" stroke-width="0.5" stroke-linejoin="round"/>
<path d="M586.30,494.32 L588.61,499.01 L588.61,507.13 L586.30,510.56 L583.99,507.13 L583.99,499.01 Z" fill="#5aae48" stroke="#5aae48" stroke-width="0.5" stroke-linejoin="round"/>
<path d="M586.30,495.26 L588.41,499.48 L588.41,506.78 L586.30,509.87 L584.19,506.78 L584.19,499.48 Z" fill="#e8de4e" stroke="#e8de4e" stroke-width="0.5" stroke-linejoin="round"/>
<path d="M586.30,496.20 L588.20,499.95 L588.20,506.44 L586.30,509.19 L584.40,506.44 L584.40,499.95 Z" fill="#ef7d35" stroke="#ef7d35" stroke-width="0.5" stroke-linejoin="round"/>
<path d="M586.30,497.13 L588.00,500.41 L588.00,506.10 L586.30,508.50 L584.60,506.10 L584.60,500.41 Z" fill="#e2392d" stroke="#e2392d" stroke-width="0.5" stroke-linejoin="round"/>
<path d="M594.75,497.38 L598.35,511.50 L598.35,550.72 L594.75,555.91 L591.15,550.72 L591.15,511.50 Z" fill="#90d1dd" stroke="#90d1dd" stroke-width="0.5" stroke-linejoin="round"/>
<path d="M594.75,502.51 L597.77,514.94 L597.77,549.45 L594.75,554.02 L591.73,549.45 L591.73,514.94 Z" fill="#78c9d9" stroke="#78c9d9" stroke-width="0.5" stroke-linejoin="round"/>
<path d="M594.75,511.93 L596.98,526.05 L596.98,545.37 L594.75,550.56 L592.52,545.37 L592.52,526.05 Z" fill="#63b27c" stroke="#63b27c" stroke-width="0.5" stroke-linejoin="round"/>
<path d="M594.75,517.06 L596.51,528.62 L596.51,544.42 L594.75,548.67 L592.99,544.42 L592.99,528.62 Z" fill="#5aae48" stroke="#5aae48" stroke-width="0.5" stroke-linejoin="round"/>
<path d="M594.75,522.20 L596.05,531.19 L596.05,543.48 L594.75,546.78 L593.45,543.48 L593.45,531.19 Z" fill="#e8de4e" stroke="#e8de4e" stroke-width="0.5" stroke-linejoin="round"/>
<line x1="400.40" y1="569.50" x2="400.40" y2="567.30" stroke="#4d4d4d" stroke-width="0.8"/>
<line x1="408.85" y1="569.50" x2="408.85" y2="567.30" stroke="#4d4d4d" stroke-width="0.8"/>
<line x1="417.30" y1="569.50" x2="417.30" y2="567.30" stroke="#4d4d4d" stroke-width="0.8"/>
<line x1="425.75" y1="569.50" x2="425.75" y2="567.30" stroke="#4d4d4d" stroke-width="0.8"/>
<line x1="434.20" y1="569.50" x2="434.20" y2="567.30" stroke="#4d4d4d" stroke-width="0.8"/>
<line x1="442.65" y1="569.50" x2="442.65" y2="567.30" stroke="#4d4d4d" stroke-width="0.8"/>
<line x1="451.10" y1="569.50" x2="451.10" y2="567.30" stroke="#4d4d4d" stroke-width="0.8"/>
<line x1="459.55" y1="569.50" x2="459.55" y2="567.30" stroke="#4d4d4d" stroke-width="0.8"/>
<line x1="468.00" y1="569.50" x2="468.00" y2="567.30" stroke="#4d4d4d" stroke-width="0.8"/>
<line x1="476.45" y1="569.50" x2="476.45" y2="567.30" stroke="#4d4d4d" stroke-width="0.8"/>
<line x1="484.90" y1="569.50" x2="484.90" y2="567.30" stroke="#4d4d4d" stroke-width="0.8"/>
<line x1="493.35" y1="569.50" x2="493.35" y2="567.30" stroke="#4d4d4d" stroke-width="0.8"/>
<line x1="501.80" y1="569.50" x2="501.80" y2="567.30" stroke="#4d4d4d" stroke-width="0.8"/>
<line x1="510.25" y1="569.50" x2="510.25" y2="567.30" stroke="#4d4d4d" stroke-width="0.8"/>
<line x1="518.70" y1="569.50" x2="518.70" y2="567.30" stroke="#4d4d4d" stroke-width="0.8"/>
<line x1="527.15" y1="569.50" x2="527.15" y2="567.30" stroke="#4d4d4d" stroke-width="0.8"/>
<line x1="535.60" y1="569.50" x2="535.60" y2="567.30" stroke="#4d4d4d" stroke-width="0.8"/>
<line x1="544.05" y1="569.50" x2="544.05" y2="567.30" stroke="#4d4d4d" stroke-width="0.8"/>
<line x1="552.50" y1="569.50" x2="552.50" y2="567.30" stroke="#4d4d4d" stroke-width="0.8"/>
<line x1="560.95" y1="569.50" x2="560.95" y2="567.30" stroke="#4d4d4d" stroke-width="0.8"/>
<line x1="569.40" y1="569.50" x2="569.40" y2="567.30" stroke="#4d4d4d" stroke-width="0.8"/>
<line x1="577.85" y1="569.50" x2="577.85" y2="567.30" stroke="#4d4d4d" stroke-width="0.8"/>
<line x1="586.30" y1="569.50" x2="586.30" y2="567.30" stroke="#4d4d4d" stroke-width="0.8"/>
<line x1="594.75" y1="569.50" x2="594.75" y2="567.30" stroke="#4d4d4d" stroke-width="0.8"/>
<line x1="396.60" y1="569.50" x2="400.10" y2="569.50" stroke="#4d4d4d" stroke-width="0.9"/>
<line x1="396.60" y1="557.58" x2="398.60" y2="557.58" stroke="#4d4d4d" stroke-width="0.9"/>
<line x1="396.60" y1="545.66" x2="400.10" y2="545.66" stroke="#4d4d4d" stroke-width="0.9"/>
<line x1="396.60" y1="533.74" x2="398.60" y2="533.74" stroke="#4d4d4d" stroke-width="0.9"/>
<line x1="396.60" y1="521.81" x2="400.10" y2="521.81" stroke="#4d4d4d" stroke-width="0.9"/>
<line x1="396.60" y1="509.89" x2="398.60" y2="509.89" stroke="#4d4d4d" stroke-width="0.9"/>
<line x1="396.60" y1="497.97" x2="400.10" y2="497.97" stroke="#4d4d4d" stroke-width="0.9"/>
<line x1="396.60" y1="486.05" x2="398.60" y2="486.05" stroke="#4d4d4d" stroke-width="0.9"/>
<line x1="396.60" y1="474.13" x2="400.10" y2="474.13" stroke="#4d4d4d" stroke-width="0.9"/>
<line x1="396.60" y1="462.21" x2="398.60" y2="462.21" stroke="#4d4d4d" stroke-width="0.9"/>
<line x1="396.60" y1="450.29" x2="400.10" y2="450.29" stroke="#4d4d4d" stroke-width="0.9"/>
<line x1="396.60" y1="438.36" x2="398.60" y2="438.36" stroke="#4d4d4d" stroke-width="0.9"/>
<line x1="396.60" y1="426.44" x2="400.10" y2="426.44" stroke="#4d4d4d" stroke-width="0.9"/>
<line x1="396.60" y1="414.52" x2="398.60" y2="414.52" stroke="#4d4d4d" stroke-width="0.9"/>
<line x1="396.60" y1="402.60" x2="400.10" y2="402.60" stroke="#4d4d4d" stroke-width="0.9"/>
<line x1="599.00" y1="417.70" x2="596.00" y2="417.70" stroke="#4d4d4d" stroke-width="0.9"/>
<line x1="599.00" y1="439.20" x2="596.00" y2="439.20" stroke="#4d4d4d" stroke-width="0.9"/>
<line x1="599.00" y1="460.70" x2="596.00" y2="460.70" stroke="#4d4d4d" stroke-width="0.9"/>
<line x1="599.00" y1="482.20" x2="596.00" y2="482.20" stroke="#4d4d4d" stroke-width="0.9"/>
<line x1="599.00" y1="503.70" x2="596.00" y2="503.70" stroke="#4d4d4d" stroke-width="0.9"/>
<line x1="599.00" y1="525.20" x2="596.00" y2="525.20" stroke="#4d4d4d" stroke-width="0.9"/>
<line x1="599.00" y1="546.70" x2="596.00" y2="546.70" stroke="#4d4d4d" stroke-width="0.9"/>
<line x1="599.00" y1="428.45" x2="596.00" y2="428.45" stroke="#4d4d4d" stroke-width="0.9"/>
<line x1="599.00" y1="449.95" x2="596.00" y2="449.95" stroke="#4d4d4d" stroke-width="0.9"/>
<line x1="599.00" y1="471.45" x2="596.00" y2="471.45" stroke="#4d4d4d" stroke-width="0.9"/>
<line x1="599.00" y1="492.95" x2="596.00" y2="492.95" stroke="#4d4d4d" stroke-width="0.9"/>
<line x1="599.00" y1="514.45" x2="596.00" y2="514.45" stroke="#4d4d4d" stroke-width="0.9"/>
<line x1="599.00" y1="535.95" x2="596.00" y2="535.95" stroke="#4d4d4d" stroke-width="0.9"/>
<line x1="599.00" y1="557.45" x2="596.00" y2="557.45" stroke="#4d4d4d" stroke-width="0.9"/>
<rect x="396.60" y="402.60" width="202.40" height="166.90" fill="none" stroke="#7d7d7d" stroke-width="1.0"/>
<rect x="471.80" y="380.40" width="10.00" height="190.40" fill="none" stroke="#ef6a3a" stroke-width="1.4"/>
<rect x="497.30" y="380.40" width="10.00" height="190.80" fill="none" stroke="#3f4a9e" stroke-width="1.5" stroke-dasharray="2.3,1.7"/>
<rect x="555.80" y="379.50" width="10.00" height="190.90" fill="none" stroke="#e3338f" stroke-width="1.5" stroke-dasharray="2.3,1.7"/>
<text x="394.40" y="548.46" font-size="10.3" font-weight="bold" text-anchor="end" fill="#231f20">0.0</text>
<text x="394.40" y="524.61" font-size="10.3" font-weight="bold" text-anchor="end" fill="#231f20">0.2</text>
<text x="394.40" y="500.77" font-size="10.3" font-weight="bold" text-anchor="end" fill="#231f20">0.4</text>
<text x="394.40" y="476.93" font-size="10.3" font-weight="bold" text-anchor="end" fill="#231f20">0.6</text>
<text x="394.40" y="453.09" font-size="10.3" font-weight="bold" text-anchor="end" fill="#231f20">0.8</text>
<text x="394.40" y="429.24" font-size="10.3" font-weight="bold" text-anchor="end" fill="#231f20">1.0</text>
<text x="394.40" y="405.40" font-size="10.3" font-weight="bold" text-anchor="end" fill="#231f20">1.2</text>
<rect x="358.50" y="417.10" width="19.30" height="19.30" fill="#b9bde6" stroke="#a9d6e6" stroke-width="0.6"/>
<text x="368.15" y="430.75" font-size="11" font-weight="bold" text-anchor="middle" fill="#231f20">G</text>
<rect x="358.50" y="452.20" width="19.30" height="26.00" fill="#f3b8c4" stroke="#a9d6e6" stroke-width="0.6"/>
<text x="368.15" y="469.20" font-size="11" font-weight="bold" text-anchor="middle" fill="#231f20">A</text>
<rect x="358.50" y="493.00" width="19.30" height="18.00" fill="#b3e0c9" stroke="#a9d6e6" stroke-width="0.6"/>
<text x="368.15" y="506.00" font-size="11" font-weight="bold" text-anchor="middle" fill="#231f20">T</text>
<rect x="358.50" y="526.80" width="19.30" height="18.90" fill="#c9c7ca" stroke="#a9d6e6" stroke-width="0.6"/>
<text x="368.15" y="540.25" font-size="11" font-weight="bold" text-anchor="middle" fill="#231f20">B</text>
<text transform="translate(353.80,482.10) rotate(-90)" font-size="10.65" font-weight="bold" text-anchor="middle" fill="#231f20">Normalized conductance</text>
<text x="601.00" y="421.40" font-size="10.3" font-weight="bold" fill="#231f20">140</text>
<text x="601.00" y="442.90" font-size="10.3" font-weight="bold" fill="#231f20">120</text>
<text x="601.00" y="464.40" font-size="10.3" font-weight="bold" fill="#231f20">100</text>
<text x="601.00" y="485.90" font-size="10.3" font-weight="bold" fill="#231f20">80</text>
<text x="601.00" y="507.40" font-size="10.3" font-weight="bold" fill="#231f20">60</text>
<text x="601.00" y="528.90" font-size="10.3" font-weight="bold" fill="#231f20">40</text>
<text x="601.00" y="550.40" font-size="10.3" font-weight="bold" fill="#231f20">20</text>
<text x="601.00" y="571.90" font-size="10.3" font-weight="bold" fill="#231f20">0</text>
<text transform="translate(617.60,492.50) rotate(90)" font-size="10.6" font-weight="bold" text-anchor="middle" fill="#231f20">Coverage</text>
<text x="401.70" y="582.40" font-size="10.3" font-weight="bold" text-anchor="middle" fill="#231f20">0</text>
<text x="418.66" y="582.40" font-size="10.3" font-weight="bold" text-anchor="middle" fill="#231f20">2</text>
<text x="435.62" y="582.40" font-size="10.3" font-weight="bold" text-anchor="middle" fill="#231f20">4</text>
<text x="452.58" y="582.40" font-size="10.3" font-weight="bold" text-anchor="middle" fill="#231f20">6</text>
<text x="469.54" y="582.40" font-size="10.3" font-weight="bold" text-anchor="middle" fill="#231f20">8</text>
<text x="486.50" y="582.40" font-size="10.3" font-weight="bold" text-anchor="middle" fill="#231f20">10</text>
<text x="503.46" y="582.40" font-size="10.3" font-weight="bold" text-anchor="middle" fill="#231f20">12</text>
<text x="520.42" y="582.40" font-size="10.3" font-weight="bold" text-anchor="middle" fill="#231f20">14</text>
<text x="537.38" y="582.40" font-size="10.3" font-weight="bold" text-anchor="middle" fill="#231f20">16</text>
<text x="554.34" y="582.40" font-size="10.3" font-weight="bold" text-anchor="middle" fill="#231f20">18</text>
<text x="571.30" y="582.40" font-size="10.3" font-weight="bold" text-anchor="middle" fill="#231f20">20</text>
<text x="588.26" y="582.40" font-size="10.3" font-weight="bold" text-anchor="middle" fill="#231f20">22</text>
<text x="505.00" y="594.50" font-size="10.6" font-weight="bold" text-anchor="middle" fill="#231f20">Base Position</text>
<text x="621.80" y="383.30" font-size="10.4" font-weight="bold" fill="#231f20">Ratio</text>
<rect x="621.60" y="390.00" width="7.40" height="7.37" fill="#8fd0dc"/>
<rect x="621.60" y="397.17" width="7.40" height="7.37" fill="#5ebfd5"/>
<rect x="621.60" y="404.34" width="7.40" height="7.37" fill="#62b37a"/>
<rect x="621.60" y="411.51" width="7.40" height="7.37" fill="#5aae48"/>
<rect x="621.60" y="418.69" width="7.40" height="7.37" fill="#e8de4e"/>
<rect x="621.60" y="425.86" width="7.40" height="7.37" fill="#ef7d35"/>
<rect x="621.60" y="433.03" width="7.40" height="7.37" fill="#e2392d"/>
<text transform="translate(629.80,391.40) scale(0.96,1)" font-size="8.7" font-weight="bold" fill="#231f20" class="cbl">0.08</text>
<text transform="translate(629.80,398.57) scale(0.96,1)" font-size="8.7" font-weight="bold" fill="#231f20" class="cbl">0.15</text>
<text transform="translate(629.80,405.74) scale(0.96,1)" font-size="8.7" font-weight="bold" fill="#231f20" class="cbl">0.25</text>
<text transform="translate(629.80,412.91) scale(0.96,1)" font-size="8.7" font-weight="bold" fill="#231f20" class="cbl">0.30</text>
<text transform="translate(629.80,420.09) scale(0.96,1)" font-size="8.7" font-weight="bold" fill="#231f20" class="cbl">0.41</text>
<text transform="translate(629.80,427.26) scale(0.96,1)" font-size="8.7" font-weight="bold" fill="#231f20" class="cbl">0.50</text>
<text transform="translate(629.80,434.43) scale(0.96,1)" font-size="8.7" font-weight="bold" fill="#231f20" class="cbl">0.60</text>
<text transform="translate(629.80,441.60) scale(0.96,1)" font-size="8.7" font-weight="bold" fill="#231f20" class="cbl">0.67</text>
<line x1="402.70" y1="442.50" x2="415.90" y2="442.50" stroke="#111" stroke-width="1.5"/>
<path d="M398.70,442.50 L405.70,438.60 L403.70,442.50 L405.70,446.40 Z" fill="#111"/>
<line x1="579.60" y1="557.60" x2="593.30" y2="557.60" stroke="#111" stroke-width="1.5"/>
<path d="M597.30,557.60 L590.30,553.70 L592.30,557.60 L590.30,561.50 Z" fill="#111"/>
<text x="356.30" y="628.00" font-size="10.7" font-weight="bold" fill="#231f20">(e) let7f</text>
<rect x="409.30" y="645.20" width="8.70" height="9.90" fill="#c9c7ca"/>
<rect x="417.70" y="645.20" width="8.70" height="9.90" fill="#b3e0c9"/>
<rect x="426.10" y="645.20" width="8.70" height="9.90" fill="#b9bde6"/>
<rect x="434.50" y="645.20" width="8.70" height="9.90" fill="#f3b8c4"/>
<rect x="442.90" y="645.20" width="8.70" height="9.90" fill="#b9bde6"/>
<rect x="451.30" y="645.20" width="8.70" height="9.90" fill="#b9bde6"/>
<rect x="459.70" y="645.20" width="8.70" height="9.90" fill="#b3e0c9"/>
<rect x="468.10" y="645.20" width="8.70" height="9.90" fill="#f3b8c4"/>
<rect x="476.50" y="645.20" width="8.70" height="9.90" fill="#b9bde6"/>
<rect x="484.90" y="645.20" width="8.70" height="9.90" fill="#b3e0c9"/>
<rect x="493.30" y="645.20" width="8.70" height="9.90" fill="#f3b8c4"/>
<rect x="501.70" y="645.20" width="8.70" height="9.90" fill="#b9bde6"/>
<rect x="510.10" y="645.20" width="8.70" height="9.90" fill="#f3b8c4"/>
<rect x="518.50" y="645.20" width="8.70" height="9.90" fill="#b3e0c9"/>
<rect x="526.90" y="645.20" width="8.70" height="9.90" fill="#b3e0c9"/>
<rect x="535.30" y="645.20" width="8.70" height="9.90" fill="#b9bde6"/>
<rect x="543.70" y="645.20" width="8.70" height="9.90" fill="#b3e0c9"/>
<rect x="552.10" y="645.20" width="8.70" height="9.90" fill="#f3b8c4"/>
<rect x="560.50" y="645.20" width="8.70" height="9.90" fill="#b3e0c9"/>
<rect x="568.90" y="645.20" width="8.70" height="9.90" fill="#f3b8c4"/>
<rect x="577.30" y="645.20" width="8.70" height="9.90" fill="#b9bde6"/>
<rect x="585.70" y="645.20" width="8.70" height="9.90" fill="#b3e0c9"/>
<rect x="594.10" y="645.20" width="8.70" height="9.90" fill="#b3e0c9"/>
<rect x="602.50" y="645.20" width="8.40" height="9.90" fill="#c9c7ca"/>
<text transform="translate(413.50,654.30) scale(0.97,1)" font-size="11.2" font-weight="bold" text-anchor="middle" fill="#231f20">B</text>
<text transform="translate(421.90,654.30) scale(0.97,1)" font-size="11.2" font-weight="bold" text-anchor="middle" fill="#231f20">T</text>
<text transform="translate(430.30,654.30) scale(0.97,1)" font-size="11.2" font-weight="bold" text-anchor="middle" fill="#231f20">G</text>
<text transform="translate(438.70,654.30) scale(0.97,1)" font-size="11.2" font-weight="bold" text-anchor="middle" fill="#231f20">A</text>
<text transform="translate(447.10,654.30) scale(0.97,1)" font-size="11.2" font-weight="bold" text-anchor="middle" fill="#231f20">G</text>
<text transform="translate(455.50,654.30) scale(0.97,1)" font-size="11.2" font-weight="bold" text-anchor="middle" fill="#231f20">G</text>
<text transform="translate(463.90,654.30) scale(0.97,1)" font-size="11.2" font-weight="bold" text-anchor="middle" fill="#231f20">T</text>
<text transform="translate(472.30,654.30) scale(0.97,1)" font-size="11.2" font-weight="bold" text-anchor="middle" fill="#231f20">A</text>
<text transform="translate(480.70,654.30) scale(0.97,1)" font-size="11.2" font-weight="bold" text-anchor="middle" fill="#231f20">G</text>
<text transform="translate(489.10,654.30) scale(0.97,1)" font-size="11.2" font-weight="bold" text-anchor="middle" fill="#231f20">T</text>
<text transform="translate(497.50,654.30) scale(0.97,1)" font-size="11.2" font-weight="bold" text-anchor="middle" fill="#231f20">A</text>
<text transform="translate(505.90,654.30) scale(0.97,1)" font-size="11.2" font-weight="bold" text-anchor="middle" fill="#231f20">G</text>
<text transform="translate(514.30,654.30) scale(0.97,1)" font-size="11.2" font-weight="bold" text-anchor="middle" fill="#231f20">A</text>
<text transform="translate(522.70,654.30) scale(0.97,1)" font-size="11.2" font-weight="bold" text-anchor="middle" fill="#231f20">T</text>
<text transform="translate(531.10,654.30) scale(0.97,1)" font-size="11.2" font-weight="bold" text-anchor="middle" fill="#231f20">T</text>
<text transform="translate(539.50,654.30) scale(0.97,1)" font-size="11.2" font-weight="bold" text-anchor="middle" fill="#231f20">G</text>
<text transform="translate(547.90,654.30) scale(0.97,1)" font-size="11.2" font-weight="bold" text-anchor="middle" fill="#231f20">T</text>
<text transform="translate(556.30,654.30) scale(0.97,1)" font-size="11.2" font-weight="bold" text-anchor="middle" fill="#231f20">A</text>
<text transform="translate(564.70,654.30) scale(0.97,1)" font-size="11.2" font-weight="bold" text-anchor="middle" fill="#231f20">T</text>
<text transform="translate(573.10,654.30) scale(0.97,1)" font-size="11.2" font-weight="bold" text-anchor="middle" fill="#231f20">A</text>
<text transform="translate(581.50,654.30) scale(0.97,1)" font-size="11.2" font-weight="bold" text-anchor="middle" fill="#231f20">G</text>
<text transform="translate(589.90,654.30) scale(0.97,1)" font-size="11.2" font-weight="bold" text-anchor="middle" fill="#231f20">T</text>
<text transform="translate(598.30,654.30) scale(0.97,1)" font-size="11.2" font-weight="bold" text-anchor="middle" fill="#231f20">T</text>
<text transform="translate(606.70,654.30) scale(0.97,1)" font-size="11.2" font-weight="bold" text-anchor="middle" fill="#231f20">B</text>
<polygon points="421.20,818.20 421.20,812.80 425.50,806.30 430.90,801.00 439.60,796.00 455.50,794.50 458.20,781.80 461.80,769.00 468.20,749.00 471.80,738.20 478.20,729.00 484.50,725.50 494.50,726.40 501.80,722.70 508.20,719.10 516.40,720.90 520.00,732.70 525.50,738.20 530.00,750.00 535.00,766.00 538.20,773.60 547.30,778.20 553.60,785.50 556.80,787.80 564.30,785.60 569.70,791.00 579.40,800.70 585.90,806.10 590.20,811.50 597.80,812.60 597.80,818.20" fill="#bcbbbd"/>
<line x1="413.50" y1="655.60" x2="413.50" y2="818.20" stroke="rgba(50,50,50,0.42)" stroke-width="0.7" stroke-dasharray="1.2,1.4"/>
<line x1="421.90" y1="655.60" x2="421.90" y2="818.20" stroke="rgba(60,60,60,0.16)" stroke-width="0.7" stroke-dasharray="1.2,1.4"/>
<line x1="430.30" y1="655.60" x2="430.30" y2="818.20" stroke="rgba(50,50,50,0.42)" stroke-width="0.7" stroke-dasharray="1.2,1.4"/>
<line x1="438.70" y1="655.60" x2="438.70" y2="818.20" stroke="rgba(60,60,60,0.16)" stroke-width="0.7" stroke-dasharray="1.2,1.4"/>
<line x1="447.10" y1="655.60" x2="447.10" y2="818.20" stroke="rgba(50,50,50,0.42)" stroke-width="0.7" stroke-dasharray="1.2,1.4"/>
<line x1="455.50" y1="655.60" x2="455.50" y2="818.20" stroke="rgba(60,60,60,0.16)" stroke-width="0.7" stroke-dasharray="1.2,1.4"/>
<line x1="463.90" y1="655.60" x2="463.90" y2="818.20" stroke="rgba(50,50,50,0.42)" stroke-width="0.7" stroke-dasharray="1.2,1.4"/>
<line x1="472.30" y1="655.60" x2="472.30" y2="818.20" stroke="rgba(60,60,60,0.16)" stroke-width="0.7" stroke-dasharray="1.2,1.4"/>
<line x1="480.70" y1="655.60" x2="480.70" y2="818.20" stroke="rgba(50,50,50,0.42)" stroke-width="0.7" stroke-dasharray="1.2,1.4"/>
<line x1="489.10" y1="655.60" x2="489.10" y2="818.20" stroke="rgba(60,60,60,0.16)" stroke-width="0.7" stroke-dasharray="1.2,1.4"/>
<line x1="497.50" y1="655.60" x2="497.50" y2="818.20" stroke="rgba(50,50,50,0.42)" stroke-width="0.7" stroke-dasharray="1.2,1.4"/>
<line x1="505.90" y1="655.60" x2="505.90" y2="818.20" stroke="rgba(60,60,60,0.16)" stroke-width="0.7" stroke-dasharray="1.2,1.4"/>
<line x1="514.30" y1="655.60" x2="514.30" y2="818.20" stroke="rgba(50,50,50,0.42)" stroke-width="0.7" stroke-dasharray="1.2,1.4"/>
<line x1="522.70" y1="655.60" x2="522.70" y2="818.20" stroke="rgba(60,60,60,0.16)" stroke-width="0.7" stroke-dasharray="1.2,1.4"/>
<line x1="531.10" y1="655.60" x2="531.10" y2="818.20" stroke="rgba(50,50,50,0.42)" stroke-width="0.7" stroke-dasharray="1.2,1.4"/>
<line x1="539.50" y1="655.60" x2="539.50" y2="818.20" stroke="rgba(60,60,60,0.16)" stroke-width="0.7" stroke-dasharray="1.2,1.4"/>
<line x1="547.90" y1="655.60" x2="547.90" y2="818.20" stroke="rgba(50,50,50,0.42)" stroke-width="0.7" stroke-dasharray="1.2,1.4"/>
<line x1="556.30" y1="655.60" x2="556.30" y2="818.20" stroke="rgba(60,60,60,0.16)" stroke-width="0.7" stroke-dasharray="1.2,1.4"/>
<line x1="564.70" y1="655.60" x2="564.70" y2="818.20" stroke="rgba(50,50,50,0.42)" stroke-width="0.7" stroke-dasharray="1.2,1.4"/>
<line x1="573.10" y1="655.60" x2="573.10" y2="818.20" stroke="rgba(60,60,60,0.16)" stroke-width="0.7" stroke-dasharray="1.2,1.4"/>
<line x1="581.50" y1="655.60" x2="581.50" y2="818.20" stroke="rgba(50,50,50,0.42)" stroke-width="0.7" stroke-dasharray="1.2,1.4"/>
<line x1="589.90" y1="655.60" x2="589.90" y2="818.20" stroke="rgba(60,60,60,0.16)" stroke-width="0.7" stroke-dasharray="1.2,1.4"/>
<line x1="598.30" y1="655.60" x2="598.30" y2="818.20" stroke="rgba(50,50,50,0.42)" stroke-width="0.7" stroke-dasharray="1.2,1.4"/>
<line x1="606.70" y1="655.60" x2="606.70" y2="818.20" stroke="rgba(60,60,60,0.16)" stroke-width="0.7" stroke-dasharray="1.2,1.4"/>
<line x1="409.30" y1="806.59" x2="610.60" y2="806.59" stroke="rgba(60,60,60,0.16)" stroke-width="0.7" stroke-dasharray="1.4,1.6"/>
<line x1="409.30" y1="794.97" x2="610.60" y2="794.97" stroke="rgba(50,50,50,0.42)" stroke-width="0.7" stroke-dasharray="1.8,1.6"/>
<line x1="409.30" y1="783.36" x2="610.60" y2="783.36" stroke="rgba(60,60,60,0.16)" stroke-width="0.7" stroke-dasharray="1.4,1.6"/>
<line x1="409.30" y1="771.74" x2="610.60" y2="771.74" stroke="rgba(50,50,50,0.42)" stroke-width="0.7" stroke-dasharray="1.8,1.6"/>
<line x1="409.30" y1="760.13" x2="610.60" y2="760.13" stroke="rgba(60,60,60,0.16)" stroke-width="0.7" stroke-dasharray="1.4,1.6"/>
<line x1="409.30" y1="748.51" x2="610.60" y2="748.51" stroke="rgba(50,50,50,0.42)" stroke-width="0.7" stroke-dasharray="1.8,1.6"/>
<line x1="409.30" y1="736.90" x2="610.60" y2="736.90" stroke="rgba(60,60,60,0.16)" stroke-width="0.7" stroke-dasharray="1.4,1.6"/>
<line x1="409.30" y1="725.29" x2="610.60" y2="725.29" stroke="rgba(50,50,50,0.42)" stroke-width="0.7" stroke-dasharray="1.8,1.6"/>
<line x1="409.30" y1="713.67" x2="610.60" y2="713.67" stroke="rgba(60,60,60,0.16)" stroke-width="0.7" stroke-dasharray="1.4,1.6"/>
<line x1="409.30" y1="702.06" x2="610.60" y2="702.06" stroke="rgba(50,50,50,0.42)" stroke-width="0.7" stroke-dasharray="1.8,1.6"/>
<line x1="409.30" y1="690.44" x2="610.60" y2="690.44" stroke="rgba(60,60,60,0.16)" stroke-width="0.7" stroke-dasharray="1.4,1.6"/>
<line x1="409.30" y1="678.83" x2="610.60" y2="678.83" stroke="rgba(50,50,50,0.42)" stroke-width="0.7" stroke-dasharray="1.8,1.6"/>
<line x1="409.30" y1="667.21" x2="610.60" y2="667.21" stroke="rgba(60,60,60,0.16)" stroke-width="0.7" stroke-dasharray="1.4,1.6"/>
<path d="M413.50,752.23 L417.30,763.61 L417.30,796.14 L413.50,800.78 L409.70,796.14 L409.70,763.61 Z" fill="#90d1dd" stroke="#90d1dd" stroke-width="0.5" stroke-linejoin="round"/>
<path d="M413.50,756.37 L416.69,766.39 L416.69,795.01 L413.50,799.09 L410.31,795.01 L410.31,766.39 Z" fill="#78c9d9" stroke="#78c9d9" stroke-width="0.5" stroke-linejoin="round"/>
<path d="M413.50,763.96 L415.86,775.34 L415.86,791.36 L413.50,796.00 L411.14,791.36 L411.14,775.34 Z" fill="#63b27c" stroke="#63b27c" stroke-width="0.5" stroke-linejoin="round"/>
<path d="M413.50,768.10 L415.36,777.41 L415.36,790.52 L413.50,794.31 L411.64,790.52 L411.64,777.41 Z" fill="#5aae48" stroke="#5aae48" stroke-width="0.5" stroke-linejoin="round"/>
<path d="M413.50,772.24 L414.87,779.48 L414.87,789.68 L413.50,792.63 L412.13,789.68 L412.13,779.48 Z" fill="#e8de4e" stroke="#e8de4e" stroke-width="0.5" stroke-linejoin="round"/>
<path d="M421.90,738.18 L425.95,740.67 L425.95,754.44 L421.90,758.73 L417.85,754.44 L417.85,740.67 Z" fill="#90d1dd" stroke="#90d1dd" stroke-width="0.5" stroke-linejoin="round"/>
<path d="M421.90,739.08 L425.30,741.28 L425.30,753.40 L421.90,757.17 L418.50,753.40 L418.50,741.28 Z" fill="#78c9d9" stroke="#78c9d9" stroke-width="0.5" stroke-linejoin="round"/>
<path d="M421.90,740.74 L424.41,743.24 L424.41,750.02 L421.90,754.31 L419.39,750.02 L419.39,743.24 Z" fill="#63b27c" stroke="#63b27c" stroke-width="0.5" stroke-linejoin="round"/>
<path d="M421.90,741.65 L423.88,743.69 L423.88,749.24 L421.90,752.75 L419.92,749.24 L419.92,743.69 Z" fill="#5aae48" stroke="#5aae48" stroke-width="0.5" stroke-linejoin="round"/>
<path d="M421.90,742.56 L423.36,744.14 L423.36,748.46 L421.90,751.19 L420.44,748.46 L420.44,744.14 Z" fill="#e8de4e" stroke="#e8de4e" stroke-width="0.5" stroke-linejoin="round"/>
<path d="M421.90,728.19 L424.30,729.64 L424.30,732.54 L421.90,734.00 L419.50,732.54 L419.50,729.64 Z" fill="#90d1dd" stroke="#90d1dd" stroke-width="0.5" stroke-linejoin="round"/>
<path d="M421.90,728.54 L423.92,729.82 L423.92,732.37 L421.90,733.65 L419.88,732.37 L419.88,729.82 Z" fill="#78c9d9" stroke="#78c9d9" stroke-width="0.5" stroke-linejoin="round"/>
<path d="M430.30,670.23 L434.35,674.49 L434.35,693.24 L430.30,698.22 L426.25,693.24 L426.25,674.49 Z" fill="#90d1dd" stroke="#90d1dd" stroke-width="0.5" stroke-linejoin="round"/>
<path d="M430.30,671.78 L433.70,675.52 L433.70,692.03 L430.30,696.41 L426.90,692.03 L426.90,675.52 Z" fill="#78c9d9" stroke="#78c9d9" stroke-width="0.5" stroke-linejoin="round"/>
<path d="M430.30,674.62 L432.81,678.87 L432.81,688.11 L430.30,693.09 L427.79,688.11 L427.79,678.87 Z" fill="#63b27c" stroke="#63b27c" stroke-width="0.5" stroke-linejoin="round"/>
<path d="M430.30,676.33 L432.30,679.73 L432.30,687.11 L430.30,691.09 L428.30,687.11 L428.30,679.73 Z" fill="#5aae48" stroke="#5aae48" stroke-width="0.5" stroke-linejoin="round"/>
<path d="M430.30,678.03 L431.80,680.58 L431.80,686.11 L430.30,689.09 L428.80,686.11 L428.80,680.58 Z" fill="#e8de4e" stroke="#e8de4e" stroke-width="0.5" stroke-linejoin="round"/>
<path d="M430.30,679.74 L431.29,681.43 L431.29,685.11 L430.30,687.09 L429.31,685.11 L429.31,681.43 Z" fill="#ef7d35" stroke="#ef7d35" stroke-width="0.5" stroke-linejoin="round"/>
<path d="M430.30,681.45 L430.79,682.29 L430.79,684.11 L430.30,685.09 L429.81,684.11 L429.81,682.29 Z" fill="#e2392d" stroke="#e2392d" stroke-width="0.5" stroke-linejoin="round"/>
<path d="M438.70,699.39 L442.75,703.99 L442.75,723.52 L438.70,728.54 L434.65,723.52 L434.65,703.99 Z" fill="#90d1dd" stroke="#90d1dd" stroke-width="0.5" stroke-linejoin="round"/>
<path d="M438.70,701.06 L442.10,705.11 L442.10,722.29 L438.70,726.71 L435.30,722.29 L435.30,705.11 Z" fill="#78c9d9" stroke="#78c9d9" stroke-width="0.5" stroke-linejoin="round"/>
<path d="M438.70,704.12 L441.21,708.72 L441.21,718.34 L438.70,723.36 L436.19,718.34 L436.19,708.72 Z" fill="#63b27c" stroke="#63b27c" stroke-width="0.5" stroke-linejoin="round"/>
<path d="M438.70,705.97 L440.70,709.65 L440.70,717.34 L438.70,721.35 L436.70,717.34 L436.70,709.65 Z" fill="#5aae48" stroke="#5aae48" stroke-width="0.5" stroke-linejoin="round"/>
<path d="M438.70,707.82 L440.20,710.57 L440.20,716.33 L438.70,719.33 L437.20,716.33 L437.20,710.57 Z" fill="#e8de4e" stroke="#e8de4e" stroke-width="0.5" stroke-linejoin="round"/>
<path d="M438.70,709.66 L439.69,711.49 L439.69,715.32 L438.70,717.32 L437.71,715.32 L437.71,711.49 Z" fill="#ef7d35" stroke="#ef7d35" stroke-width="0.5" stroke-linejoin="round"/>
<path d="M438.70,711.51 L439.19,712.42 L439.19,714.31 L438.70,715.30 L438.21,714.31 L438.21,712.42 Z" fill="#e2392d" stroke="#e2392d" stroke-width="0.5" stroke-linejoin="round"/>
<path d="M447.10,670.23 L451.15,675.56 L451.15,695.09 L447.10,699.39 L443.05,695.09 L443.05,675.56 Z" fill="#90d1dd" stroke="#90d1dd" stroke-width="0.5" stroke-linejoin="round"/>
<path d="M447.10,672.17 L450.50,676.86 L450.50,694.05 L447.10,697.82 L443.70,694.05 L443.70,676.86 Z" fill="#78c9d9" stroke="#78c9d9" stroke-width="0.5" stroke-linejoin="round"/>
<path d="M447.10,675.72 L449.61,681.05 L449.61,690.67 L447.10,694.96 L444.59,690.67 L444.59,681.05 Z" fill="#63b27c" stroke="#63b27c" stroke-width="0.5" stroke-linejoin="round"/>
<path d="M447.10,677.86 L449.10,682.12 L449.10,689.81 L447.10,693.24 L445.10,689.81 L445.10,682.12 Z" fill="#5aae48" stroke="#5aae48" stroke-width="0.5" stroke-linejoin="round"/>
<path d="M447.10,680.00 L448.60,683.19 L448.60,688.95 L447.10,691.52 L445.60,688.95 L445.60,683.19 Z" fill="#e8de4e" stroke="#e8de4e" stroke-width="0.5" stroke-linejoin="round"/>
<path d="M447.10,682.14 L448.09,684.26 L448.09,688.09 L447.10,689.79 L446.11,688.09 L446.11,684.26 Z" fill="#ef7d35" stroke="#ef7d35" stroke-width="0.5" stroke-linejoin="round"/>
<path d="M447.10,684.28 L447.59,685.33 L447.59,687.22 L447.10,688.07 L446.61,687.22 L446.61,685.33 Z" fill="#e2392d" stroke="#e2392d" stroke-width="0.5" stroke-linejoin="round"/>
<path d="M455.50,668.03 L459.55,671.94 L459.55,686.41 L455.50,689.63 L451.45,686.41 L451.45,671.94 Z" fill="#90d1dd" stroke="#90d1dd" stroke-width="0.5" stroke-linejoin="round"/>
<path d="M455.50,669.45 L458.90,672.89 L458.90,685.63 L455.50,688.46 L452.10,685.63 L452.10,672.89 Z" fill="#78c9d9" stroke="#78c9d9" stroke-width="0.5" stroke-linejoin="round"/>
<path d="M455.50,672.06 L458.01,675.96 L458.01,683.09 L455.50,686.31 L452.99,683.09 L452.99,675.96 Z" fill="#63b27c" stroke="#63b27c" stroke-width="0.5" stroke-linejoin="round"/>
<path d="M455.50,673.87 L457.40,676.87 L457.40,682.35 L455.50,684.82 L453.60,682.35 L453.60,676.87 Z" fill="#5aae48" stroke="#5aae48" stroke-width="0.5" stroke-linejoin="round"/>
<path d="M455.50,675.69 L456.80,677.78 L456.80,681.60 L455.50,683.32 L454.20,681.60 L454.20,677.78 Z" fill="#e8de4e" stroke="#e8de4e" stroke-width="0.5" stroke-linejoin="round"/>
<path d="M455.50,677.50 L456.19,678.69 L456.19,680.85 L455.50,681.83 L454.81,680.85 L454.81,678.69 Z" fill="#ef7d35" stroke="#ef7d35" stroke-width="0.5" stroke-linejoin="round"/>
<path d="M463.90,731.67 L467.95,737.04 L467.95,758.75 L463.90,764.08 L459.85,758.75 L459.85,737.04 Z" fill="#90d1dd" stroke="#90d1dd" stroke-width="0.5" stroke-linejoin="round"/>
<path d="M463.90,733.62 L467.30,738.35 L467.30,757.45 L463.90,762.14 L460.50,757.45 L460.50,738.35 Z" fill="#78c9d9" stroke="#78c9d9" stroke-width="0.5" stroke-linejoin="round"/>
<path d="M463.90,737.20 L466.41,742.57 L466.41,753.26 L463.90,758.59 L461.39,753.26 L461.39,742.57 Z" fill="#63b27c" stroke="#63b27c" stroke-width="0.5" stroke-linejoin="round"/>
<path d="M463.90,739.15 L465.88,743.54 L465.88,752.29 L463.90,756.65 L461.92,752.29 L461.92,743.54 Z" fill="#5aae48" stroke="#5aae48" stroke-width="0.5" stroke-linejoin="round"/>
<path d="M463.90,741.10 L465.36,744.52 L465.36,751.32 L463.90,754.71 L462.44,751.32 L462.44,744.52 Z" fill="#e8de4e" stroke="#e8de4e" stroke-width="0.5" stroke-linejoin="round"/>
<path d="M463.90,722.38 L466.30,723.83 L466.30,726.74 L463.90,728.19 L461.50,726.74 L461.50,723.83 Z" fill="#90d1dd" stroke="#90d1dd" stroke-width="0.5" stroke-linejoin="round"/>
<path d="M472.30,700.43 L476.35,704.69 L476.35,727.80 L472.30,734.93 L468.25,727.80 L468.25,704.69 Z" fill="#90d1dd" stroke="#90d1dd" stroke-width="0.5" stroke-linejoin="round"/>
<path d="M472.30,701.98 L475.70,705.72 L475.70,726.06 L472.30,732.33 L468.90,726.06 L468.90,705.72 Z" fill="#78c9d9" stroke="#78c9d9" stroke-width="0.5" stroke-linejoin="round"/>
<path d="M472.30,704.81 L474.81,709.07 L474.81,720.45 L472.30,727.58 L469.79,720.45 L469.79,709.07 Z" fill="#63b27c" stroke="#63b27c" stroke-width="0.5" stroke-linejoin="round"/>
<path d="M472.30,706.52 L474.30,709.92 L474.30,719.02 L472.30,724.72 L470.30,719.02 L470.30,709.92 Z" fill="#5aae48" stroke="#5aae48" stroke-width="0.5" stroke-linejoin="round"/>
<path d="M472.30,708.23 L473.80,710.78 L473.80,717.59 L472.30,721.86 L470.80,717.59 L470.80,710.78 Z" fill="#e8de4e" stroke="#e8de4e" stroke-width="0.5" stroke-linejoin="round"/>
<path d="M472.30,709.94 L473.29,711.63 L473.29,716.16 L472.30,718.99 L471.31,716.16 L471.31,711.63 Z" fill="#ef7d35" stroke="#ef7d35" stroke-width="0.5" stroke-linejoin="round"/>
<path d="M472.30,711.65 L472.79,712.49 L472.79,714.73 L472.30,716.13 L471.81,714.73 L471.81,712.49 Z" fill="#e2392d" stroke="#e2392d" stroke-width="0.5" stroke-linejoin="round"/>
<path d="M480.70,669.07 L484.75,675.51 L484.75,697.92 L480.70,702.52 L476.65,697.92 L476.65,675.51 Z" fill="#90d1dd" stroke="#90d1dd" stroke-width="0.5" stroke-linejoin="round"/>
<path d="M480.70,671.41 L484.10,677.08 L484.10,696.80 L480.70,700.85 L477.30,696.80 L477.30,677.08 Z" fill="#78c9d9" stroke="#78c9d9" stroke-width="0.5" stroke-linejoin="round"/>
<path d="M480.70,675.71 L483.21,682.15 L483.21,693.18 L480.70,697.78 L478.19,693.18 L478.19,682.15 Z" fill="#63b27c" stroke="#63b27c" stroke-width="0.5" stroke-linejoin="round"/>
<path d="M480.70,678.70 L482.60,683.64 L482.60,692.12 L480.70,695.65 L478.80,692.12 L478.80,683.64 Z" fill="#5aae48" stroke="#5aae48" stroke-width="0.5" stroke-linejoin="round"/>
<path d="M480.70,681.69 L482.00,685.14 L482.00,691.05 L480.70,693.51 L479.40,691.05 L479.40,685.14 Z" fill="#e8de4e" stroke="#e8de4e" stroke-width="0.5" stroke-linejoin="round"/>
<path d="M480.70,684.68 L481.39,686.63 L481.39,689.98 L480.70,691.37 L480.01,689.98 L480.01,686.63 Z" fill="#ef7d35" stroke="#ef7d35" stroke-width="0.5" stroke-linejoin="round"/>
<path d="M489.10,725.29 L493.15,731.34 L493.15,761.69 L489.10,770.58 L485.05,761.69 L485.05,731.34 Z" fill="#90d1dd" stroke="#90d1dd" stroke-width="0.5" stroke-linejoin="round"/>
<path d="M489.10,727.49 L492.50,732.82 L492.50,759.52 L489.10,767.35 L485.70,759.52 L485.70,732.82 Z" fill="#78c9d9" stroke="#78c9d9" stroke-width="0.5" stroke-linejoin="round"/>
<path d="M489.10,731.52 L491.61,737.58 L491.61,752.53 L489.10,761.42 L486.59,752.53 L486.59,737.58 Z" fill="#63b27c" stroke="#63b27c" stroke-width="0.5" stroke-linejoin="round"/>
<path d="M489.10,733.73 L491.08,738.68 L491.08,750.91 L489.10,758.19 L487.12,750.91 L487.12,738.68 Z" fill="#5aae48" stroke="#5aae48" stroke-width="0.5" stroke-linejoin="round"/>
<path d="M489.10,735.93 L490.56,739.78 L490.56,749.29 L489.10,754.95 L487.64,749.29 L487.64,739.78 Z" fill="#e8de4e" stroke="#e8de4e" stroke-width="0.5" stroke-linejoin="round"/>
<path d="M497.50,698.22 L501.55,703.21 L501.55,729.28 L497.50,737.13 L493.45,729.28 L493.45,703.21 Z" fill="#90d1dd" stroke="#90d1dd" stroke-width="0.5" stroke-linejoin="round"/>
<path d="M497.50,700.04 L500.90,704.42 L500.90,727.36 L497.50,734.28 L494.10,727.36 L494.10,704.42 Z" fill="#78c9d9" stroke="#78c9d9" stroke-width="0.5" stroke-linejoin="round"/>
<path d="M497.50,703.36 L500.01,708.34 L500.01,721.18 L497.50,729.04 L494.99,721.18 L494.99,708.34 Z" fill="#63b27c" stroke="#63b27c" stroke-width="0.5" stroke-linejoin="round"/>
<path d="M497.50,705.67 L499.40,709.50 L499.40,719.35 L497.50,725.39 L495.60,719.35 L495.60,709.50 Z" fill="#5aae48" stroke="#5aae48" stroke-width="0.5" stroke-linejoin="round"/>
<path d="M497.50,707.99 L498.80,710.66 L498.80,717.53 L497.50,721.74 L496.20,717.53 L496.20,710.66 Z" fill="#e8de4e" stroke="#e8de4e" stroke-width="0.5" stroke-linejoin="round"/>
<path d="M497.50,710.30 L498.19,711.81 L498.19,715.70 L497.50,718.08 L496.81,715.70 L496.81,711.81 Z" fill="#ef7d35" stroke="#ef7d35" stroke-width="0.5" stroke-linejoin="round"/>
<path d="M505.90,669.07 L509.95,674.06 L509.95,695.07 L505.90,700.43 L501.85,695.07 L501.85,674.06 Z" fill="#90d1dd" stroke="#90d1dd" stroke-width="0.5" stroke-linejoin="round"/>
<path d="M505.90,670.88 L509.30,675.27 L509.30,693.76 L505.90,698.48 L502.50,693.76 L502.50,675.27 Z" fill="#78c9d9" stroke="#78c9d9" stroke-width="0.5" stroke-linejoin="round"/>
<path d="M505.90,674.21 L508.41,679.19 L508.41,689.54 L505.90,694.90 L503.39,689.54 L503.39,679.19 Z" fill="#63b27c" stroke="#63b27c" stroke-width="0.5" stroke-linejoin="round"/>
<path d="M505.90,676.52 L507.80,680.35 L507.80,688.29 L505.90,692.41 L504.00,688.29 L504.00,680.35 Z" fill="#5aae48" stroke="#5aae48" stroke-width="0.5" stroke-linejoin="round"/>
<path d="M505.90,678.84 L507.20,681.50 L507.20,687.04 L505.90,689.92 L504.60,687.04 L504.60,681.50 Z" fill="#e8de4e" stroke="#e8de4e" stroke-width="0.5" stroke-linejoin="round"/>
<path d="M505.90,681.15 L506.59,682.66 L506.59,685.80 L505.90,687.42 L505.21,685.80 L505.21,682.66 Z" fill="#ef7d35" stroke="#ef7d35" stroke-width="0.5" stroke-linejoin="round"/>
<path d="M514.30,703.68 L518.35,707.25 L518.35,731.06 L514.30,739.22 L510.25,731.06 L510.25,707.25 Z" fill="#90d1dd" stroke="#90d1dd" stroke-width="0.5" stroke-linejoin="round"/>
<path d="M514.30,704.98 L517.70,708.12 L517.70,729.07 L514.30,736.25 L510.90,729.07 L510.90,708.12 Z" fill="#78c9d9" stroke="#78c9d9" stroke-width="0.5" stroke-linejoin="round"/>
<path d="M514.30,707.36 L516.81,710.92 L516.81,722.65 L514.30,730.81 L511.79,722.65 L511.79,710.92 Z" fill="#63b27c" stroke="#63b27c" stroke-width="0.5" stroke-linejoin="round"/>
<path d="M514.30,708.65 L516.28,711.57 L516.28,721.16 L514.30,727.84 L512.32,721.16 L512.32,711.57 Z" fill="#5aae48" stroke="#5aae48" stroke-width="0.5" stroke-linejoin="round"/>
<path d="M514.30,709.95 L515.76,712.22 L515.76,719.68 L514.30,724.87 L512.84,719.68 L512.84,712.22 Z" fill="#e8de4e" stroke="#e8de4e" stroke-width="0.5" stroke-linejoin="round"/>
<path d="M522.70,734.93 L526.75,739.22 L526.75,758.05 L522.70,763.03 L518.65,758.05 L518.65,739.22 Z" fill="#90d1dd" stroke="#90d1dd" stroke-width="0.5" stroke-linejoin="round"/>
<path d="M522.70,736.49 L526.10,740.26 L526.10,756.84 L522.70,761.22 L519.30,756.84 L519.30,740.26 Z" fill="#78c9d9" stroke="#78c9d9" stroke-width="0.5" stroke-linejoin="round"/>
<path d="M522.70,739.35 L525.21,743.64 L525.21,752.92 L522.70,757.90 L520.19,752.92 L520.19,743.64 Z" fill="#63b27c" stroke="#63b27c" stroke-width="0.5" stroke-linejoin="round"/>
<path d="M522.70,740.91 L524.68,744.42 L524.68,752.01 L522.70,756.09 L520.72,752.01 L520.72,744.42 Z" fill="#5aae48" stroke="#5aae48" stroke-width="0.5" stroke-linejoin="round"/>
<path d="M522.70,742.47 L524.16,745.20 L524.16,751.10 L522.70,754.27 L521.24,751.10 L521.24,745.20 Z" fill="#e8de4e" stroke="#e8de4e" stroke-width="0.5" stroke-linejoin="round"/>
<path d="M522.70,722.38 L525.10,723.83 L525.10,726.74 L522.70,728.19 L520.30,726.74 L520.30,723.83 Z" fill="#90d1dd" stroke="#90d1dd" stroke-width="0.5" stroke-linejoin="round"/>
<path d="M531.10,729.58 L535.15,735.29 L535.15,762.06 L531.10,769.54 L527.05,762.06 L527.05,735.29 Z" fill="#90d1dd" stroke="#90d1dd" stroke-width="0.5" stroke-linejoin="round"/>
<path d="M531.10,731.66 L534.50,736.69 L534.50,760.24 L531.10,766.82 L527.70,760.24 L527.70,736.69 Z" fill="#78c9d9" stroke="#78c9d9" stroke-width="0.5" stroke-linejoin="round"/>
<path d="M531.10,735.47 L533.61,741.18 L533.61,754.36 L531.10,761.84 L528.59,754.36 L528.59,741.18 Z" fill="#63b27c" stroke="#63b27c" stroke-width="0.5" stroke-linejoin="round"/>
<path d="M531.10,737.54 L533.08,742.22 L533.08,753.00 L531.10,759.12 L529.12,753.00 L529.12,742.22 Z" fill="#5aae48" stroke="#5aae48" stroke-width="0.5" stroke-linejoin="round"/>
<path d="M531.10,739.62 L532.56,743.25 L532.56,751.64 L531.10,756.40 L529.64,751.64 L529.64,743.25 Z" fill="#e8de4e" stroke="#e8de4e" stroke-width="0.5" stroke-linejoin="round"/>
<path d="M539.50,670.23 L543.55,675.56 L543.55,700.15 L539.50,706.94 L535.45,700.15 L535.45,675.56 Z" fill="#90d1dd" stroke="#90d1dd" stroke-width="0.5" stroke-linejoin="round"/>
<path d="M539.50,672.17 L542.90,676.86 L542.90,698.50 L539.50,704.47 L536.10,698.50 L536.10,676.86 Z" fill="#78c9d9" stroke="#78c9d9" stroke-width="0.5" stroke-linejoin="round"/>
<path d="M539.50,675.72 L542.01,681.05 L542.01,693.16 L539.50,699.95 L536.99,693.16 L536.99,681.05 Z" fill="#63b27c" stroke="#63b27c" stroke-width="0.5" stroke-linejoin="round"/>
<path d="M539.50,677.66 L541.48,682.02 L541.48,691.93 L539.50,697.48 L537.52,691.93 L537.52,682.02 Z" fill="#5aae48" stroke="#5aae48" stroke-width="0.5" stroke-linejoin="round"/>
<path d="M539.50,679.60 L540.96,682.99 L540.96,690.69 L539.50,695.01 L538.04,690.69 L538.04,682.99 Z" fill="#e8de4e" stroke="#e8de4e" stroke-width="0.5" stroke-linejoin="round"/>
<path d="M547.90,733.88 L551.95,738.86 L551.95,760.57 L547.90,766.28 L543.85,760.57 L543.85,738.86 Z" fill="#90d1dd" stroke="#90d1dd" stroke-width="0.5" stroke-linejoin="round"/>
<path d="M547.90,735.69 L551.30,740.08 L551.30,759.18 L547.90,764.21 L544.50,759.18 L544.50,740.08 Z" fill="#78c9d9" stroke="#78c9d9" stroke-width="0.5" stroke-linejoin="round"/>
<path d="M547.90,739.01 L550.41,744.00 L550.41,754.69 L547.90,760.40 L545.39,754.69 L545.39,744.00 Z" fill="#63b27c" stroke="#63b27c" stroke-width="0.5" stroke-linejoin="round"/>
<path d="M547.90,740.83 L549.88,744.90 L549.88,753.65 L547.90,758.32 L545.92,753.65 L545.92,744.90 Z" fill="#5aae48" stroke="#5aae48" stroke-width="0.5" stroke-linejoin="round"/>
<path d="M547.90,742.64 L549.36,745.81 L549.36,752.61 L547.90,756.25 L546.44,752.61 L546.44,745.81 Z" fill="#e8de4e" stroke="#e8de4e" stroke-width="0.5" stroke-linejoin="round"/>
<path d="M547.90,706.70 L549.10,708.45 L549.10,711.93 L547.90,713.67 L546.70,711.93 L546.70,708.45 Z" fill="#90d1dd" stroke="#90d1dd" stroke-width="0.5" stroke-linejoin="round"/>
<path d="M556.30,700.43 L560.35,706.83 L560.35,726.36 L556.30,729.58 L552.25,726.36 L552.25,706.83 Z" fill="#90d1dd" stroke="#90d1dd" stroke-width="0.5" stroke-linejoin="round"/>
<path d="M556.30,702.76 L559.70,708.39 L559.70,725.58 L556.30,728.41 L552.90,725.58 L552.90,708.39 Z" fill="#78c9d9" stroke="#78c9d9" stroke-width="0.5" stroke-linejoin="round"/>
<path d="M556.30,707.03 L558.81,713.43 L558.81,723.05 L556.30,726.27 L553.79,723.05 L553.79,713.43 Z" fill="#63b27c" stroke="#63b27c" stroke-width="0.5" stroke-linejoin="round"/>
<path d="M556.30,709.35 L558.28,714.59 L558.28,722.46 L556.30,725.10 L554.32,722.46 L554.32,714.59 Z" fill="#5aae48" stroke="#5aae48" stroke-width="0.5" stroke-linejoin="round"/>
<path d="M556.30,711.68 L557.76,715.75 L557.76,721.88 L556.30,723.92 L554.84,721.88 L554.84,715.75 Z" fill="#e8de4e" stroke="#e8de4e" stroke-width="0.5" stroke-linejoin="round"/>
<path d="M556.30,735.74 L558.10,737.48 L558.10,740.97 L556.30,742.71 L554.50,740.97 L554.50,737.48 Z" fill="#90d1dd" stroke="#90d1dd" stroke-width="0.5" stroke-linejoin="round"/>
<path d="M564.70,728.54 L568.75,737.08 L568.75,764.55 L564.70,769.54 L560.65,764.55 L560.65,737.08 Z" fill="#90d1dd" stroke="#90d1dd" stroke-width="0.5" stroke-linejoin="round"/>
<path d="M564.70,731.65 L568.10,739.17 L568.10,763.34 L564.70,767.72 L561.30,763.34 L561.30,739.17 Z" fill="#78c9d9" stroke="#78c9d9" stroke-width="0.5" stroke-linejoin="round"/>
<path d="M564.70,737.34 L567.21,745.89 L567.21,759.42 L564.70,764.40 L562.19,759.42 L562.19,745.89 Z" fill="#63b27c" stroke="#63b27c" stroke-width="0.5" stroke-linejoin="round"/>
<path d="M564.70,740.45 L566.68,747.44 L566.68,758.51 L564.70,762.59 L562.72,758.51 L562.72,747.44 Z" fill="#5aae48" stroke="#5aae48" stroke-width="0.5" stroke-linejoin="round"/>
<path d="M564.70,743.56 L566.16,749.00 L566.16,757.61 L564.70,760.78 L563.24,757.61 L563.24,749.00 Z" fill="#e8de4e" stroke="#e8de4e" stroke-width="0.5" stroke-linejoin="round"/>
<path d="M573.10,699.39 L577.15,705.79 L577.15,732.48 L573.10,739.22 L569.05,732.48 L569.05,705.79 Z" fill="#90d1dd" stroke="#90d1dd" stroke-width="0.5" stroke-linejoin="round"/>
<path d="M573.10,701.71 L576.50,707.35 L576.50,730.83 L573.10,736.77 L569.70,730.83 L569.70,707.35 Z" fill="#78c9d9" stroke="#78c9d9" stroke-width="0.5" stroke-linejoin="round"/>
<path d="M573.10,705.98 L575.61,712.38 L575.61,725.53 L573.10,732.27 L570.59,725.53 L570.59,712.38 Z" fill="#63b27c" stroke="#63b27c" stroke-width="0.5" stroke-linejoin="round"/>
<path d="M573.10,708.31 L575.08,713.54 L575.08,724.30 L573.10,729.82 L571.12,724.30 L571.12,713.54 Z" fill="#5aae48" stroke="#5aae48" stroke-width="0.5" stroke-linejoin="round"/>
<path d="M573.10,710.64 L574.56,714.71 L574.56,723.07 L573.10,727.37 L571.64,723.07 L571.64,714.71 Z" fill="#e8de4e" stroke="#e8de4e" stroke-width="0.5" stroke-linejoin="round"/>
<path d="M581.50,675.58 L585.55,679.87 L585.55,699.40 L581.50,704.73 L577.45,699.40 L577.45,679.87 Z" fill="#90d1dd" stroke="#90d1dd" stroke-width="0.5" stroke-linejoin="round"/>
<path d="M581.50,677.14 L584.90,680.92 L584.90,698.10 L581.50,702.79 L578.10,698.10 L578.10,680.92 Z" fill="#78c9d9" stroke="#78c9d9" stroke-width="0.5" stroke-linejoin="round"/>
<path d="M581.50,680.00 L584.01,684.29 L584.01,693.91 L581.50,699.24 L578.99,693.91 L578.99,684.29 Z" fill="#63b27c" stroke="#63b27c" stroke-width="0.5" stroke-linejoin="round"/>
<path d="M581.50,681.56 L583.48,685.07 L583.48,692.94 L581.50,697.30 L579.52,692.94 L579.52,685.07 Z" fill="#5aae48" stroke="#5aae48" stroke-width="0.5" stroke-linejoin="round"/>
<path d="M581.50,683.12 L582.96,685.85 L582.96,691.97 L581.50,695.36 L580.04,691.97 L580.04,685.85 Z" fill="#e8de4e" stroke="#e8de4e" stroke-width="0.5" stroke-linejoin="round"/>
<path d="M581.50,710.42 L583.90,711.87 L583.90,714.77 L581.50,716.23 L579.10,714.77 L579.10,711.87 Z" fill="#90d1dd" stroke="#90d1dd" stroke-width="0.5" stroke-linejoin="round"/>
<path d="M581.50,710.77 L583.52,712.05 L583.52,714.60 L581.50,715.88 L579.48,714.60 L579.48,712.05 Z" fill="#78c9d9" stroke="#78c9d9" stroke-width="0.5" stroke-linejoin="round"/>
<path d="M589.90,739.22 L593.95,741.02 L593.95,749.74 L589.90,752.23 L585.85,749.74 L585.85,741.02 Z" fill="#90d1dd" stroke="#90d1dd" stroke-width="0.5" stroke-linejoin="round"/>
<path d="M589.90,739.88 L593.30,741.46 L593.30,749.13 L589.90,751.32 L586.50,749.13 L586.50,741.46 Z" fill="#78c9d9" stroke="#78c9d9" stroke-width="0.5" stroke-linejoin="round"/>
<path d="M589.90,741.08 L592.41,742.88 L592.41,747.17 L589.90,749.66 L587.39,747.17 L587.39,742.88 Z" fill="#63b27c" stroke="#63b27c" stroke-width="0.5" stroke-linejoin="round"/>
<path d="M589.90,741.41 L592.21,743.04 L592.21,746.95 L589.90,749.21 L587.59,746.95 L587.59,743.04 Z" fill="#5aae48" stroke="#5aae48" stroke-width="0.5" stroke-linejoin="round"/>
<path d="M589.90,741.73 L592.01,743.21 L592.01,746.72 L589.90,748.76 L587.79,746.72 L587.79,743.21 Z" fill="#e8de4e" stroke="#e8de4e" stroke-width="0.5" stroke-linejoin="round"/>
<path d="M589.90,742.06 L591.80,743.37 L591.80,746.49 L589.90,748.31 L588.00,746.49 L588.00,743.37 Z" fill="#ef7d35" stroke="#ef7d35" stroke-width="0.5" stroke-linejoin="round"/>
<path d="M589.90,742.39 L591.60,743.54 L591.60,746.27 L589.90,747.85 L588.20,746.27 L588.20,743.54 Z" fill="#e2392d" stroke="#e2392d" stroke-width="0.5" stroke-linejoin="round"/>
<path d="M598.30,727.38 L602.35,730.60 L602.35,743.67 L598.30,746.89 L594.25,743.67 L594.25,730.60 Z" fill="#90d1dd" stroke="#90d1dd" stroke-width="0.5" stroke-linejoin="round"/>
<path d="M598.30,728.55 L601.70,731.38 L601.70,742.88 L598.30,745.72 L594.90,742.88 L594.90,731.38 Z" fill="#78c9d9" stroke="#78c9d9" stroke-width="0.5" stroke-linejoin="round"/>
<path d="M598.30,730.69 L600.81,733.91 L600.81,740.35 L598.30,743.57 L595.79,740.35 L595.79,733.91 Z" fill="#63b27c" stroke="#63b27c" stroke-width="0.5" stroke-linejoin="round"/>
<path d="M598.30,732.19 L600.20,734.66 L600.20,739.60 L598.30,742.08 L596.40,739.60 L596.40,734.66 Z" fill="#5aae48" stroke="#5aae48" stroke-width="0.5" stroke-linejoin="round"/>
<path d="M598.30,733.69 L599.60,735.41 L599.60,738.86 L598.30,740.58 L597.00,738.86 L597.00,735.41 Z" fill="#e8de4e" stroke="#e8de4e" stroke-width="0.5" stroke-linejoin="round"/>
<path d="M598.30,735.18 L598.99,736.16 L598.99,738.11 L598.30,739.08 L597.61,738.11 L597.61,736.16 Z" fill="#ef7d35" stroke="#ef7d35" stroke-width="0.5" stroke-linejoin="round"/>
<path d="M606.70,747.93 L610.30,759.66 L610.30,797.25 L606.70,804.03 L603.10,797.25 L603.10,759.66 Z" fill="#90d1dd" stroke="#90d1dd" stroke-width="0.5" stroke-linejoin="round"/>
<path d="M606.70,752.20 L609.72,762.52 L609.72,795.59 L606.70,801.56 L603.68,795.59 L603.68,762.52 Z" fill="#78c9d9" stroke="#78c9d9" stroke-width="0.5" stroke-linejoin="round"/>
<path d="M606.70,760.02 L608.93,771.75 L608.93,790.26 L606.70,797.04 L604.47,790.26 L604.47,771.75 Z" fill="#63b27c" stroke="#63b27c" stroke-width="0.5" stroke-linejoin="round"/>
<path d="M606.70,764.28 L608.46,773.88 L608.46,789.02 L606.70,794.57 L604.94,789.02 L604.94,773.88 Z" fill="#5aae48" stroke="#5aae48" stroke-width="0.5" stroke-linejoin="round"/>
<path d="M606.70,768.55 L608.00,776.01 L608.00,787.79 L606.70,792.11 L605.40,787.79 L605.40,776.01 Z" fill="#e8de4e" stroke="#e8de4e" stroke-width="0.5" stroke-linejoin="round"/>
<line x1="413.50" y1="818.20" x2="413.50" y2="816.00" stroke="#4d4d4d" stroke-width="0.8"/>
<line x1="421.90" y1="818.20" x2="421.90" y2="816.00" stroke="#4d4d4d" stroke-width="0.8"/>
<line x1="430.30" y1="818.20" x2="430.30" y2="816.00" stroke="#4d4d4d" stroke-width="0.8"/>
<line x1="438.70" y1="818.20" x2="438.70" y2="816.00" stroke="#4d4d4d" stroke-width="0.8"/>
<line x1="447.10" y1="818.20" x2="447.10" y2="816.00" stroke="#4d4d4d" stroke-width="0.8"/>
<line x1="455.50" y1="818.20" x2="455.50" y2="816.00" stroke="#4d4d4d" stroke-width="0.8"/>
<line x1="463.90" y1="818.20" x2="463.90" y2="816.00" stroke="#4d4d4d" stroke-width="0.8"/>
<line x1="472.30" y1="818.20" x2="472.30" y2="816.00" stroke="#4d4d4d" stroke-width="0.8"/>
<line x1="480.70" y1="818.20" x2="480.70" y2="816.00" stroke="#4d4d4d" stroke-width="0.8"/>
<line x1="489.10" y1="818.20" x2="489.10" y2="816.00" stroke="#4d4d4d" stroke-width="0.8"/>
<line x1="497.50" y1="818.20" x2="497.50" y2="816.00" stroke="#4d4d4d" stroke-width="0.8"/>
<line x1="505.90" y1="818.20" x2="505.90" y2="816.00" stroke="#4d4d4d" stroke-width="0.8"/>
<line x1="514.30" y1="818.20" x2="514.30" y2="816.00" stroke="#4d4d4d" stroke-width="0.8"/>
<line x1="522.70" y1="818.20" x2="522.70" y2="816.00" stroke="#4d4d4d" stroke-width="0.8"/>
<line x1="531.10" y1="818.20" x2="531.10" y2="816.00" stroke="#4d4d4d" stroke-width="0.8"/>
<line x1="539.50" y1="818.20" x2="539.50" y2="816.00" stroke="#4d4d4d" stroke-width="0.8"/>
<line x1="547.90" y1="818.20" x2="547.90" y2="816.00" stroke="#4d4d4d" stroke-width="0.8"/>
<line x1="556.30" y1="818.20" x2="556.30" y2="816.00" stroke="#4d4d4d" stroke-width="0.8"/>
<line x1="564.70" y1="818.20" x2="564.70" y2="816.00" stroke="#4d4d4d" stroke-width="0.8"/>
<line x1="573.10" y1="818.20" x2="573.10" y2="816.00" stroke="#4d4d4d" stroke-width="0.8"/>
<line x1="581.50" y1="818.20" x2="581.50" y2="816.00" stroke="#4d4d4d" stroke-width="0.8"/>
<line x1="589.90" y1="818.20" x2="589.90" y2="816.00" stroke="#4d4d4d" stroke-width="0.8"/>
<line x1="598.30" y1="818.20" x2="598.30" y2="816.00" stroke="#4d4d4d" stroke-width="0.8"/>
<line x1="606.70" y1="818.20" x2="606.70" y2="816.00" stroke="#4d4d4d" stroke-width="0.8"/>
<line x1="409.30" y1="818.20" x2="412.80" y2="818.20" stroke="#4d4d4d" stroke-width="0.9"/>
<line x1="409.30" y1="806.59" x2="411.30" y2="806.59" stroke="#4d4d4d" stroke-width="0.9"/>
<line x1="409.30" y1="794.97" x2="412.80" y2="794.97" stroke="#4d4d4d" stroke-width="0.9"/>
<line x1="409.30" y1="783.36" x2="411.30" y2="783.36" stroke="#4d4d4d" stroke-width="0.9"/>
<line x1="409.30" y1="771.74" x2="412.80" y2="771.74" stroke="#4d4d4d" stroke-width="0.9"/>
<line x1="409.30" y1="760.13" x2="411.30" y2="760.13" stroke="#4d4d4d" stroke-width="0.9"/>
<line x1="409.30" y1="748.51" x2="412.80" y2="748.51" stroke="#4d4d4d" stroke-width="0.9"/>
<line x1="409.30" y1="736.90" x2="411.30" y2="736.90" stroke="#4d4d4d" stroke-width="0.9"/>
<line x1="409.30" y1="725.29" x2="412.80" y2="725.29" stroke="#4d4d4d" stroke-width="0.9"/>
<line x1="409.30" y1="713.67" x2="411.30" y2="713.67" stroke="#4d4d4d" stroke-width="0.9"/>
<line x1="409.30" y1="702.06" x2="412.80" y2="702.06" stroke="#4d4d4d" stroke-width="0.9"/>
<line x1="409.30" y1="690.44" x2="411.30" y2="690.44" stroke="#4d4d4d" stroke-width="0.9"/>
<line x1="409.30" y1="678.83" x2="412.80" y2="678.83" stroke="#4d4d4d" stroke-width="0.9"/>
<line x1="409.30" y1="667.21" x2="411.30" y2="667.21" stroke="#4d4d4d" stroke-width="0.9"/>
<line x1="409.30" y1="655.60" x2="412.80" y2="655.60" stroke="#4d4d4d" stroke-width="0.9"/>
<line x1="610.60" y1="663.30" x2="607.60" y2="663.30" stroke="#4d4d4d" stroke-width="0.9"/>
<line x1="610.60" y1="685.30" x2="607.60" y2="685.30" stroke="#4d4d4d" stroke-width="0.9"/>
<line x1="610.60" y1="707.30" x2="607.60" y2="707.30" stroke="#4d4d4d" stroke-width="0.9"/>
<line x1="610.60" y1="729.30" x2="607.60" y2="729.30" stroke="#4d4d4d" stroke-width="0.9"/>
<line x1="610.60" y1="751.30" x2="607.60" y2="751.30" stroke="#4d4d4d" stroke-width="0.9"/>
<line x1="610.60" y1="773.30" x2="607.60" y2="773.30" stroke="#4d4d4d" stroke-width="0.9"/>
<line x1="610.60" y1="795.30" x2="607.60" y2="795.30" stroke="#4d4d4d" stroke-width="0.9"/>
<line x1="610.60" y1="674.30" x2="607.60" y2="674.30" stroke="#4d4d4d" stroke-width="0.9"/>
<line x1="610.60" y1="696.30" x2="607.60" y2="696.30" stroke="#4d4d4d" stroke-width="0.9"/>
<line x1="610.60" y1="718.30" x2="607.60" y2="718.30" stroke="#4d4d4d" stroke-width="0.9"/>
<line x1="610.60" y1="740.30" x2="607.60" y2="740.30" stroke="#4d4d4d" stroke-width="0.9"/>
<line x1="610.60" y1="762.30" x2="607.60" y2="762.30" stroke="#4d4d4d" stroke-width="0.9"/>
<line x1="610.60" y1="784.30" x2="607.60" y2="784.30" stroke="#4d4d4d" stroke-width="0.9"/>
<line x1="610.60" y1="806.30" x2="607.60" y2="806.30" stroke="#4d4d4d" stroke-width="0.9"/>
<rect x="409.30" y="655.60" width="201.30" height="162.60" fill="none" stroke="#7d7d7d" stroke-width="1.0"/>
<rect x="484.40" y="631.00" width="9.50" height="187.90" fill="none" stroke="#ef6a3a" stroke-width="1.5" stroke-dasharray="2.3,1.7"/>
<rect x="508.70" y="632.50" width="9.60" height="184.80" fill="none" stroke="#2e3192" stroke-width="1.4"/>
<rect x="569.70" y="631.70" width="9.70" height="186.90" fill="none" stroke="#e3338f" stroke-width="1.5" stroke-dasharray="2.3,1.7"/>
<text x="409.00" y="797.77" font-size="10.3" font-weight="bold" text-anchor="end" fill="#231f20">0.0</text>
<text x="409.00" y="774.54" font-size="10.3" font-weight="bold" text-anchor="end" fill="#231f20">0.2</text>
<text x="409.00" y="751.31" font-size="10.3" font-weight="bold" text-anchor="end" fill="#231f20">0.4</text>
<text x="409.00" y="728.09" font-size="10.3" font-weight="bold" text-anchor="end" fill="#231f20">0.6</text>
<text x="409.00" y="704.86" font-size="10.3" font-weight="bold" text-anchor="end" fill="#231f20">0.8</text>
<text x="409.00" y="681.63" font-size="10.3" font-weight="bold" text-anchor="end" fill="#231f20">1.0</text>
<text x="409.00" y="658.40" font-size="10.3" font-weight="bold" text-anchor="end" fill="#231f20">1.2</text>
<rect x="374.20" y="669.40" width="19.60" height="19.50" fill="#b9bde6" stroke="#a9d6e6" stroke-width="0.6"/>
<text x="384.00" y="683.15" font-size="11" font-weight="bold" text-anchor="middle" fill="#231f20">G</text>
<rect x="374.20" y="697.10" width="19.60" height="26.00" fill="#f3b8c4" stroke="#a9d6e6" stroke-width="0.6"/>
<text x="384.00" y="714.10" font-size="11" font-weight="bold" text-anchor="middle" fill="#231f20">A</text>
<rect x="374.20" y="733.60" width="19.60" height="18.40" fill="#b3e0c9" stroke="#a9d6e6" stroke-width="0.6"/>
<text x="384.00" y="746.80" font-size="11" font-weight="bold" text-anchor="middle" fill="#231f20">T</text>
<rect x="374.20" y="778.20" width="19.60" height="19.60" fill="#c9c7ca" stroke="#a9d6e6" stroke-width="0.6"/>
<text x="384.00" y="792.00" font-size="11" font-weight="bold" text-anchor="middle" fill="#231f20">B</text>
<text transform="translate(367.30,733.00) rotate(-90)" font-size="10.65" font-weight="bold" text-anchor="middle" fill="#231f20">Normalized conductance</text>
<text x="612.50" y="667.00" font-size="10.3" font-weight="bold" fill="#231f20">140</text>
<text x="612.50" y="689.00" font-size="10.3" font-weight="bold" fill="#231f20">120</text>
<text x="612.50" y="711.00" font-size="10.3" font-weight="bold" fill="#231f20">100</text>
<text x="612.50" y="733.00" font-size="10.3" font-weight="bold" fill="#231f20">80</text>
<text x="612.50" y="755.00" font-size="10.3" font-weight="bold" fill="#231f20">60</text>
<text x="612.50" y="777.00" font-size="10.3" font-weight="bold" fill="#231f20">40</text>
<text x="612.50" y="799.00" font-size="10.3" font-weight="bold" fill="#231f20">20</text>
<text x="612.50" y="821.00" font-size="10.3" font-weight="bold" fill="#231f20">0</text>
<text transform="translate(630.90,742.50) rotate(90)" font-size="10.6" font-weight="bold" text-anchor="middle" fill="#231f20">Coverage</text>
<text x="414.00" y="831.30" font-size="10.3" font-weight="bold" text-anchor="middle" fill="#231f20">0</text>
<text x="430.92" y="831.30" font-size="10.3" font-weight="bold" text-anchor="middle" fill="#231f20">2</text>
<text x="447.84" y="831.30" font-size="10.3" font-weight="bold" text-anchor="middle" fill="#231f20">4</text>
<text x="464.76" y="831.30" font-size="10.3" font-weight="bold" text-anchor="middle" fill="#231f20">6</text>
<text x="481.68" y="831.30" font-size="10.3" font-weight="bold" text-anchor="middle" fill="#231f20">8</text>
<text x="498.60" y="831.30" font-size="10.3" font-weight="bold" text-anchor="middle" fill="#231f20">10</text>
<text x="515.52" y="831.30" font-size="10.3" font-weight="bold" text-anchor="middle" fill="#231f20">12</text>
<text x="532.44" y="831.30" font-size="10.3" font-weight="bold" text-anchor="middle" fill="#231f20">14</text>
<text x="549.36" y="831.30" font-size="10.3" font-weight="bold" text-anchor="middle" fill="#231f20">16</text>
<text x="566.28" y="831.30" font-size="10.3" font-weight="bold" text-anchor="middle" fill="#231f20">18</text>
<text x="583.20" y="831.30" font-size="10.3" font-weight="bold" text-anchor="middle" fill="#231f20">20</text>
<text x="600.12" y="831.30" font-size="10.3" font-weight="bold" text-anchor="middle" fill="#231f20">22</text>
<text x="517.50" y="842.40" font-size="10.6" font-weight="bold" text-anchor="middle" fill="#231f20">Base Position</text>
<text x="634.00" y="632.60" font-size="10.4" font-weight="bold" fill="#231f20">Ratio</text>
<rect x="633.00" y="642.50" width="7.80" height="7.66" fill="#8fd0dc"/>
<rect x="633.00" y="649.96" width="7.80" height="7.66" fill="#5ebfd5"/>
<rect x="633.00" y="657.41" width="7.80" height="7.66" fill="#62b37a"/>
<rect x="633.00" y="664.87" width="7.80" height="7.66" fill="#5aae48"/>
<rect x="633.00" y="672.33" width="7.80" height="7.66" fill="#e8de4e"/>
<rect x="633.00" y="679.79" width="7.80" height="7.66" fill="#ef7d35"/>
<rect x="633.00" y="687.24" width="7.80" height="7.66" fill="#e2392d"/>
<text transform="translate(641.60,643.90) scale(0.96,1)" font-size="8.7" font-weight="bold" fill="#231f20" class="cbl">0.02</text>
<text transform="translate(641.60,651.36) scale(0.96,1)" font-size="8.7" font-weight="bold" fill="#231f20" class="cbl">0.10</text>
<text transform="translate(641.60,658.81) scale(0.96,1)" font-size="8.7" font-weight="bold" fill="#231f20" class="cbl">0.12</text>
<text transform="translate(641.60,666.27) scale(0.96,1)" font-size="8.7" font-weight="bold" fill="#231f20" class="cbl">0.15</text>
<text transform="translate(641.60,673.73) scale(0.96,1)" font-size="8.7" font-weight="bold" fill="#231f20" class="cbl">0.20</text>
<text transform="translate(641.60,681.19) scale(0.96,1)" font-size="8.7" font-weight="bold" fill="#231f20" class="cbl">0.30</text>
<text transform="translate(641.60,688.64) scale(0.96,1)" font-size="8.7" font-weight="bold" fill="#231f20" class="cbl">0.40</text>
<text transform="translate(641.60,696.10) scale(0.96,1)" font-size="8.7" font-weight="bold" fill="#231f20" class="cbl">0.50</text>
<line x1="414.40" y1="685.40" x2="426.60" y2="685.40" stroke="#111" stroke-width="1.5"/>
<path d="M410.40,685.40 L417.40,681.50 L415.40,685.40 L417.40,689.30 Z" fill="#111"/>
<line x1="591.30" y1="807.80" x2="606.70" y2="807.80" stroke="#111" stroke-width="1.5"/>
<path d="M610.70,807.80 L603.70,803.90 L605.70,807.80 L603.70,811.70 Z" fill="#111"/>
</svg></body></html>
